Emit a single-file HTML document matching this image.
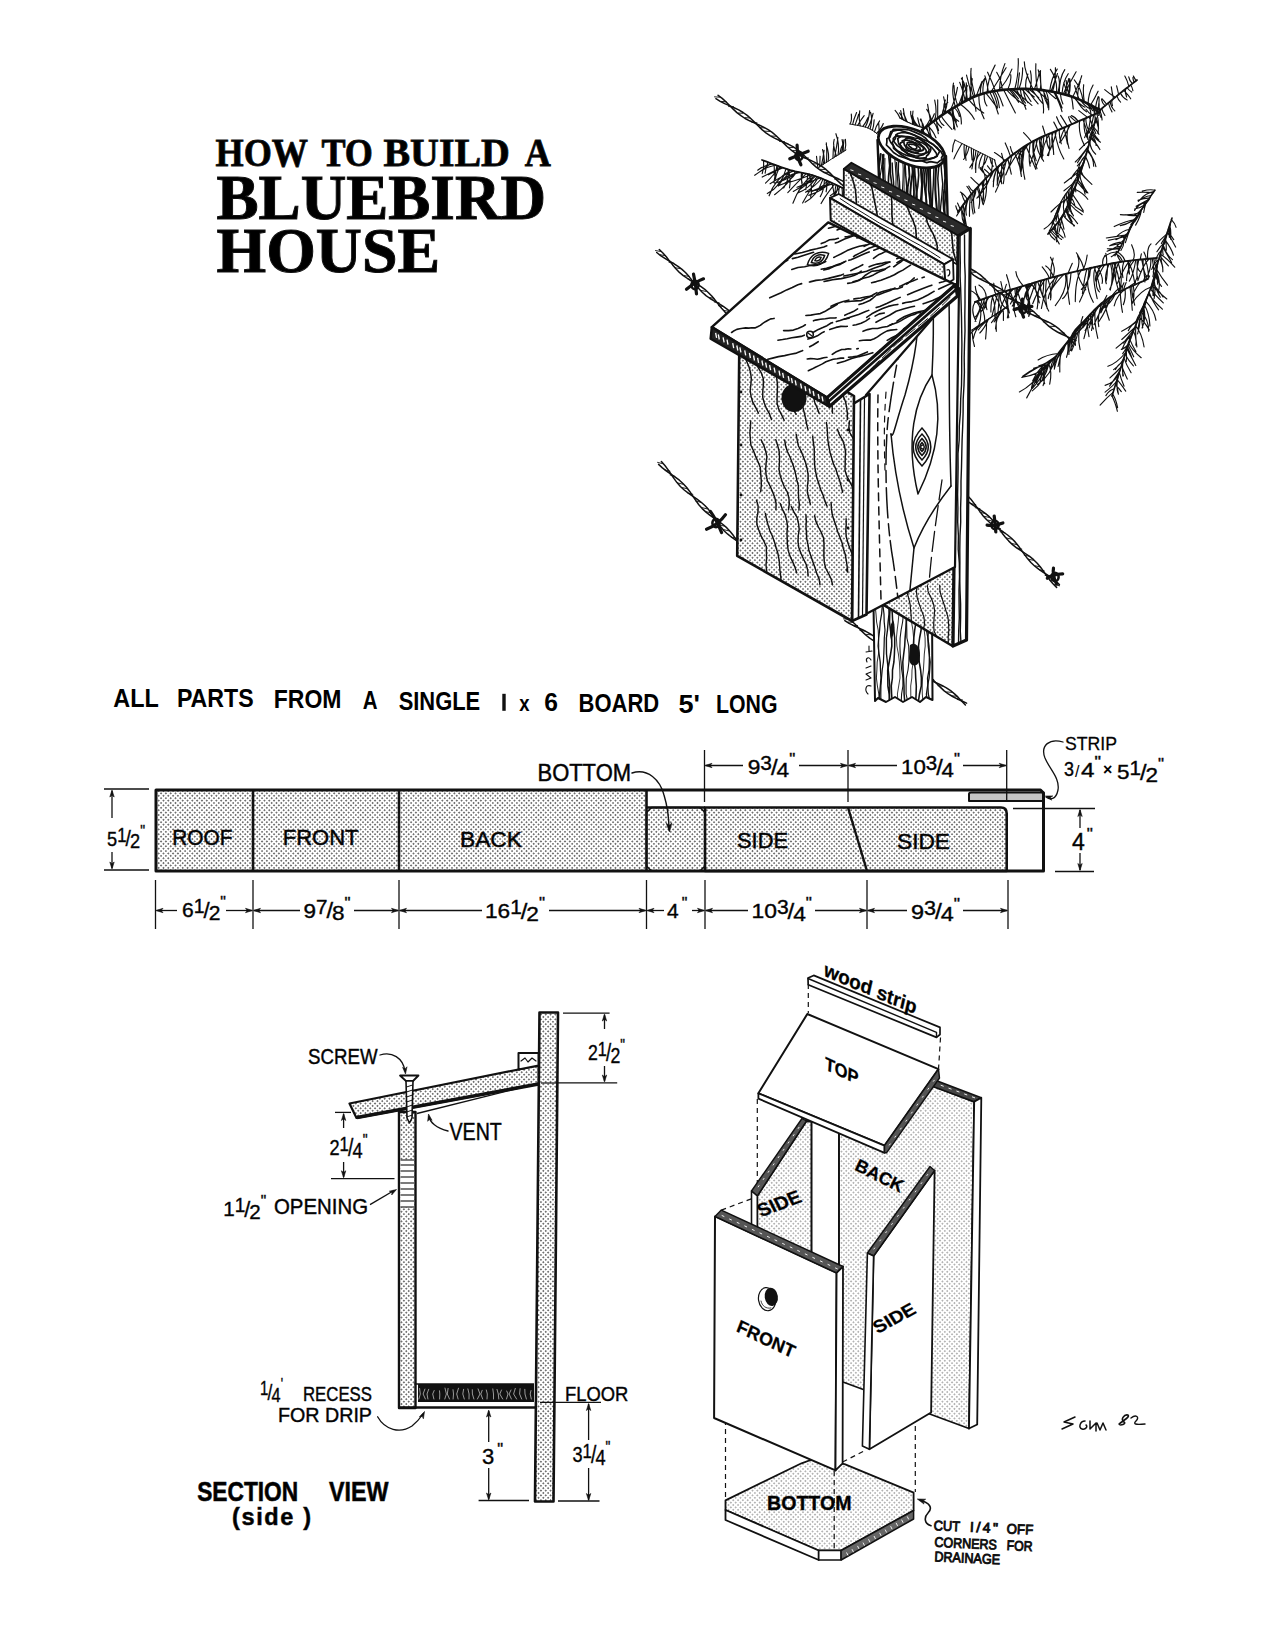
<!DOCTYPE html>
<html><head><meta charset="utf-8"><title>How to Build a Bluebird House</title>
<style>
html,body{margin:0;padding:0;background:#fff;}
body{width:1275px;height:1650px;overflow:hidden;font-family:"Liberation Sans",sans-serif;}
svg{position:absolute;left:0;top:0;display:block;}
</style></head><body>
<svg width="1275" height="1650" viewBox="0 0 1275 1650">
<defs>
<pattern id="dots" width="3.4" height="3.4" patternUnits="userSpaceOnUse" patternTransform="rotate(45)">
<rect width="3.4" height="3.4" fill="#fff"/><circle cx="1.7" cy="1.7" r="0.8" fill="#333"/></pattern>
<pattern id="dotsL" width="3.4" height="3.4" patternUnits="userSpaceOnUse" patternTransform="rotate(45)">
<rect width="3.4" height="3.4" fill="#fff"/><circle cx="1.7" cy="1.7" r="0.7" fill="#555"/></pattern>
<pattern id="grain" width="4" height="4" patternUnits="userSpaceOnUse">
<rect width="4" height="4" fill="#e4e4e4"/></pattern>
</defs>
<rect width="1275" height="1650" fill="#fff"/>
<polyline points="715.9,98.7 720.2,101.3 724.7,103.6 729.4,105.6 734.1,107.7 738.7,109.9 743.1,112.5 747.2,115.4 751.0,118.8 754.7,122.4 758.3,126.0 762.0,129.6 765.9,132.8 770.0,135.6 774.5,138.1 779.1,140.2 783.8,142.2 788.5,144.3 793.0,146.7 797.2,149.5 801.1,152.7 804.9,156.2 808.5,159.8 812.1,163.5 815.9,166.9 819.9,169.9 824.3,172.5 828.8,174.7 833.5,176.8 838.3,178.8 842.8,181.1 847.2,183.7 851.2,186.7 855.0,190.0 858.7,193.6 862.3,197.3 866.0,200.8 869.9,204.0 874.1,206.8 878.6,209.2 883.2,211.4 888.0,213.4 892.6,215.5 897.1,217.9 901.3,220.7 905.2,223.9 908.9,227.5 912.5,231.1 916.1,234.7 919.9,238.1 924.0,241.1 928.4,243.7 933.0,245.9 937.7,247.9 942.4,250.0 946.9,252.3 951.2,254.9 955.3,257.9 959.1,261.3 962.7,264.9 966.3,268.6 970.0,272.1 974.0,275.3 978.2,278.0 982.7,280.4 987.4,282.5 992.1,284.5 996.7,286.7 1001.2,289.1 1005.3,292.0 1009.2,295.2 1012.9,298.8 1016.5,302.4 1020.2,306.0 1024.0,309.4 1028.1,312.3 1032.5,314.8 1037.1,317.0 1041.8,319.1 1046.5,321.2 1051.0,323.4 1055.3,326.1 1059.3,329.2 1063.1,332.6 1066.7,336.2 1070.3,339.9 1074.1,343.4" fill="none" stroke="#111" stroke-width="1.5" stroke-linejoin="round" stroke-linecap="round" />
<polyline points="718.1,95.3 722.2,98.4 725.9,101.8 729.6,105.5 733.2,109.1 736.9,112.6 740.9,115.7 745.1,118.5 749.6,120.8 754.3,122.9 759.0,125.0 763.6,127.1 768.1,129.6 772.2,132.4 776.1,135.7 779.8,139.3 783.4,142.9 787.0,146.5 790.9,149.8 795.0,152.8 799.4,155.3 804.0,157.5 808.7,159.5 813.4,161.6 817.9,163.9 822.2,166.6 826.2,169.7 830.0,173.1 833.6,176.7 837.2,180.4 840.9,183.9 844.9,187.0 849.2,189.7 853.7,192.0 858.4,194.1 863.1,196.1 867.7,198.3 872.1,200.8 876.3,203.7 880.1,207.0 883.8,210.6 887.4,214.2 891.1,217.8 894.9,221.1 899.1,224.0 903.5,226.5 908.1,228.6 912.8,230.7 917.5,232.7 922.0,235.1 926.3,237.8 930.2,240.9 934.0,244.4 937.6,248.0 941.2,251.7 945.0,255.1 949.0,258.2 953.3,260.8 957.8,263.1 962.5,265.2 967.2,267.3 971.8,269.5 976.2,272.0 980.3,274.9 984.1,278.3 987.8,281.8 991.4,285.5 995.1,289.1 999.0,292.3 1003.1,295.2 1007.6,297.6 1012.2,299.8 1016.9,301.8 1021.6,303.9 1026.1,306.3 1030.3,309.0 1034.3,312.2 1038.0,315.7 1041.6,319.3 1045.2,323.0 1049.0,326.4 1053.1,329.4 1057.4,332.0 1061.9,334.3 1066.6,336.4 1071.3,338.4 1075.9,340.6" fill="none" stroke="#111" stroke-width="1.5" stroke-linejoin="round" stroke-linecap="round" />
<path d="M714.1,96.8L719.9,97.2M720.8,101.4L726.6,101.8M728.2,106.5L734.0,106.8M737.7,113.0L743.5,113.3M744.5,117.6L750.3,118.0M751.5,122.4L757.4,122.8M759.0,127.6L764.9,127.9M764.2,131.1L770.1,131.5M771.3,136.0L777.1,136.3M779.1,141.3L784.9,141.7M787.8,147.3L793.6,147.6M792.5,150.5L798.3,150.8M798.3,154.5L804.2,154.8M803.0,157.7L808.8,158.0M811.8,163.7L817.6,164.0M819.9,169.3L825.8,169.6M824.3,172.2L830.1,172.6M834.1,179.0L839.9,179.3M843.8,185.6L849.6,185.9M851.7,191.0L857.5,191.4M859.4,196.3L865.2,196.6M864.4,199.7L870.2,200.1M868.6,202.6L874.5,202.9M875.8,207.5L881.6,207.9M880.3,210.6L886.1,210.9M885.5,214.1L891.3,214.5M891.0,217.9L896.9,218.3M895.3,220.9L901.2,221.2M902.1,225.5L908.0,225.9M908.8,230.1L914.6,230.4M917.8,236.2L923.6,236.6M924.9,241.1L930.7,241.5M932.8,246.5L938.6,246.8M939.8,251.3L945.6,251.6M947.7,256.7L953.5,257.1M954.5,261.3L960.3,261.7M960.2,265.3L966.0,265.6M970.1,272.0L975.9,272.4M980.0,278.8L985.8,279.1M989.0,284.9L994.8,285.3M997.2,290.6L1003.0,290.9M1003.1,294.6L1009.0,295.0M1008.6,298.4L1014.4,298.7M1014.4,302.3L1020.2,302.7M1018.9,305.4L1024.7,305.8M1027.5,311.3L1033.3,311.6M1033.9,315.7L1039.7,316.0M1042.9,321.9L1048.7,322.2M1049.3,326.2L1055.1,326.6M1058.9,332.8L1064.8,333.2M1068.0,339.0L1073.8,339.3" stroke="#111" stroke-width="0.9" fill="none"/>
<polyline points="656.7,252.5 660.6,255.6 664.9,258.4 669.3,261.0 673.7,263.6 678.0,266.4 682.0,269.4 685.7,272.8 689.1,276.6 692.3,280.6 695.5,284.6 698.7,288.6 702.2,292.3 706.0,295.6 710.1,298.5 714.5,301.2 718.9,303.7 723.3,306.4 727.4,309.3 731.3,312.5" fill="none" stroke="#111" stroke-width="1.5" stroke-linejoin="round" stroke-linecap="round" />
<polyline points="659.3,249.5 662.9,253.0 666.3,256.8 669.4,260.9 672.6,264.9 675.9,268.8 679.4,272.4 683.3,275.6 687.5,278.5 691.9,281.1 696.3,283.7 700.7,286.4 704.8,289.3 708.5,292.7 712.0,296.3 715.2,300.3 718.4,304.4 721.6,308.3 725.0,312.1 728.7,315.5" fill="none" stroke="#111" stroke-width="1.5" stroke-linejoin="round" stroke-linecap="round" />
<path d="M655.1,250.5L660.9,251.5M660.0,254.7L665.7,255.8M668.6,262.2L674.3,263.3M674.8,267.7L680.5,268.7M683.7,275.5L689.5,276.5M689.6,280.6L695.3,281.7M693.7,284.3L699.5,285.3M700.8,290.4L706.5,291.5M708.7,297.3L714.4,298.4M713.9,301.9L719.6,302.9M718.1,305.6L723.8,306.6M723.6,310.4L729.3,311.4" stroke="#111" stroke-width="0.9" fill="none"/>
<polyline points="964.6,498.4 968.5,501.8 972.6,504.9 977.0,507.7 981.4,510.6 985.6,513.6 989.5,516.9 993.0,520.6 996.2,524.6 999.3,528.9 1002.2,533.2 1005.4,537.3 1008.8,541.1 1012.5,544.6 1016.6,547.8 1021.0,550.6 1025.3,553.5 1029.6,556.4 1033.6,559.7 1037.2,563.3 1040.6,567.2 1043.6,571.4 1046.6,575.7 1049.7,579.9 1053.0,583.8 1056.6,587.4" fill="none" stroke="#111" stroke-width="1.5" stroke-linejoin="round" stroke-linecap="round" />
<polyline points="967.4,495.6 970.9,499.3 974.1,503.4 977.1,507.6 980.1,511.9 983.2,516.0 986.7,519.8 990.5,523.2 994.6,526.3 999.0,529.2 1003.4,532.0 1007.6,535.0 1011.5,538.3 1015.1,541.9 1018.4,545.9 1021.4,550.2 1024.4,554.4 1027.5,558.6 1030.9,562.5 1034.6,566.0 1038.6,569.2 1042.9,572.1 1047.3,574.9 1051.6,577.9 1055.7,581.1 1059.4,584.6" fill="none" stroke="#111" stroke-width="1.5" stroke-linejoin="round" stroke-linecap="round" />
<path d="M963.2,496.3L968.8,497.7M970.6,503.5L976.2,504.8M974.8,507.6L980.4,508.9M979.6,512.2L985.3,513.6M983.7,516.2L989.4,517.5M987.6,520.0L993.3,521.3M995.2,527.3L1000.9,528.6M999.7,531.7L1005.4,533.0M1006.1,537.9L1011.8,539.2M1011.9,543.5L1017.6,544.8M1016.5,547.9L1022.2,549.2M1023.8,555.0L1029.4,556.3M1028.0,559.1L1033.7,560.4M1034.8,565.7L1040.5,567.0M1039.0,569.7L1044.7,571.0M1044.7,575.3L1050.4,576.6M1049.4,579.8L1055.1,581.1M1054.3,584.6L1060.0,585.9" stroke="#111" stroke-width="0.9" fill="none"/>
<polyline points="658.6,464.4 662.4,467.9 666.5,471.1 670.9,474.1 675.2,477.1 679.4,480.2 683.2,483.7 686.7,487.5 689.9,491.7 692.8,496.1 695.7,500.4 698.8,504.7 702.2,508.6 706.0,512.1 710.1,515.3 714.4,518.4 718.8,521.3 723.0,524.5 726.9,527.9 730.4,531.7 733.6,535.8 736.5,540.1 739.5,544.5" fill="none" stroke="#111" stroke-width="1.5" stroke-linejoin="round" stroke-linecap="round" />
<polyline points="661.4,461.6 664.9,465.5 668.0,469.6 670.9,474.0 673.9,478.4 677.0,482.6 680.4,486.5 684.2,490.0 688.3,493.2 692.6,496.2 697.0,499.2 701.2,502.3 705.1,505.8 708.6,509.6 711.7,513.7 714.7,518.1 717.6,522.5 720.7,526.7 724.0,530.7 727.8,534.2 731.9,537.5 736.2,540.5 740.5,543.5" fill="none" stroke="#111" stroke-width="1.5" stroke-linejoin="round" stroke-linecap="round" />
<path d="M657.2,462.3L662.8,463.7M664.6,469.8L670.3,471.3M669.7,474.9L675.3,476.4M677.5,482.9L683.2,484.3M682.1,487.5L687.7,488.9M687.5,493.0L693.2,494.4M695.2,500.8L700.9,502.3M701.9,507.6L707.6,509.0M705.9,511.6L711.6,513.1M714.3,520.1L719.9,521.6M718.9,524.7L724.5,526.2M723.6,529.6L729.3,531.0M731.0,537.0L736.6,538.4M736.1,542.2L741.7,543.6" stroke="#111" stroke-width="0.9" fill="none"/>
<polyline points="844.8,620.6 849.1,623.4 853.7,625.7 858.4,627.9 863.1,630.0 867.6,632.3 872.0,635.0 876.0,638.0 879.8,641.5 883.4,645.1 887.0,648.9 890.6,652.5 894.5,655.8 898.7,658.7 903.1,661.2 907.8,663.4 912.5,665.5 917.1,667.7 921.6,670.2 925.8,673.1 929.6,676.4 933.3,680.0 936.8,683.7 940.5,687.4 944.2,690.9 948.3,693.9 952.6,696.5 957.2,698.8 961.9,701.0 966.6,703.1" fill="none" stroke="#111" stroke-width="1.5" stroke-linejoin="round" stroke-linecap="round" />
<polyline points="847.2,617.4 851.1,620.5 854.9,624.0 858.5,627.7 862.0,631.4 865.7,635.0 869.7,638.2 873.9,641.0 878.4,643.4 883.1,645.6 887.8,647.7 892.4,650.0 896.8,652.6 900.9,655.5 904.7,658.9 908.4,662.6 911.9,666.3 915.5,670.0 919.4,673.3 923.5,676.3 927.9,678.9 932.5,681.1 937.2,683.2 941.9,685.4 946.4,687.8 950.6,690.7 954.5,693.9 958.2,697.4 961.8,701.2 965.4,704.9" fill="none" stroke="#111" stroke-width="1.5" stroke-linejoin="round" stroke-linecap="round" />
<path d="M843.1,618.8L848.9,619.2M847.6,622.0L853.4,622.4M852.2,625.2L858.0,625.7M859.6,630.5L865.4,630.9M865.1,634.3L870.9,634.8M872.6,639.7L878.4,640.1M878.8,644.1L884.6,644.5M885.5,648.8L891.3,649.2M895.0,655.6L900.8,656.0M901.9,660.4L907.7,660.8M909.2,665.6L915.0,666.1M918.2,672.0L924.1,672.5M923.4,675.6L929.2,676.1M928.3,679.2L934.1,679.6M937.6,685.7L943.4,686.2M946.4,691.9L952.2,692.4M951.9,695.8L957.7,696.3M957.0,699.5L962.8,699.9" stroke="#111" stroke-width="0.9" fill="none"/>
<path d="M797.1,145.2Q797.2,157.7 800.9,164.8M808.2,151.2Q799.6,154.5 789.8,158.8" stroke="#111" stroke-width="3.2" stroke-linecap="round" fill="none"/>
<ellipse cx="799" cy="156" rx="3.6" ry="4.2" fill="none" stroke="#111" stroke-width="2.6"/>
<path d="M1022.5,299.0Q1020.2,310.8 1023.5,317.0M1031.9,306.4Q1024.2,306.5 1014.1,309.6" stroke="#111" stroke-width="3.2" stroke-linecap="round" fill="none"/>
<ellipse cx="1023" cy="309" rx="3.6" ry="4.2" fill="none" stroke="#111" stroke-width="2.6"/>
<path d="M693.5,274.1Q695.6,282.8 696.5,293.9M703.5,278.8Q696.3,281.4 686.5,289.2" stroke="#111" stroke-width="3.2" stroke-linecap="round" fill="none"/>
<ellipse cx="695" cy="285" rx="3.6" ry="4.2" fill="none" stroke="#111" stroke-width="2.6"/>
<path d="M994.2,516.0Q995.4,526.1 995.8,532.0M1002.9,522.9Q993.7,526.5 987.1,525.1" stroke="#111" stroke-width="3.2" stroke-linecap="round" fill="none"/>
<ellipse cx="995" cy="525" rx="3.6" ry="4.2" fill="none" stroke="#111" stroke-width="2.6"/>
<path d="M1053.5,568.1Q1052.1,574.6 1056.5,583.9M1062.7,573.8Q1052.4,574.1 1047.3,578.2" stroke="#111" stroke-width="3.2" stroke-linecap="round" fill="none"/>
<ellipse cx="1055" cy="577" rx="3.6" ry="4.2" fill="none" stroke="#111" stroke-width="2.6"/>
<path d="M710.4,511.4Q716.4,519.8 721.6,532.6M725.5,514.7Q718.3,524.9 706.5,529.3" stroke="#111" stroke-width="3.2" stroke-linecap="round" fill="none"/>
<ellipse cx="716" cy="523" rx="3.6" ry="4.2" fill="none" stroke="#111" stroke-width="2.6"/>
<path d="M922.0,130.0Q922.5,132.8 926.5,139.1M923.1,129.2Q924.3,133.5 924.6,137.9M924.2,128.3Q927.5,124.6 930.3,119.0M925.4,127.5Q930.9,134.4 931.4,143.1M926.5,126.6Q929.4,134.6 929.5,139.2M927.6,125.8Q932.4,129.5 936.0,137.7M928.7,124.9Q929.9,134.1 932.4,140.6M929.8,124.1Q933.1,117.1 934.4,113.8M930.9,123.2Q929.2,114.6 927.6,104.3M932.0,122.4Q930.3,114.4 926.7,109.4M933.2,121.6Q937.6,126.8 938.3,133.7M934.3,120.7Q937.6,113.2 934.7,100.1M935.4,119.9Q938.5,125.1 941.6,127.8M936.5,119.1Q936.2,124.5 938.6,130.4M937.7,118.2Q937.7,107.8 937.7,99.9M938.8,117.4Q939.7,122.8 943.9,125.5M941.1,115.8Q943.5,120.3 951.9,129.4M942.2,115.0Q943.2,106.4 947.8,102.3M943.4,114.2Q947.7,107.8 947.6,94.8M944.6,113.4Q942.6,106.6 945.4,100.1M945.7,112.7Q945.8,104.9 943.6,96.9M946.9,111.9Q954.8,116.7 957.3,126.9M948.1,111.2Q954.1,118.4 958.7,121.3M949.3,110.4Q954.4,119.3 953.6,128.6M950.5,109.7Q955.2,100.4 957.5,87.3M951.7,109.0Q953.6,121.7 955.0,129.9M952.9,108.3Q952.5,114.8 956.4,121.9M954.1,107.6Q957.9,110.4 959.4,116.5M955.3,106.8Q951.3,91.9 953.5,83.1M956.5,106.1Q961.9,115.0 961.3,124.0M957.7,105.4Q954.3,97.2 954.0,85.6M958.9,104.7Q961.8,94.3 967.5,85.7M960.1,104.0Q970.8,111.8 974.3,119.3M961.3,103.3Q963.4,89.8 963.8,83.2M962.6,102.6Q963.0,89.9 962.3,77.4M963.8,101.9Q968.1,95.4 966.2,82.9M965.0,101.3Q964.6,94.7 959.7,82.4M966.2,100.6Q967.3,86.5 961.4,78.4M967.5,100.0Q966.9,90.9 964.0,83.9M968.7,99.3Q973.5,106.3 983.7,113.1M970.0,98.7Q970.3,88.1 972.3,78.7M971.3,98.1Q970.1,86.8 966.5,75.1M972.5,97.5Q975.5,106.0 976.0,111.3M973.8,96.9Q969.6,87.8 971.1,68.4M975.1,96.4Q970.8,80.1 970.8,71.2M976.4,95.9Q978.6,89.7 982.0,81.5M979.0,94.9Q978.2,106.9 984.1,118.8M980.3,94.4Q980.0,84.0 984.8,78.3M983.0,93.6Q982.4,83.9 985.5,77.7M984.3,93.2Q983.6,101.6 986.9,105.9M985.7,92.8Q991.3,99.5 996.7,107.1M987.1,92.5Q987.8,78.3 995.1,65.1M988.4,92.2Q986.8,81.2 984.9,75.9M989.8,91.9Q995.1,102.1 998.3,114.0M991.2,91.6Q996.2,83.9 1006.1,67.8M992.5,91.4Q997.5,102.1 997.4,108.1M993.9,91.1Q998.1,96.7 999.4,107.7M995.3,90.9Q992.5,82.5 987.6,72.2M996.7,90.7Q1000.9,98.8 1003.1,106.0M998.1,90.5Q1006.8,82.2 1011.9,69.1M999.5,90.3Q999.8,76.0 1004.9,63.6M1002.2,90.0Q1002.2,81.5 996.7,72.3M1003.6,89.8Q1010.8,104.3 1015.4,112.9M1006.4,89.6Q1012.9,97.4 1025.6,105.6M1007.8,89.5Q1011.7,81.6 1010.7,74.7M1009.2,89.4Q1014.8,96.2 1018.6,102.3M1010.6,89.3Q1013.3,92.0 1018.3,98.7M1012.0,89.2Q1021.2,95.3 1026.0,109.3M1013.4,89.1Q1022.0,97.0 1031.9,105.4M1014.8,89.1Q1019.0,73.4 1018.2,58.5M1016.2,89.0Q1019.7,94.9 1022.0,101.2M1017.6,89.0Q1018.2,81.9 1019.5,72.9M1019.0,88.9Q1022.9,78.6 1022.6,67.8M1020.4,88.9Q1020.9,98.2 1025.5,103.2M1021.8,88.9Q1027.5,95.6 1031.0,101.5M1023.2,88.9Q1024.2,98.2 1027.9,102.6M1024.6,88.9Q1028.4,92.6 1034.3,97.0M1026.0,88.9Q1024.7,82.4 1027.9,74.0M1027.4,88.9Q1030.8,95.4 1038.1,103.8M1028.8,89.0Q1035.3,94.0 1038.8,97.8M1030.2,89.0Q1032.3,79.1 1030.4,70.9M1031.6,89.1Q1039.1,99.5 1043.3,104.2M1033.0,89.2Q1024.3,71.1 1024.3,61.8M1034.4,89.2Q1038.7,77.4 1039.3,71.3M1035.8,89.4Q1042.9,95.6 1047.4,99.7M1037.2,89.5Q1035.3,73.0 1035.9,63.7M1038.6,89.6Q1044.5,100.8 1043.4,113.0M1040.0,89.8Q1042.2,82.6 1038.2,69.8M1041.4,89.9Q1040.2,79.5 1040.5,70.6M1042.8,90.1Q1047.6,99.3 1048.1,107.6M1044.1,90.3Q1043.3,97.6 1047.5,104.7M1045.5,90.5Q1049.3,97.1 1048.7,109.8M1046.9,90.7Q1052.5,96.4 1055.9,98.7M1049.7,91.2Q1051.3,77.8 1057.2,69.1M1051.0,91.4Q1053.2,85.6 1057.5,73.5M1052.4,91.7Q1055.7,83.3 1055.4,67.7M1053.8,91.9Q1060.3,104.3 1062.0,111.6M1055.2,92.2Q1059.9,101.9 1062.1,107.9M1056.5,92.5Q1057.7,79.8 1050.4,69.3M1057.9,92.8Q1060.9,81.8 1058.1,76.0M1059.3,93.1Q1059.3,77.6 1064.8,69.6M1060.6,93.5Q1060.2,97.5 1062.9,104.0M1062.0,93.8Q1063.0,81.4 1068.2,73.7M1063.3,94.1Q1066.4,88.2 1068.8,78.5M1064.7,94.5Q1069.0,83.6 1076.1,71.8M1066.0,94.9Q1066.9,90.1 1063.8,82.7M1067.4,95.2Q1070.9,88.4 1069.0,79.8M1068.7,95.6Q1071.0,88.5 1069.8,78.8M1070.1,96.0Q1066.7,90.4 1066.2,80.6M1071.4,96.5Q1072.5,101.1 1073.2,108.9M1072.7,96.9Q1079.9,82.8 1081.8,75.7M1074.1,97.4Q1079.3,104.7 1084.9,107.2M1075.4,97.9Q1080.4,107.5 1086.5,111.8M1078.0,98.9Q1076.9,92.3 1080.3,81.3M1079.2,99.5Q1076.7,93.7 1074.6,85.7M1080.5,100.1Q1085.1,106.6 1090.1,108.8M1081.8,100.7Q1087.7,103.4 1091.7,108.5M1083.1,101.2Q1081.2,88.2 1074.3,79.9M1084.3,101.8Q1082.8,92.3 1083.7,84.7M1085.6,102.5Q1090.0,105.9 1092.6,110.6M1086.8,103.1Q1090.3,107.0 1091.0,114.4M1088.1,103.7Q1088.3,93.7 1093.1,85.0M1089.3,104.4Q1092.0,106.6 1097.5,111.7M1090.6,105.0Q1094.4,99.0 1098.1,91.2M1091.8,105.7Q1094.9,108.5 1098.7,115.5M1093.0,106.3Q1095.3,115.2 1095.6,122.8M1095.5,107.7Q1096.3,102.1 1098.2,96.5M1096.7,108.3Q1099.9,114.5 1101.1,117.6M1098.0,109.0Q1099.4,105.1 1099.0,97.1M1099.2,109.6Q1102.3,115.3 1102.0,119.9" fill="none" stroke="#111" stroke-width="1.15" stroke-linecap="round"/>
<polyline points="922.0,130.0 923.6,128.8 925.7,127.2 928.1,125.4 930.8,123.3 933.8,121.1 937.0,118.7 940.2,116.4 943.5,114.1 946.8,112.0 950.0,110.0 953.2,108.1 956.4,106.2 959.7,104.3 963.0,102.4 966.4,100.5 969.9,98.7 973.5,97.0 977.2,95.5 981.1,94.2 985.0,93.0 989.1,92.0 993.4,91.2 997.9,90.5 1002.5,89.9 1007.2,89.5 1011.9,89.2 1016.6,89.0 1021.2,88.9 1025.7,88.9 1030.0,89.0 1034.2,89.2 1038.5,89.6 1042.7,90.1 1046.8,90.7 1050.9,91.4 1055.0,92.2 1058.9,93.0 1062.7,94.0 1066.4,95.0 1070.0,96.0 1073.5,97.2 1077.1,98.6 1080.7,100.1 1084.2,101.8 1087.5,103.4 1090.6,105.1 1093.5,106.6 1096.1,108.0 1098.3,109.1 1100.0,110.0" fill="none" stroke="#111" stroke-width="2.6" stroke-linecap="round" stroke-linejoin="round"/>
<path d="M900.0,118.0Q898.2,113.6 895.1,110.3M901.8,118.9Q901.7,115.0 899.4,112.9M903.5,119.9Q901.3,116.6 900.7,110.5M905.3,120.8Q905.2,116.4 903.3,113.3M907.1,121.7Q903.6,115.4 903.3,108.6M912.5,124.2Q911.9,118.4 913.0,111.0M914.4,124.9Q910.1,116.6 910.7,111.4M916.3,125.6Q912.4,120.4 911.2,115.0M918.2,126.2Q913.6,121.9 912.8,116.2M920.1,126.8Q918.6,122.7 917.7,117.8M922.0,127.4Q923.0,124.2 920.9,118.9M923.9,128.0Q923.5,123.9 920.3,119.7" fill="none" stroke="#111" stroke-width="1.15" stroke-linecap="round"/>
<polyline points="900.0,118.0 900.7,118.4 901.6,118.8 902.7,119.4 903.9,120.1 905.2,120.8 906.6,121.5 908.0,122.2 909.4,122.8 910.7,123.5 912.0,124.0 913.3,124.5 914.6,125.0 916.0,125.5 917.4,125.9 918.8,126.4 920.1,126.8 921.3,127.2 922.4,127.5 923.3,127.8 924.0,128.0" fill="none" stroke="#111" stroke-width="1.2" stroke-linecap="round" stroke-linejoin="round"/>
<path d="M1100.0,110.0Q1098.5,107.4 1098.9,103.9M1101.7,108.6Q1102.8,112.3 1104.9,115.5M1105.1,105.8Q1102.2,103.2 1101.5,99.6M1106.7,104.3Q1103.6,100.3 1101.9,98.6M1108.4,102.9Q1109.9,108.5 1112.0,111.9M1110.1,101.5Q1110.9,107.2 1114.8,110.8M1111.8,100.1Q1111.6,102.5 1112.5,105.7M1113.5,98.7Q1112.0,92.1 1111.3,86.8M1115.2,97.3Q1109.1,93.4 1104.7,89.6M1116.9,95.9Q1118.2,100.1 1120.6,102.1M1118.6,94.5Q1117.5,89.2 1116.6,85.9M1120.3,93.1Q1122.7,97.9 1127.2,100.0M1123.8,90.4Q1128.7,95.5 1130.7,98.8M1125.5,89.0Q1124.8,92.2 1126.6,97.0M1127.2,87.7Q1128.9,90.3 1131.7,92.1M1128.9,86.3Q1127.2,80.1 1124.8,76.0M1130.7,85.0Q1132.1,86.9 1132.9,90.7M1132.4,83.6Q1129.3,80.5 1128.7,76.9M1134.1,82.2Q1133.1,80.3 1132.9,77.6M1135.9,80.9Q1135.4,79.4 1133.4,76.1" fill="none" stroke="#111" stroke-width="1.15" stroke-linecap="round"/>
<polyline points="1100.0,110.0 1101.1,109.1 1102.4,108.0 1104.0,106.6 1105.9,105.1 1107.8,103.4 1109.9,101.7 1112.0,100.0 1114.0,98.2 1116.1,96.6 1118.0,95.0 1119.9,93.4 1122.0,91.8 1124.2,90.0 1126.4,88.3 1128.6,86.6 1130.7,84.9 1132.7,83.4 1134.4,82.0 1135.9,80.9 1137.0,80.0" fill="none" stroke="#111" stroke-width="1.8" stroke-linecap="round" stroke-linejoin="round"/>
<path d="M1098.4,112.7Q1094.9,107.1 1091.3,104.1M1096.9,113.3Q1099.4,123.5 1097.9,133.5M1095.3,114.0Q1094.7,109.1 1091.2,106.2M1093.8,114.7Q1092.0,123.3 1090.9,129.1M1092.2,115.4Q1088.2,112.6 1086.0,109.3M1090.6,116.0Q1089.3,129.1 1086.9,136.6M1089.1,116.7Q1092.0,124.7 1095.8,133.4M1087.5,117.4Q1083.4,114.1 1078.8,110.6M1085.9,118.0Q1085.4,124.5 1089.9,133.1M1084.4,118.7Q1082.9,130.5 1087.1,137.8M1082.8,119.4Q1087.8,131.6 1087.9,139.5M1079.7,120.7Q1077.9,133.0 1084.5,145.5M1078.1,121.4Q1075.6,117.0 1071.4,115.6M1076.6,122.1Q1072.7,119.0 1070.0,116.4M1071.9,124.1Q1069.5,120.7 1068.5,116.9M1070.3,124.8Q1064.8,136.0 1061.3,140.9M1068.8,125.5Q1065.2,135.6 1069.0,148.4M1067.2,126.1Q1063.8,120.3 1060.6,115.4M1065.7,126.8Q1061.8,132.8 1059.7,142.6M1064.1,127.5Q1065.6,134.7 1067.5,144.2M1062.6,128.2Q1058.2,122.0 1056.5,116.8M1059.4,129.5Q1058.7,135.5 1061.3,143.8M1057.9,130.2Q1055.4,125.0 1053.8,122.1M1056.3,130.9Q1055.7,138.6 1047.4,155.4M1054.7,131.5Q1057.5,148.1 1063.8,159.0M1053.2,132.2Q1050.2,139.1 1053.5,150.7M1051.6,132.8Q1053.0,140.8 1053.7,154.5M1050.0,133.5Q1042.8,143.1 1042.1,158.2M1048.4,134.1Q1051.3,142.7 1048.6,155.6M1046.9,134.8Q1045.7,143.3 1049.9,150.3M1045.3,135.4Q1044.6,132.2 1042.6,126.0M1043.8,136.1Q1044.0,148.4 1035.9,166.8M1042.2,136.8Q1038.5,146.9 1041.8,158.9M1040.7,137.5Q1041.2,146.4 1043.0,155.6M1039.1,138.2Q1039.6,146.2 1042.0,155.1M1037.6,139.0Q1035.9,146.8 1030.5,163.2M1036.1,139.7Q1036.2,150.4 1043.6,161.2M1034.5,140.5Q1031.9,149.4 1036.2,160.6M1033.0,141.3Q1031.9,154.6 1037.0,168.6M1031.6,142.1Q1029.5,138.6 1023.5,132.6M1030.1,143.0Q1028.2,157.4 1030.1,166.2M1028.6,143.8Q1022.6,151.2 1020.9,158.5M1027.2,144.7Q1020.2,150.8 1017.4,160.5M1025.7,145.6Q1029.8,155.0 1035.8,169.3M1024.3,146.5Q1023.1,163.3 1020.7,173.5M1022.9,147.5Q1021.7,165.9 1024.9,179.3M1021.5,148.4Q1009.8,163.0 1005.6,174.9M1020.1,149.4Q1022.4,160.2 1020.9,170.5M1018.7,150.4Q1019.6,157.3 1020.3,169.5M1014.5,153.3Q1020.4,164.7 1021.4,176.4M1013.2,154.4Q1011.0,150.5 1010.3,146.5M1011.8,155.4Q1010.4,163.9 1005.8,174.9M1010.5,156.4Q1008.2,149.3 1005.2,142.9M1009.1,157.5Q999.1,169.9 997.1,185.1M1007.8,158.5Q1010.1,168.9 1011.3,174.2M1006.5,159.6Q1004.5,169.9 1000.3,181.9M1005.2,160.7Q998.0,154.4 994.5,152.6M1003.9,161.8Q1002.2,156.1 1001.6,153.3M1002.5,162.8Q1005.2,175.8 1003.3,183.7M1001.3,163.9Q1003.3,176.9 995.5,192.1M1000.0,165.0Q994.5,170.8 993.3,181.7M998.7,166.2Q996.9,171.8 997.4,183.5M997.4,167.3Q993.4,176.9 993.3,186.7M996.1,168.4Q1001.2,174.9 1001.7,183.6M993.6,170.7Q991.1,178.3 983.7,186.1M992.4,171.9Q990.1,169.3 987.5,165.8M991.2,173.1Q989.2,185.0 976.9,198.2M990.0,174.3Q986.3,170.7 984.4,169.3M987.5,176.6Q982.0,171.5 980.2,168.7M986.3,177.9Q987.6,193.6 983.3,204.7M985.2,179.1Q985.0,171.6 980.5,167.6M984.0,180.3Q984.1,185.8 978.9,197.3M982.8,181.5Q984.1,193.4 983.2,200.9M981.6,182.8Q984.7,190.5 982.6,200.6M979.3,185.2Q975.3,182.0 970.9,177.3M978.2,186.5Q980.1,192.1 982.9,204.1M977.0,187.8Q981.3,195.9 978.8,208.4M975.9,189.0Q976.0,195.4 971.2,202.5M974.7,190.3Q972.2,199.7 974.8,212.9M973.6,191.6Q970.8,190.1 968.7,186.1M972.5,192.9Q970.7,204.3 973.2,214.0M971.4,194.2Q969.4,189.0 966.9,186.3M970.4,195.5Q969.3,205.0 969.5,216.3M969.3,196.8Q964.7,206.8 966.4,215.1M968.3,198.2Q963.2,209.6 964.0,221.5M967.2,199.5Q965.6,195.5 960.4,192.1M966.2,200.9Q959.7,210.7 956.6,216.0M965.2,202.2Q963.3,199.2 961.3,192.6M963.2,205.0Q964.5,216.2 966.6,226.8M962.2,206.3Q960.4,216.6 964.7,226.1M961.2,207.7Q965.8,220.7 964.8,229.4M960.2,209.1Q958.5,205.1 957.5,203.0M958.1,211.8Q956.2,208.5 955.8,205.8" fill="none" stroke="#111" stroke-width="1.15" stroke-linecap="round"/>
<polyline points="1100.0,112.0 1097.8,113.0 1094.9,114.2 1091.5,115.7 1087.7,117.3 1083.6,119.1 1079.3,120.9 1075.0,122.8 1070.7,124.6 1066.7,126.4 1063.0,128.0 1059.5,129.5 1056.1,131.0 1052.7,132.4 1049.4,133.7 1046.1,135.1 1042.8,136.5 1039.6,138.0 1036.3,139.6 1033.2,141.2 1030.0,143.0 1026.9,144.9 1023.7,146.9 1020.6,149.0 1017.5,151.2 1014.5,153.4 1011.5,155.6 1008.5,158.0 1005.6,160.3 1002.8,162.6 1000.0,165.0 997.3,167.4 994.6,169.9 991.9,172.4 989.3,174.9 986.7,177.5 984.2,180.1 981.8,182.6 979.4,185.1 977.2,187.6 975.0,190.0 972.9,192.4 970.8,194.9 968.8,197.5 966.8,200.1 964.9,202.6 963.2,204.9 961.6,207.1 960.2,209.1 959.0,210.7 958.0,212.0" fill="none" stroke="#111" stroke-width="2.0" stroke-linecap="round" stroke-linejoin="round"/>
<path d="M1096.0,118.0Q1098.2,121.0 1097.7,125.7M1095.5,119.8Q1097.6,123.8 1098.6,128.2M1094.5,123.5Q1091.3,130.0 1087.0,134.5M1094.1,125.3Q1087.2,129.3 1084.6,137.6M1093.6,127.2Q1097.8,131.4 1098.9,134.4M1093.1,129.0Q1088.8,136.8 1088.4,143.1M1092.6,130.9Q1095.8,137.3 1098.9,140.2M1092.1,132.7Q1095.4,139.1 1100.5,142.2M1091.6,134.5Q1095.7,139.5 1096.1,145.5M1091.2,136.4Q1093.2,139.3 1095.7,143.5M1090.7,138.2Q1096.2,142.5 1099.9,149.6M1090.2,140.0Q1084.3,144.1 1079.3,149.9M1089.7,141.9Q1090.7,150.0 1095.7,154.2M1088.7,145.5Q1080.8,156.8 1075.3,162.0M1088.2,147.4Q1081.9,154.9 1077.5,162.8M1087.7,149.2Q1095.1,161.3 1095.9,166.6M1087.2,151.0Q1093.4,156.1 1093.7,166.2M1086.6,152.9Q1084.8,157.7 1077.3,165.8M1086.1,154.7Q1077.9,162.8 1076.9,176.7M1085.5,156.5Q1088.9,163.3 1089.6,168.0M1085.0,158.3Q1083.7,166.5 1079.0,170.4M1084.4,160.1Q1080.9,167.2 1076.9,180.3M1083.9,162.0Q1080.6,166.7 1076.6,175.5M1082.8,165.6Q1076.4,169.3 1071.1,178.6M1082.2,167.4Q1079.4,173.4 1071.4,185.4M1081.6,169.2Q1072.2,177.0 1064.3,183.0M1081.0,171.0Q1082.5,176.3 1086.6,179.4M1080.4,172.8Q1083.4,176.3 1091.9,184.3M1079.8,174.6Q1080.5,183.2 1087.9,193.0M1078.5,178.2Q1071.2,185.6 1064.0,190.8M1077.9,180.0Q1083.8,186.5 1085.1,194.2M1077.2,181.8Q1081.5,187.1 1086.6,192.7M1076.6,183.5Q1075.2,187.9 1070.2,196.8M1075.9,185.3Q1069.9,192.6 1069.1,201.4M1075.2,187.1Q1071.9,195.0 1068.7,212.0M1074.5,188.9Q1083.9,193.3 1087.8,199.3M1073.8,190.6Q1071.0,200.2 1066.6,212.8M1073.1,192.4Q1066.3,196.6 1063.7,203.4M1072.4,194.2Q1077.2,200.9 1083.2,210.6M1071.7,195.9Q1059.8,202.3 1051.0,212.0M1071.0,197.7Q1074.0,200.7 1075.1,207.0M1070.3,199.5Q1069.1,210.2 1073.5,215.8M1069.6,201.2Q1076.0,207.8 1083.4,212.1M1068.8,203.0Q1075.2,210.5 1082.2,214.7M1068.1,204.7Q1064.1,212.5 1062.0,217.8M1066.5,208.2Q1067.3,212.9 1072.2,221.7M1065.7,209.9Q1068.0,217.5 1074.1,226.2M1064.8,211.6Q1071.0,214.6 1077.6,223.6M1064.0,213.3Q1056.6,224.7 1049.4,232.7M1063.0,214.9Q1066.9,220.7 1074.5,225.5M1062.1,216.5Q1061.0,224.5 1059.0,232.1M1061.0,218.1Q1062.8,223.6 1064.0,229.1M1060.0,219.7Q1054.5,226.3 1051.5,230.6M1058.8,221.2Q1056.8,233.1 1056.6,241.8M1057.7,222.7Q1063.8,229.7 1065.1,237.1M1056.5,224.2Q1052.0,230.0 1049.1,232.8M1054.0,227.1Q1055.1,233.3 1058.7,236.1M1052.8,228.6Q1056.5,231.8 1063.2,238.0M1051.5,230.0Q1057.0,236.7 1061.6,239.5M1050.2,231.4Q1056.0,236.5 1059.3,243.9M1049.0,232.8Q1050.4,236.5 1055.1,240.0" fill="none" stroke="#111" stroke-width="1.15" stroke-linecap="round"/>
<polyline points="1096.0,118.0 1095.4,120.2 1094.6,123.1 1093.7,126.6 1092.7,130.5 1091.6,134.6 1090.5,138.9 1089.3,143.2 1088.2,147.5 1087.0,151.4 1086.0,155.0 1085.0,158.3 1084.0,161.4 1083.1,164.5 1082.1,167.5 1081.2,170.4 1080.2,173.3 1079.2,176.2 1078.2,179.1 1077.1,182.0 1076.0,185.0 1074.8,188.0 1073.6,191.2 1072.4,194.3 1071.1,197.5 1069.8,200.7 1068.5,203.8 1067.1,206.8 1065.8,209.7 1064.4,212.4 1063.0,215.0 1061.5,217.4 1059.9,219.8 1058.2,222.1 1056.4,224.3 1054.7,226.4 1053.0,228.3 1051.5,230.0 1050.1,231.6 1048.9,232.9 1048.0,234.0" fill="none" stroke="#111" stroke-width="1.8" stroke-linecap="round" stroke-linejoin="round"/>
<path d="M1075.0,182.0Q1075.4,186.1 1075.8,191.8M1073.5,183.9Q1070.1,194.0 1070.6,199.9M1072.0,185.8Q1070.6,194.0 1068.8,200.5M1070.6,187.7Q1072.5,192.1 1071.3,197.5M1069.1,189.6Q1069.4,198.6 1067.4,203.2M1067.6,191.5Q1069.6,196.2 1067.4,204.5M1066.2,193.4Q1066.1,204.0 1071.9,213.7M1064.9,195.4Q1061.7,207.4 1065.4,216.8M1061.2,201.6Q1059.5,212.1 1053.2,222.3M1059.2,205.9Q1057.5,212.0 1056.0,221.5M1058.2,208.1Q1057.2,214.5 1056.2,220.4M1057.3,210.3Q1057.9,218.5 1060.3,224.5M1056.4,212.6Q1052.9,224.0 1044.1,228.9M1054.7,217.1Q1052.5,226.5 1049.2,231.2M1053.0,221.5Q1055.7,227.7 1056.0,230.7" fill="none" stroke="#111" stroke-width="1.15" stroke-linecap="round"/>
<polyline points="1075.0,182.0 1074.2,183.0 1073.2,184.4 1072.0,185.9 1070.6,187.6 1069.1,189.5 1067.6,191.5 1066.1,193.6 1064.6,195.7 1063.2,197.9 1062.0,200.0 1060.8,202.3 1059.6,204.8 1058.5,207.5 1057.3,210.3 1056.2,213.1 1055.1,215.8 1054.2,218.4 1053.3,220.6 1052.6,222.5 1052.0,224.0" fill="none" stroke="#111" stroke-width="1.2" stroke-linecap="round" stroke-linejoin="round"/>
<path d="M763.5,160.5Q764.1,168.5 762.2,173.6M768.0,162.2Q765.9,167.1 765.1,173.2M771.0,163.3Q761.6,170.6 754.7,175.3M772.5,163.9Q763.1,165.6 757.7,170.2M774.0,164.5Q774.6,168.8 774.0,174.9M775.5,165.0Q766.0,167.2 759.8,171.8M777.0,165.6Q775.7,171.4 773.9,182.6M778.5,166.1Q775.8,173.6 765.5,183.1M780.0,166.6Q776.0,174.3 775.5,179.1M781.5,167.2Q770.2,172.9 762.2,177.1M783.0,167.7Q775.7,170.6 768.4,174.8M786.1,168.7Q781.8,186.0 767.3,193.6M787.6,169.2Q791.5,176.5 789.5,187.9M789.1,169.7Q789.5,178.6 783.7,188.0M790.6,170.2Q774.7,179.2 769.1,195.8M792.2,170.6Q782.5,178.5 778.5,186.1M793.7,171.0Q786.2,173.4 770.1,183.8M795.3,171.4Q789.7,183.1 774.6,194.7M796.8,171.7Q790.1,182.6 778.4,185.6M798.4,172.1Q783.6,181.8 774.6,183.1M800.0,172.4Q784.9,175.3 777.9,184.4M801.5,172.7Q800.8,178.9 802.2,182.9M803.1,173.0Q800.5,178.4 802.3,185.5M806.3,173.6Q798.2,181.4 787.8,192.6M807.8,174.0Q807.0,181.6 805.8,189.6M809.4,174.4Q812.9,188.9 810.6,197.2M810.9,174.8Q797.4,180.3 789.3,182.1M812.5,175.2Q800.0,184.2 792.9,203.2M814.0,175.7Q807.6,183.7 793.3,191.5M815.5,176.2Q807.7,184.3 798.8,190.3M817.0,176.7Q808.7,189.1 797.8,192.9M818.5,177.3Q807.7,193.7 802.6,203.0M820.0,177.9Q807.8,183.1 797.0,187.3M821.5,178.5Q816.1,185.3 805.6,192.2M823.0,179.1Q817.2,195.8 805.1,202.3M824.4,179.7Q824.3,190.0 820.3,196.6M825.9,180.3Q827.7,184.1 826.1,191.8M827.4,181.0Q820.2,190.3 805.9,192.0M828.8,181.6Q824.8,188.2 815.1,190.4M830.3,182.3Q824.0,189.9 808.8,195.4M831.8,182.9Q834.6,193.2 834.2,199.9M833.2,183.6Q822.7,186.5 812.4,191.3M834.7,184.2Q825.6,195.2 821.1,203.6M836.1,184.9Q834.8,188.9 835.1,195.3M837.6,185.6Q837.6,192.2 834.3,195.6M839.0,186.2Q839.5,193.6 836.5,203.0M840.5,186.9Q837.1,191.4 830.3,195.7M842.0,187.5Q842.4,191.3 842.4,196.8" fill="none" stroke="#111" stroke-width="1.15" stroke-linecap="round"/>
<polyline points="762.0,160.0 763.7,160.6 765.9,161.4 768.4,162.4 771.3,163.5 774.4,164.6 777.7,165.8 780.9,167.0 784.1,168.1 787.2,169.1 790.0,170.0 792.6,170.7 795.1,171.4 797.6,171.9 800.1,172.4 802.5,172.9 804.9,173.4 807.4,173.9 809.9,174.5 812.4,175.2 815.0,176.0 817.8,177.0 820.9,178.2 824.1,179.5 827.3,180.9 830.6,182.4 833.7,183.8 836.6,185.1 839.1,186.3 841.3,187.3 843.0,188.0" fill="none" stroke="#111" stroke-width="1.8" stroke-linecap="round" stroke-linejoin="round"/>
<path d="M818.0,168.0Q817.3,164.1 816.5,156.3M819.7,166.9Q819.8,163.3 820.1,156.2M821.3,165.8Q823.0,158.8 824.1,150.2M823.0,164.6Q825.4,157.3 822.5,149.6M824.6,163.5Q824.1,156.6 823.1,151.6M826.3,162.4Q827.3,154.1 826.3,142.8M828.0,161.3Q829.9,155.2 826.2,144.4M833.0,158.1Q833.0,151.7 833.8,144.6M834.7,157.0Q837.1,144.0 837.9,137.5M836.4,156.0Q832.4,145.0 834.2,139.3M838.1,154.9Q839.7,144.2 835.9,133.7M839.8,153.8Q840.8,147.3 843.5,143.0M841.5,152.8Q843.6,145.0 842.1,139.5M843.2,151.7Q843.3,145.6 843.9,139.9M844.9,150.7Q846.3,144.8 845.4,139.4" fill="none" stroke="#111" stroke-width="1.15" stroke-linecap="round"/>
<polyline points="818.0,168.0 818.7,167.5 819.6,166.9 820.6,166.3 821.7,165.5 823.0,164.6 824.3,163.7 825.7,162.8 827.2,161.9 828.6,160.9 830.0,160.0 831.5,159.0 833.2,158.0 835.0,156.8 836.9,155.7 838.8,154.5 840.6,153.4 842.2,152.3 843.8,151.4 845.0,150.6 846.0,150.0" fill="none" stroke="#111" stroke-width="1.0" stroke-linecap="round" stroke-linejoin="round"/>
<path d="M850.0,124.0Q852.1,120.8 851.3,114.1M852.6,124.5Q853.6,119.5 856.6,112.5M855.1,124.9Q857.5,118.4 858.7,114.2M857.7,125.4Q861.8,118.5 864.2,115.7M860.2,125.9Q858.4,117.8 859.7,110.8M862.8,126.5Q865.7,123.2 868.0,117.5M865.3,127.1Q869.0,120.3 869.6,110.6M867.8,127.9Q870.7,123.4 873.1,113.3M870.1,129.0Q873.0,119.3 870.5,112.3M872.4,130.3Q873.7,126.6 874.2,119.8M874.5,131.8Q875.5,126.8 879.6,120.9M876.6,133.4Q881.9,127.8 883.3,123.5M878.6,135.0Q879.5,130.3 878.6,122.7" fill="none" stroke="#111" stroke-width="1.15" stroke-linecap="round"/>
<polyline points="850.0,124.0 851.1,124.2 852.5,124.5 854.3,124.8 856.2,125.1 858.2,125.5 860.4,125.9 862.5,126.4 864.5,126.9 866.4,127.4 868.0,128.0 869.5,128.7 871.0,129.5 872.4,130.4 873.8,131.3 875.1,132.2 876.4,133.2 877.5,134.1 878.5,134.8 879.3,135.5 880.0,136.0" fill="none" stroke="#111" stroke-width="1.0" stroke-linecap="round" stroke-linejoin="round"/>
<path d="M975.0,302.0Q970.0,310.2 976.0,321.3M976.4,301.5Q983.9,309.9 978.8,325.6M977.8,301.0Q984.7,308.7 985.0,322.9M979.2,300.5Q977.5,292.9 969.6,290.2M980.6,299.9Q975.5,292.9 975.3,286.3M982.0,299.4Q979.5,314.4 974.5,317.7M983.4,298.9Q985.9,304.3 980.7,312.4M984.9,298.4Q982.6,304.9 975.0,321.2M986.3,297.9Q985.9,289.1 978.9,285.1M987.7,297.4Q987.3,300.0 984.0,309.1M989.1,296.8Q984.5,302.1 986.9,309.6M990.5,296.3Q984.8,298.4 985.2,307.6M991.9,295.8Q995.8,304.1 994.8,316.9M993.3,295.3Q990.7,301.1 990.9,312.0M994.7,294.8Q998.7,300.1 1000.9,310.0M996.1,294.3Q993.7,291.4 993.8,283.2M997.6,293.8Q994.9,303.6 992.1,315.7M999.0,293.3Q998.8,307.0 997.8,313.7M1000.4,292.9Q998.8,303.8 1006.7,308.7M1001.8,292.4Q1009.9,308.1 1007.4,317.9M1003.3,291.9Q1002.4,289.2 1000.8,281.5M1004.7,291.5Q1004.4,290.0 1006.4,284.4M1006.1,291.1Q1007.7,312.4 1008.8,317.8M1009.0,290.2Q1013.1,295.1 1014.0,309.2M1010.4,289.8Q1009.3,283.0 1006.5,274.7M1011.9,289.4Q1001.9,299.6 1000.4,311.4M1013.3,289.0Q1004.3,296.9 1009.4,313.0M1014.8,288.5Q1016.4,308.6 1023.5,313.9M1016.2,288.1Q1017.7,299.6 1012.2,306.1M1017.6,287.7Q1016.6,295.7 1027.7,313.7M1020.5,286.8Q1012.6,299.3 1010.4,304.0M1022.0,286.4Q1010.4,302.8 1015.8,316.8M1023.4,286.0Q1016.6,278.7 1015.9,271.6M1024.8,285.5Q1030.1,292.9 1028.8,316.5M1026.3,285.1Q1031.6,308.7 1029.8,314.9M1027.7,284.6Q1028.0,291.2 1028.4,312.6M1029.1,284.2Q1023.8,296.6 1027.3,299.8M1030.6,283.8Q1040.3,291.3 1037.1,308.9M1032.0,283.3Q1023.6,290.6 1023.3,307.4M1033.4,282.9Q1027.1,289.7 1026.7,297.1M1034.9,282.4Q1034.1,288.5 1025.3,310.5M1036.3,282.0Q1033.7,293.4 1040.1,297.5M1037.7,281.6Q1045.1,304.2 1048.7,311.1M1040.6,280.7Q1039.3,290.8 1044.4,297.9M1042.0,280.3Q1035.9,292.5 1039.3,302.9M1043.5,279.9Q1044.1,285.0 1042.5,296.2M1044.9,279.4Q1037.1,292.2 1032.7,303.7M1046.4,279.0Q1044.5,297.5 1047.2,308.6M1047.8,278.6Q1052.4,292.9 1050.5,299.9M1049.3,278.2Q1048.5,274.7 1042.2,266.9M1050.7,277.8Q1050.2,269.2 1053.1,258.1M1052.1,277.4Q1057.4,271.4 1050.5,257.2M1053.6,277.0Q1050.2,268.5 1045.8,265.9M1055.0,276.6Q1050.5,288.5 1050.5,297.6M1056.5,276.3Q1043.9,289.5 1041.4,308.5M1057.9,275.9Q1054.5,283.0 1049.7,294.0M1063.8,274.4Q1048.5,290.2 1048.3,298.6M1065.2,274.0Q1068.9,288.2 1055.3,305.6M1066.7,273.6Q1067.5,292.4 1069.6,304.3M1068.1,273.3Q1071.0,266.1 1072.3,263.3M1071.0,272.6Q1069.7,293.3 1062.6,298.6M1076.9,271.2Q1080.6,262.2 1077.6,255.7M1078.3,270.8Q1076.3,276.2 1085.8,289.8M1081.3,270.2Q1075.3,278.6 1075.3,301.6M1082.7,269.8Q1085.7,265.8 1087.2,255.0M1084.2,269.5Q1081.8,260.8 1076.4,252.8M1087.1,268.8Q1084.9,274.6 1082.4,293.8M1088.6,268.5Q1090.1,280.8 1079.5,301.9M1090.0,268.2Q1091.5,278.6 1081.4,289.5M1091.5,267.8Q1083.0,283.0 1093.3,302.3M1094.4,267.2Q1098.8,282.1 1100.3,289.6M1095.9,266.8Q1091.1,273.4 1097.2,298.7M1097.3,266.5Q1103.8,277.6 1102.1,283.4M1100.3,265.8Q1092.8,285.7 1099.4,291.9M1101.7,265.5Q1094.1,274.9 1095.8,281.2M1103.2,265.2Q1101.4,260.9 1105.0,255.4M1104.7,264.9Q1101.9,268.3 1096.0,281.0M1106.1,264.6Q1107.5,261.7 1105.8,253.3M1107.6,264.3Q1107.3,277.2 1106.1,281.1M1109.1,264.0Q1103.8,276.7 1106.3,283.7M1110.5,263.7Q1114.0,276.3 1110.3,290.1M1112.0,263.4Q1115.3,279.7 1118.7,291.1M1113.5,263.1Q1118.9,271.3 1120.5,293.1M1115.0,262.9Q1114.1,282.2 1109.7,289.3M1116.4,262.6Q1113.1,270.7 1111.8,282.1M1117.9,262.3Q1123.7,279.2 1119.5,290.1M1119.4,262.1Q1115.5,266.5 1115.5,279.2M1120.9,261.9Q1116.1,254.5 1116.4,251.8M1122.4,261.6Q1120.9,256.4 1116.4,254.3M1123.9,261.4Q1121.3,268.8 1122.9,277.7M1125.3,261.2Q1123.2,254.8 1116.1,251.3M1126.8,261.0Q1132.4,265.7 1134.9,285.0M1128.3,260.8Q1128.3,266.2 1129.5,273.9M1129.8,260.7Q1124.7,266.2 1117.4,283.4M1131.3,260.5Q1126.9,266.6 1129.3,274.1M1132.8,260.3Q1136.4,255.0 1131.6,244.8M1134.3,260.2Q1125.9,270.9 1126.6,280.8M1135.8,260.0Q1133.5,274.4 1129.4,281.1M1137.3,259.9Q1136.3,269.2 1140.4,271.8M1138.8,259.7Q1135.6,272.9 1137.7,279.4M1140.2,259.6Q1141.0,255.3 1141.4,253.9M1141.7,259.4Q1144.6,272.9 1144.9,281.9M1143.2,259.3Q1142.4,270.1 1146.9,277.2M1144.7,259.1Q1147.7,262.8 1148.7,278.0M1146.2,259.0Q1146.5,257.6 1143.9,252.0M1147.7,258.9Q1146.7,247.9 1151.0,243.9M1149.2,258.7Q1143.1,264.2 1137.8,280.7M1150.7,258.6Q1151.8,268.5 1145.6,280.0M1152.2,258.5Q1154.6,269.8 1152.9,276.6M1153.7,258.3Q1154.4,263.2 1156.8,270.1" fill="none" stroke="#111" stroke-width="1.15" stroke-linecap="round"/>
<polyline points="975.0,302.0 976.5,301.5 978.5,300.7 980.8,299.9 983.4,298.9 986.2,297.9 989.2,296.8 992.1,295.8 994.9,294.8 997.6,293.8 1000.0,293.0 1002.2,292.3 1004.2,291.7 1006.1,291.1 1007.9,290.5 1009.7,290.0 1011.5,289.5 1013.4,288.9 1015.4,288.3 1017.6,287.7 1020.0,287.0 1022.6,286.2 1025.3,285.4 1028.2,284.5 1031.2,283.6 1034.2,282.6 1037.4,281.7 1040.5,280.7 1043.7,279.8 1046.9,278.9 1050.0,278.0 1053.1,277.2 1056.2,276.3 1059.3,275.5 1062.4,274.7 1065.5,273.9 1068.7,273.2 1071.9,272.4 1075.2,271.6 1078.5,270.8 1082.0,270.0 1085.6,269.2 1089.2,268.3 1093.0,267.5 1096.8,266.6 1100.7,265.8 1104.6,264.9 1108.5,264.1 1112.4,263.3 1116.2,262.6 1120.0,262.0 1123.9,261.4 1128.1,260.9 1132.3,260.4 1136.6,259.9 1140.9,259.5 1144.9,259.1 1148.7,258.8 1152.0,258.5 1154.8,258.2 1157.0,258.0" fill="none" stroke="#111" stroke-width="1.9" stroke-linecap="round" stroke-linejoin="round"/>
<path d="M1060.0,352.0Q1061.3,350.3 1063.3,348.9M1061.1,350.6Q1056.8,357.6 1054.3,369.2M1062.2,349.1Q1060.0,356.0 1055.8,360.2M1064.3,346.3Q1058.3,354.0 1055.0,362.4M1065.4,344.8Q1063.4,352.4 1058.5,356.0M1066.5,343.4Q1069.4,341.2 1070.5,340.2M1067.6,341.9Q1068.9,350.6 1066.5,357.3M1068.6,340.5Q1070.1,337.7 1073.7,336.0M1069.7,339.0Q1066.0,343.2 1058.2,352.9M1070.8,337.6Q1067.9,342.3 1069.3,351.4M1071.9,336.2Q1069.0,342.1 1068.9,354.4M1073.0,334.7Q1069.6,340.0 1068.9,350.6M1074.1,333.3Q1074.7,337.2 1075.5,345.3M1075.2,331.9Q1070.0,338.5 1071.3,350.6M1076.3,330.5Q1075.7,338.7 1072.0,346.8M1077.4,329.1Q1081.5,326.0 1084.4,323.2M1078.5,327.7Q1078.2,335.4 1071.7,350.9M1079.7,326.3Q1070.9,338.1 1070.6,350.5M1080.8,324.9Q1080.7,321.5 1082.8,316.5M1082.0,323.5Q1076.4,333.9 1080.1,349.6M1083.1,322.1Q1084.5,320.1 1088.1,316.9M1084.3,320.8Q1074.0,328.9 1070.8,337.3M1085.5,319.4Q1073.5,330.0 1069.0,341.7M1086.7,318.1Q1087.2,327.2 1089.0,336.7M1087.9,316.8Q1083.1,330.9 1070.0,338.4M1089.2,315.4Q1087.4,325.8 1083.9,338.7M1090.4,314.1Q1090.4,322.8 1093.5,329.0M1091.6,312.8Q1093.4,324.2 1091.5,330.5M1092.9,311.5Q1085.5,322.3 1073.5,333.6M1094.1,310.2Q1091.8,320.1 1089.2,327.8M1095.4,308.9Q1093.5,320.7 1097.8,338.3M1096.7,307.7Q1102.3,305.5 1105.3,300.7M1098.0,306.4Q1094.9,314.0 1085.1,330.6M1100.7,304.0Q1091.1,317.8 1082.7,327.8M1102.0,302.9Q1096.7,318.3 1098.8,326.7M1103.4,301.7Q1105.0,299.0 1106.8,295.4M1104.8,300.6Q1105.2,308.4 1109.3,320.2M1106.3,299.6Q1101.9,307.3 1094.0,324.8M1107.8,298.5Q1101.1,307.4 1096.9,319.0M1110.8,296.5Q1106.6,310.0 1099.1,321.3M1112.3,295.6Q1116.2,289.7 1120.4,287.7M1113.9,294.7Q1106.3,299.8 1100.9,312.9M1115.4,293.8Q1110.9,304.1 1100.8,310.0M1117.0,293.0Q1108.1,299.2 1105.7,307.8M1118.6,292.2Q1120.6,288.0 1121.5,285.9M1120.2,291.4Q1120.8,304.1 1122.5,312.3M1121.9,290.6Q1122.1,285.3 1123.9,282.8M1123.5,289.8Q1124.8,285.5 1126.1,282.5M1125.1,289.0Q1126.0,298.4 1123.3,304.7M1126.7,288.3Q1117.0,294.2 1114.2,305.8M1128.4,287.5Q1130.9,285.2 1135.5,282.5M1130.0,286.8Q1131.2,296.6 1132.3,310.3M1131.7,286.1Q1131.5,293.7 1134.7,305.2M1133.3,285.4Q1135.3,298.1 1131.7,304.2M1135.0,284.6Q1135.0,281.0 1137.5,276.8M1139.9,282.5Q1133.3,291.4 1132.5,297.0M1143.3,281.1Q1143.7,278.8 1146.4,275.6M1146.6,279.7Q1148.5,278.1 1149.6,275.9" fill="none" stroke="#111" stroke-width="1.15" stroke-linecap="round"/>
<polyline points="1060.0,352.0 1061.5,350.1 1063.4,347.5 1065.7,344.5 1068.2,341.1 1070.9,337.4 1073.8,333.7 1076.7,329.9 1079.6,326.3 1082.4,323.0 1085.0,320.0 1087.4,317.3 1089.8,314.7 1092.1,312.3 1094.4,309.9 1096.7,307.6 1099.1,305.4 1101.5,303.2 1104.2,301.1 1107.0,299.1 1110.0,297.0 1113.4,294.9 1117.4,292.8 1121.6,290.7 1126.1,288.6 1130.6,286.6 1134.9,284.7 1139.0,282.9 1142.6,281.4 1145.7,280.0 1148.0,279.0" fill="none" stroke="#111" stroke-width="1.7" stroke-linecap="round" stroke-linejoin="round"/>
<path d="M1062.0,350.0Q1060.2,356.9 1058.1,366.5M1061.3,350.7Q1059.5,358.9 1059.8,371.9M1059.9,352.1Q1052.2,358.1 1050.6,368.8M1058.5,353.5Q1046.2,354.6 1038.1,359.9M1057.8,354.2Q1047.7,365.7 1039.8,369.5M1057.1,354.9Q1053.5,362.0 1054.5,367.9M1056.3,355.7Q1049.0,363.1 1038.8,365.7M1055.6,356.4Q1051.6,375.5 1037.5,384.4M1054.9,357.1Q1038.7,366.4 1032.7,380.6M1053.5,358.5Q1045.7,367.7 1042.6,378.1M1052.8,359.2Q1042.3,369.8 1040.1,381.4M1052.1,359.9Q1042.0,366.2 1033.5,368.2M1050.7,361.3Q1038.6,366.1 1021.8,377.5M1050.0,362.0Q1038.0,373.9 1033.6,382.2M1049.3,362.7Q1044.9,381.3 1032.3,390.9M1048.6,363.4Q1052.4,371.6 1049.7,384.1M1047.2,364.8Q1034.7,366.8 1022.7,376.1M1046.4,365.6Q1040.8,379.8 1032.4,388.3M1045.7,366.3Q1039.7,370.2 1033.7,380.5M1045.0,367.0Q1037.4,375.1 1022.5,377.3M1044.3,367.7Q1041.9,377.3 1044.7,383.8M1043.6,368.4Q1045.6,379.9 1043.1,385.6M1042.9,369.1Q1040.1,373.5 1036.0,382.7M1042.2,369.8Q1041.3,374.4 1039.8,383.3M1041.5,370.5Q1033.1,385.1 1019.4,391.9M1040.8,371.2Q1034.5,383.6 1026.7,397.9M1040.1,371.9Q1033.0,379.4 1031.5,387.9" fill="none" stroke="#111" stroke-width="1.15" stroke-linecap="round"/>
<polyline points="1062.0,350.0 1061.3,350.7 1060.3,351.7 1059.2,352.8 1058.0,354.0 1056.6,355.4 1055.2,356.8 1053.8,358.2 1052.5,359.5 1051.2,360.8 1050.0,362.0 1048.9,363.1 1047.7,364.3 1046.5,365.5 1045.4,366.6 1044.2,367.8 1043.2,368.8 1042.2,369.8 1041.3,370.7 1040.6,371.4 1040.0,372.0" fill="none" stroke="#111" stroke-width="1.2" stroke-linecap="round" stroke-linejoin="round"/>
<path d="M1112.0,396.0Q1115.0,401.7 1117.4,411.3M1112.6,394.2Q1115.8,398.5 1117.6,407.6M1113.1,392.4Q1107.2,397.2 1100.1,405.1M1114.3,388.7Q1108.9,390.3 1105.9,395.6M1115.4,385.1Q1118.6,387.6 1121.3,391.6M1116.0,383.3Q1117.6,387.9 1118.4,394.1M1116.5,381.5Q1113.0,385.9 1105.1,392.1M1117.1,379.7Q1120.4,383.4 1125.7,391.1M1118.2,376.0Q1115.9,386.0 1117.9,392.9M1118.8,374.2Q1114.0,382.9 1105.1,385.4M1119.3,372.4Q1120.8,378.6 1124.0,386.1M1119.9,370.6Q1116.3,376.5 1109.6,386.1M1121.1,367.0Q1115.6,373.0 1109.9,377.9M1121.6,365.2Q1123.0,370.1 1127.3,379.1M1122.2,363.4Q1122.8,369.8 1122.8,376.0M1122.8,361.5Q1118.0,364.7 1115.4,369.6M1123.4,359.7Q1121.5,368.7 1123.4,375.9M1123.9,357.9Q1126.3,365.1 1131.1,372.7M1124.5,356.1Q1122.1,363.6 1113.6,369.6M1125.1,354.3Q1128.9,361.3 1133.4,365.9M1125.7,352.5Q1116.8,363.4 1107.9,366.3M1126.3,350.7Q1126.7,357.0 1126.3,361.5M1126.9,348.9Q1132.0,358.0 1135.8,365.4M1127.5,347.1Q1130.5,353.5 1132.0,358.1M1128.1,345.3Q1131.0,350.4 1133.7,356.8M1128.8,343.5Q1132.7,350.7 1141.2,357.7M1129.4,341.7Q1127.3,347.2 1121.3,349.4M1130.0,339.9Q1132.3,345.5 1135.9,351.5M1130.7,338.1Q1127.0,347.8 1122.7,353.7M1131.3,336.4Q1122.1,342.6 1116.1,348.2M1132.0,334.6Q1125.6,339.8 1122.0,349.5M1132.7,332.8Q1127.7,342.8 1125.9,351.2M1133.4,331.0Q1137.1,338.3 1135.8,345.1M1134.1,329.3Q1129.9,334.7 1123.3,343.1M1134.8,327.5Q1127.7,334.0 1121.8,339.5M1135.5,325.7Q1141.8,333.0 1144.1,347.0M1136.2,324.0Q1134.7,331.6 1136.9,347.0M1136.9,322.2Q1131.2,324.3 1128.3,330.7M1138.4,318.7Q1132.7,325.7 1121.7,331.3M1139.1,317.0Q1144.0,321.1 1149.2,329.9M1139.9,315.2Q1140.8,323.0 1137.6,333.9M1140.6,313.5Q1139.4,321.6 1138.2,327.9M1141.3,311.7Q1148.8,320.3 1148.7,331.3M1142.1,310.0Q1136.8,317.3 1135.8,323.0M1142.8,308.2Q1140.6,316.3 1142.8,327.8M1143.5,306.5Q1146.6,318.1 1142.1,327.9M1144.3,304.7Q1149.4,313.4 1149.9,326.0M1145.0,302.9Q1142.4,312.9 1144.1,322.0M1145.7,301.2Q1154.3,310.4 1156.0,320.3M1146.4,299.4Q1145.0,308.0 1142.0,312.4M1147.1,297.7Q1142.7,306.9 1139.6,312.8M1148.5,294.1Q1153.6,301.0 1162.4,309.2M1149.1,292.3Q1153.4,303.1 1158.6,309.8M1149.8,290.5Q1145.5,300.0 1143.5,304.4M1150.4,288.8Q1154.2,293.9 1163.3,302.9M1151.0,287.0Q1140.4,290.7 1132.2,303.1M1151.6,285.2Q1156.0,290.1 1166.8,299.0M1152.2,283.3Q1159.5,290.8 1163.0,297.0M1152.8,281.5Q1153.0,289.0 1153.0,295.5M1153.3,279.7Q1156.2,290.7 1160.3,297.2M1153.8,277.9Q1156.0,289.7 1154.1,298.6M1154.3,276.0Q1152.3,286.8 1153.9,296.0M1154.8,274.2Q1157.2,281.3 1161.5,286.4M1155.3,272.4Q1152.9,281.4 1151.3,288.8M1155.8,270.5Q1160.6,279.6 1158.9,289.3M1156.3,268.7Q1161.3,277.4 1167.5,285.2M1156.7,266.9Q1157.2,276.3 1157.8,281.2M1157.2,265.0Q1155.9,271.3 1157.7,284.2M1157.7,263.2Q1156.6,276.6 1152.7,284.9M1158.2,261.3Q1155.2,266.6 1153.2,271.9M1158.7,259.5Q1154.2,262.5 1151.7,269.4M1159.2,257.7Q1163.3,265.9 1162.8,271.8M1159.7,255.9Q1164.3,261.3 1168.4,265.8M1160.3,254.0Q1167.3,258.5 1174.7,267.2M1160.9,252.2Q1160.5,259.7 1162.8,267.5M1161.4,250.4Q1157.5,253.8 1155.7,260.4M1162.6,246.8Q1167.8,255.7 1171.6,262.5M1163.2,245.0Q1166.2,255.1 1172.5,259.6M1163.7,243.2Q1159.9,247.0 1156.9,251.7M1164.3,241.4Q1161.8,249.5 1163.2,254.7M1164.9,239.6Q1171.6,248.7 1173.4,255.1M1165.5,237.8Q1166.3,242.0 1166.3,250.2M1166.1,235.9Q1164.5,238.3 1161.4,243.4M1166.7,234.1Q1159.4,240.3 1155.9,244.7M1167.3,232.3Q1171.1,238.3 1175.6,247.1M1167.9,230.5Q1170.9,235.7 1173.7,239.6M1168.5,228.7Q1166.4,237.6 1164.4,244.2M1169.1,226.9Q1168.5,231.0 1169.4,237.4M1169.7,225.1Q1171.4,230.4 1170.5,239.1M1170.8,221.5Q1169.4,229.7 1170.0,235.1M1171.4,219.7Q1174.8,223.2 1176.1,227.3" fill="none" stroke="#111" stroke-width="1.15" stroke-linecap="round"/>
<polyline points="1112.0,396.0 1113.1,392.6 1114.4,388.3 1116.0,383.1 1117.8,377.3 1119.8,371.1 1121.8,364.7 1123.9,358.1 1126.0,351.7 1128.0,345.6 1130.0,340.0 1132.0,334.7 1134.0,329.4 1136.2,324.1 1138.3,318.8 1140.5,313.7 1142.6,308.6 1144.7,303.7 1146.6,298.9 1148.4,294.4 1150.0,290.0 1151.4,285.9 1152.6,282.1 1153.7,278.5 1154.6,275.0 1155.5,271.7 1156.3,268.4 1157.2,265.2 1158.0,261.9 1159.0,258.5 1160.0,255.0 1161.2,251.2 1162.5,247.1 1163.8,242.9 1165.2,238.6 1166.6,234.3 1168.0,230.2 1169.2,226.4 1170.3,223.1 1171.3,220.2 1172.0,218.0" fill="none" stroke="#111" stroke-width="1.6" stroke-linecap="round" stroke-linejoin="round"/>
<path d="M1118.0,252.0Q1110.0,252.0 1105.3,256.1M1118.7,250.6Q1115.8,254.1 1111.3,256.8M1119.5,249.2Q1114.1,248.1 1107.1,251.2M1120.2,247.7Q1112.8,249.5 1107.4,248.7M1120.9,246.3Q1115.4,246.3 1112.7,249.2M1121.7,244.9Q1118.5,251.2 1114.9,255.8M1122.4,243.5Q1116.8,243.9 1109.7,245.8M1123.1,242.0Q1116.7,241.7 1110.1,245.6M1123.8,240.6Q1124.2,246.0 1120.9,250.5M1124.6,239.2Q1120.5,243.4 1117.1,245.7M1126.0,236.3Q1119.5,238.4 1108.3,240.4M1126.8,234.9Q1117.4,236.4 1106.3,238.0M1127.5,233.5Q1123.1,236.7 1115.9,239.6M1129.0,230.7Q1127.8,233.4 1123.6,238.2M1129.8,229.3Q1121.7,231.0 1117.0,236.2M1131.3,226.5Q1127.9,234.3 1125.4,242.6M1132.1,225.1Q1129.8,230.7 1124.8,238.5M1133.7,222.3Q1131.9,225.0 1128.6,229.9M1134.5,220.9Q1131.5,225.2 1129.4,228.0M1135.3,219.5Q1125.8,220.9 1114.2,226.6M1137.0,216.8Q1134.8,219.0 1130.8,224.7M1137.8,215.4Q1130.2,216.1 1125.6,214.7M1138.7,214.1Q1133.1,223.1 1120.2,225.6M1139.5,212.8Q1132.3,215.5 1120.4,214.6M1140.4,211.4Q1138.2,217.9 1134.7,221.9M1141.3,210.1Q1140.6,216.7 1135.6,225.1M1143.1,207.4Q1139.4,212.7 1133.8,215.7M1144.0,206.1Q1141.1,209.7 1139.7,214.2M1144.9,204.8Q1140.9,207.9 1134.5,209.0M1145.8,203.4Q1144.6,207.3 1143.7,212.5M1146.7,202.1Q1138.3,203.8 1134.6,210.4M1147.6,200.8Q1145.9,203.9 1143.8,206.8M1148.5,199.5Q1141.6,203.3 1136.1,206.3M1149.4,198.2Q1144.7,198.0 1138.0,200.3M1150.3,196.8Q1148.5,202.2 1143.7,204.2M1151.2,195.5Q1142.9,196.8 1138.3,201.3M1153.0,192.9Q1145.4,191.7 1137.3,192.4M1153.9,191.6Q1145.8,192.8 1139.9,199.8M1154.8,190.3Q1150.7,188.8 1142.2,191.1" fill="none" stroke="#111" stroke-width="1.15" stroke-linecap="round"/>
<polyline points="1118.0,252.0 1119.0,250.1 1120.3,247.6 1121.8,244.7 1123.4,241.4 1125.2,237.9 1127.2,234.2 1129.1,230.5 1131.1,226.8 1133.1,223.3 1135.0,220.0 1137.0,216.8 1139.1,213.4 1141.4,209.9 1143.7,206.4 1146.1,203.0 1148.3,199.7 1150.4,196.7 1152.2,194.0 1153.8,191.8 1155.0,190.0" fill="none" stroke="#111" stroke-width="1.5" stroke-linecap="round" stroke-linejoin="round"/>
<path d="M972.0,330.0Q972.3,339.3 974.5,346.5M979.3,325.1Q971.6,332.1 968.4,336.0M981.2,323.9Q975.3,329.1 973.3,338.6M984.8,321.5Q981.5,323.9 975.9,329.7M986.6,320.2Q986.7,328.9 985.6,339.0M988.5,319.0Q984.8,327.9 979.8,333.0M992.1,316.6Q983.1,323.0 978.3,330.0M995.8,314.1Q996.3,321.0 996.3,331.3M997.6,312.9Q996.0,317.6 991.5,322.7M999.5,311.7Q998.5,315.6 994.1,321.8M1001.3,310.5Q996.2,317.5 995.5,328.9M1003.1,309.3Q1003.7,313.8 1003.4,320.4M1006.8,306.8Q1000.1,312.0 996.8,319.4" fill="none" stroke="#111" stroke-width="1.15" stroke-linecap="round"/>
<polyline points="972.0,330.0 973.1,329.3 974.4,328.4 976.1,327.3 977.9,326.1 979.9,324.8 981.9,323.4 984.0,322.0 986.1,320.6 988.1,319.3 990.0,318.0 991.9,316.7 993.9,315.4 996.0,314.0 998.1,312.6 1000.1,311.2 1002.1,309.9 1003.9,308.7 1005.6,307.6 1006.9,306.7 1008.0,306.0" fill="none" stroke="#111" stroke-width="1.2" stroke-linecap="round" stroke-linejoin="round"/>
<path d="M955.0,140.0Q952.5,144.7 952.4,151.8M962.0,143.5Q955.7,154.1 953.9,158.9M964.3,144.7Q963.7,148.9 964.7,157.1M966.6,145.8Q965.0,155.3 966.1,160.3M969.0,147.0Q967.5,154.6 963.6,159.5M971.3,148.1Q971.3,152.4 972.1,160.0M973.6,149.3Q973.5,162.0 971.9,168.9M975.9,150.5Q975.6,159.7 969.8,167.7M978.3,151.6Q975.5,159.7 975.7,172.5M980.6,152.8Q974.9,159.1 975.4,168.9M982.9,154.0Q978.9,161.9 979.0,167.9M985.2,155.1Q984.3,162.6 982.1,170.0M987.6,156.3Q986.1,162.6 981.8,167.4M989.9,157.4Q990.6,163.0 993.2,166.3M992.2,158.6Q992.9,166.5 991.1,173.5M994.5,159.8Q996.0,167.8 999.8,174.5" fill="none" stroke="#111" stroke-width="1.15" stroke-linecap="round"/>
<polyline points="955.0,140.0 956.2,140.6 957.7,141.4 959.5,142.3 961.6,143.3 963.8,144.4 966.0,145.5 968.4,146.7 970.7,147.8 972.9,149.0 975.0,150.0 977.1,151.0 979.3,152.2 981.6,153.3 984.0,154.5 986.2,155.6 988.4,156.7 990.5,157.7 992.3,158.6 993.8,159.4 995.0,160.0" fill="none" stroke="#111" stroke-width="1.0" stroke-linecap="round" stroke-linejoin="round"/>
<polygon points="877.5,140.0 880.0,205.0 948.0,232.0 946.0,156.0" fill="#fff" stroke="#111" stroke-width="2.4" stroke-linejoin="round" />
<clipPath id="stc"><polygon points="877.5,140.0 880.0,205.0 948.0,232.0 946.0,156.0"/></clipPath><g clip-path="url(#stc)">
<polyline points="880.7,154.1 879.2,164.8 878.0,175.6 878.4,186.3 879.7,197.1 879.8,207.8 878.6,218.5 878.0,229.3 878.9,240.0" fill="none" stroke="#111" stroke-width="2.0864829881771274" stroke-linejoin="round" stroke-linecap="round" />
<polyline points="882.6,154.5 881.9,165.2 880.2,175.9 880.0,186.6 880.5,197.3 881.1,208.0 881.5,218.6 879.6,229.3 878.8,240.0" fill="none" stroke="#111" stroke-width="1.1040149335841625" stroke-linejoin="round" stroke-linecap="round" />
<polyline points="883.5,154.8 882.8,165.5 883.3,176.1 883.5,186.8 883.9,197.4 884.2,208.1 884.8,218.7 884.8,229.4 884.9,240.0" fill="none" stroke="#111" stroke-width="2.128659753569443" stroke-linejoin="round" stroke-linecap="round" />
<polyline points="884.9,158.2 884.7,168.4 885.1,178.7 886.0,188.9 886.4,199.1 886.6,209.3 886.6,219.5 885.7,229.8 885.8,240.0" fill="none" stroke="#111" stroke-width="1.1095536906513352" stroke-linejoin="round" stroke-linecap="round" />
<polyline points="888.7,155.1 889.7,165.7 888.6,176.3 888.2,187.0 888.7,197.6 890.3,208.1 890.0,218.8 889.3,229.4 889.2,240.0" fill="none" stroke="#111" stroke-width="1.7182694392198918" stroke-linejoin="round" stroke-linecap="round" />
<polyline points="890.6,151.8 890.3,162.8 890.4,173.8 891.8,184.9 891.5,195.9 890.8,206.9 889.7,217.9 889.7,229.0 890.6,240.0" fill="none" stroke="#111" stroke-width="1.6241767120939632" stroke-linejoin="round" stroke-linecap="round" />
<polyline points="892.2,163.0 892.6,172.6 893.6,182.2 893.9,191.9 892.7,201.5 891.9,211.1 891.4,220.7 892.6,230.4 893.3,240.0" fill="none" stroke="#111" stroke-width="1.4200763151307574" stroke-linejoin="round" stroke-linecap="round" />
<polyline points="894.6,155.7 895.4,166.3 896.1,176.8 895.9,187.3 895.8,197.9 895.0,208.4 894.6,218.9 894.9,229.5 895.1,240.0" fill="none" stroke="#111" stroke-width="1.1011294071774602" stroke-linejoin="round" stroke-linecap="round" />
<polyline points="896.5,162.4 897.1,172.1 897.8,181.8 898.5,191.5 897.7,201.2 896.3,210.9 895.7,220.6 896.3,230.3 896.8,240.0" fill="none" stroke="#111" stroke-width="1.225351467793258" stroke-linejoin="round" stroke-linecap="round" />
<polyline points="898.5,162.2 898.3,171.9 899.5,181.7 899.9,191.4 898.3,201.1 897.3,210.8 897.3,220.5 898.6,230.3 898.6,240.0" fill="none" stroke="#111" stroke-width="1.3823591505835724" stroke-linejoin="round" stroke-linecap="round" />
<polyline points="902.7,158.9 903.2,169.0 903.0,179.2 902.5,189.3 901.0,199.4 901.1,209.6 902.1,219.7 902.7,229.9 902.3,240.0" fill="none" stroke="#111" stroke-width="1.0584351545941424" stroke-linejoin="round" stroke-linecap="round" />
<polyline points="904.9,160.4 904.4,170.3 904.0,180.3 904.1,190.2 904.5,200.2 905.5,210.1 906.3,220.1 905.9,230.0 905.8,240.0" fill="none" stroke="#111" stroke-width="1.027723884527381" stroke-linejoin="round" stroke-linecap="round" />
<polyline points="906.1,154.5 905.2,165.2 905.8,175.9 906.7,186.6 906.0,197.3 904.9,207.9 904.4,218.6 904.9,229.3 905.5,240.0" fill="none" stroke="#111" stroke-width="1.4811034199646997" stroke-linejoin="round" stroke-linecap="round" />
<polyline points="907.9,155.3 908.8,165.9 909.5,176.5 907.7,187.1 907.4,197.6 908.7,208.2 909.2,218.8 908.6,229.4 908.0,240.0" fill="none" stroke="#111" stroke-width="1.8937180858817764" stroke-linejoin="round" stroke-linecap="round" />
<polyline points="912.9,163.4 912.6,173.0 911.1,182.6 910.4,192.1 910.5,201.7 912.1,211.3 912.3,220.9 911.9,230.4 911.2,240.0" fill="none" stroke="#111" stroke-width="1.9485807011618752" stroke-linejoin="round" stroke-linecap="round" />
<polyline points="911.6,162.5 913.1,172.2 913.6,181.9 914.0,191.6 913.8,201.2 912.6,211.0 912.5,220.6 912.7,230.3 914.2,240.0" fill="none" stroke="#111" stroke-width="1.8556118795742886" stroke-linejoin="round" stroke-linecap="round" />
<polyline points="915.4,154.1 914.3,164.8 914.9,175.6 916.1,186.3 916.9,197.0 915.5,207.8 914.7,218.5 915.6,229.3 916.1,240.0" fill="none" stroke="#111" stroke-width="1.904957871891107" stroke-linejoin="round" stroke-linecap="round" />
<polyline points="916.9,153.4 918.0,164.2 918.7,175.1 917.8,185.9 916.0,196.7 916.2,207.5 917.3,218.4 917.3,229.2 916.1,240.0" fill="none" stroke="#111" stroke-width="1.644339277201317" stroke-linejoin="round" stroke-linecap="round" />
<polyline points="920.2,150.8 920.8,161.9 921.1,173.1 922.0,184.3 921.3,195.4 920.3,206.5 919.7,217.7 918.9,228.8 919.5,240.0" fill="none" stroke="#111" stroke-width="1.9528496545000158" stroke-linejoin="round" stroke-linecap="round" />
<polyline points="923.9,151.4 923.8,162.5 922.9,173.6 922.4,184.6 921.8,195.7 921.6,206.8 922.7,217.9 923.5,228.9 923.4,240.0" fill="none" stroke="#111" stroke-width="1.672808200551556" stroke-linejoin="round" stroke-linecap="round" />
<polyline points="926.1,162.3 925.0,172.1 924.1,181.8 925.1,191.5 926.5,201.2 926.5,210.9 925.7,220.6 925.5,230.3 926.2,240.0" fill="none" stroke="#111" stroke-width="1.7076227660307346" stroke-linejoin="round" stroke-linecap="round" />
<polyline points="927.6,158.8 927.2,169.0 926.6,179.1 925.8,189.3 926.2,199.4 926.3,209.6 927.4,219.7 927.9,229.9 928.1,240.0" fill="none" stroke="#111" stroke-width="1.7556785517162665" stroke-linejoin="round" stroke-linecap="round" />
<polyline points="928.7,160.2 928.5,170.2 928.6,180.2 928.7,190.1 929.9,200.1 930.3,210.1 930.3,220.1 929.5,230.0 929.0,240.0" fill="none" stroke="#111" stroke-width="1.7866420240863108" stroke-linejoin="round" stroke-linecap="round" />
<polyline points="931.0,154.1 930.1,164.8 930.1,175.5 930.5,186.3 930.9,197.0 931.8,207.8 931.7,218.5 931.8,229.3 930.7,240.0" fill="none" stroke="#111" stroke-width="1.8332102715564056" stroke-linejoin="round" stroke-linecap="round" />
<polyline points="933.6,151.6 934.1,162.7 933.7,173.7 933.3,184.8 932.6,195.8 932.3,206.9 931.6,217.9 930.9,228.9 932.0,240.0" fill="none" stroke="#111" stroke-width="1.4145932829287293" stroke-linejoin="round" stroke-linecap="round" />
<polyline points="936.6,159.1 936.0,169.2 935.4,179.3 935.3,189.5 936.0,199.6 936.9,209.7 938.0,219.8 938.6,229.9 938.3,240.0" fill="none" stroke="#111" stroke-width="2.1105448203062114" stroke-linejoin="round" stroke-linecap="round" />
<polyline points="940.2,158.0 938.6,168.2 937.8,178.5 938.5,188.7 939.0,199.0 939.0,209.3 938.7,219.5 936.7,229.7 936.8,240.0" fill="none" stroke="#111" stroke-width="1.5368951289476214" stroke-linejoin="round" stroke-linecap="round" />
<polyline points="940.4,150.2 940.8,161.4 941.6,172.6 942.7,183.9 941.9,195.1 940.7,206.3 939.9,217.5 940.5,228.8 941.2,240.0" fill="none" stroke="#111" stroke-width="1.364547531662092" stroke-linejoin="round" stroke-linecap="round" />
<polyline points="943.8,157.4 944.8,167.7 945.2,178.1 944.4,188.4 943.3,198.7 943.8,209.0 945.5,219.3 945.5,229.7 945.1,240.0" fill="none" stroke="#111" stroke-width="1.9819622351790698" stroke-linejoin="round" stroke-linecap="round" />
<polyline points="944.5,152.2 944.2,163.2 945.4,174.1 946.7,185.1 945.4,196.1 944.6,207.1 944.7,218.0 946.4,229.0 946.8,240.0" fill="none" stroke="#111" stroke-width="1.7476407732558028" stroke-linejoin="round" stroke-linecap="round" />
</g>
<ellipse cx="911.5" cy="147" rx="35" ry="17.5" fill="#fff" stroke="#111" stroke-width="2.8" transform="rotate(22 911.5 147)"/>
<polyline points="943.5,158.8 940.0,160.7 937.4,162.8 930.5,161.6 926.7,162.6 920.7,160.5 916.2,160.9 910.7,160.3 905.1,158.0 898.7,155.9 893.5,152.5 890.2,148.7 886.4,145.0 886.9,141.8 886.8,138.8 890.0,137.2 890.8,134.8 892.0,132.4 893.2,129.4 898.4,129.4 903.5,129.3 909.3,130.0 915.3,132.4 921.0,134.9 925.7,138.2 928.6,141.7 933.5,144.5 936.4,147.8 940.9,151.5 942.9,155.2 941.4,158.0" fill="none" stroke="#111" stroke-width="1.7" stroke-linejoin="round" stroke-linecap="round" />
<polyline points="937.1,156.3 934.4,157.7 931.3,158.8 928.3,159.7 924.6,160.1 920.9,160.8 916.3,161.2 910.8,159.9 905.5,157.3 900.9,154.5 897.2,151.4 893.6,148.4 893.2,145.4 890.8,142.5 889.4,139.6 889.1,136.8 889.9,134.4 890.8,131.6 894.7,130.7 898.9,130.0 904.8,131.7 910.0,133.3 914.9,135.2 919.4,137.2 923.5,139.6 928.7,141.7 933.0,144.6 937.3,147.8 939.6,151.3 938.3,153.9 937.0,156.2" fill="none" stroke="#111" stroke-width="1.7" stroke-linejoin="round" stroke-linecap="round" />
<polyline points="936.8,156.1 934.0,157.6 930.8,158.4 927.7,159.2 923.4,158.7 919.5,158.4 915.5,157.5 911.4,156.4 906.8,155.5 902.4,153.5 897.9,151.1 894.9,148.3 893.4,145.4 892.1,142.7 893.5,140.8 895.0,139.2 895.6,137.4 895.8,135.0 898.0,133.5 901.2,132.7 905.3,132.6 910.1,133.8 914.8,135.4 918.9,137.9 921.9,140.7 925.4,142.7 928.1,145.0 931.8,147.5 934.2,150.3 936.5,153.4 936.9,156.1" fill="none" stroke="#111" stroke-width="1.7" stroke-linejoin="round" stroke-linecap="round" />
<polyline points="929.2,153.0 928.3,154.5 926.7,155.7 926.0,157.7 922.8,158.0 919.5,158.3 915.5,157.6 911.5,155.7 907.7,154.1 904.9,151.8 901.8,149.9 900.5,147.7 897.3,145.6 895.3,143.3 893.4,140.8 893.2,138.5 894.8,136.9 897.0,135.8 901.0,136.1 904.5,136.5 907.5,136.5 910.9,137.2 914.4,138.0 918.6,138.4 922.1,140.5 925.5,142.7 928.6,145.0 930.6,147.5 930.8,149.7 930.2,151.5 929.2,153.0" fill="none" stroke="#111" stroke-width="1.7" stroke-linejoin="round" stroke-linecap="round" />
<polyline points="927.6,152.4 925.7,153.2 924.3,154.0 922.8,155.0 920.5,155.3 918.3,156.1 915.1,155.9 911.6,154.9 908.2,153.5 905.3,151.5 902.7,149.7 901.2,147.6 901.0,145.8 898.9,144.0 898.3,142.2 898.1,140.5 897.7,138.5 899.3,137.4 901.4,136.4 904.7,136.7 907.9,137.3 911.1,138.1 914.2,139.3 917.0,140.7 919.9,142.0 923.2,143.3 926.1,145.2 927.6,147.3 929.2,149.4 928.7,151.1 928.1,152.6" fill="none" stroke="#111" stroke-width="1.7" stroke-linejoin="round" stroke-linecap="round" />
<polyline points="926.1,151.8 925.3,153.0 923.8,153.7 921.8,154.1 919.4,154.0 916.8,153.4 914.4,152.9 912.0,152.4 909.5,151.5 906.8,150.6 904.0,149.3 902.4,147.5 900.6,145.8 900.1,144.2 900.6,142.9 902.4,142.2 902.2,140.8 903.8,140.3 905.0,139.5 906.2,138.5 908.6,138.5 911.3,139.0 914.1,139.7 916.7,141.2 918.8,142.7 920.4,144.2 922.0,145.6 923.7,147.1 925.1,148.7 926.2,150.4 926.7,152.0" fill="none" stroke="#111" stroke-width="1.7" stroke-linejoin="round" stroke-linecap="round" />
<polyline points="922.8,150.5 921.2,150.8 919.9,151.1 918.9,151.6 917.7,152.1 916.0,152.0 914.3,152.4 912.1,151.7 909.9,150.9 908.0,149.8 906.3,148.6 905.9,147.2 905.3,146.1 904.4,145.0 904.2,143.9 903.8,142.8 904.0,141.8 904.0,140.5 905.8,140.2 907.6,140.2 909.8,140.8 911.8,141.1 913.7,142.3 915.6,142.8 917.1,143.8 919.2,144.6 920.9,145.7 922.9,147.0 923.3,148.3 923.7,149.6 922.2,150.2" fill="none" stroke="#111" stroke-width="1.7" stroke-linejoin="round" stroke-linecap="round" />
<polyline points="920.7,149.6 919.8,150.1 918.6,150.2 917.5,150.4 916.2,150.3 915.0,150.2 913.8,150.0 912.5,149.7 911.0,149.4 909.5,148.8 908.2,148.0 907.1,147.1 906.5,146.1 906.4,145.3 906.5,144.6 907.0,144.1 907.4,143.6 907.3,142.7 908.4,142.5 909.2,142.1 910.5,142.0 912.1,142.4 913.6,143.0 915.0,143.6 916.0,144.5 917.0,145.3 918.0,146.0 918.7,146.8 919.8,147.7 920.1,148.6 920.4,149.5" fill="none" stroke="#111" stroke-width="1.7" stroke-linejoin="round" stroke-linecap="round" />
<polyline points="916.7,148.0 916.6,148.4 916.1,148.5 915.8,148.9 915.3,149.2 914.5,149.1 913.6,149.1 912.7,148.6 911.8,148.2 911.3,147.6 910.6,147.2 910.0,146.8 909.4,146.3 909.0,145.8 908.5,145.2 908.5,144.7 909.0,144.4 909.5,144.1 910.3,144.1 911.1,144.3 911.7,144.2 912.5,144.3 913.3,144.5 914.2,144.8 915.1,145.1 915.8,145.6 916.5,146.2 916.7,146.7 916.9,147.2 916.7,147.6 916.6,148.0" fill="none" stroke="#111" stroke-width="1.7" stroke-linejoin="round" stroke-linecap="round" />
<polygon points="843.8,169.0 851.4,162.7 970.3,228.5 958.2,235.8" fill="#2a2a2a" stroke="#111" stroke-width="1.8" stroke-linejoin="round" />
<line x1="850.4" y1="169.8" x2="853.5" y2="170.7" stroke="#eee" stroke-width="1" />
<line x1="858.1" y1="174.0" x2="861.2" y2="174.9" stroke="#eee" stroke-width="1" />
<line x1="865.8" y1="178.3" x2="868.9" y2="179.2" stroke="#eee" stroke-width="1" />
<line x1="873.5" y1="182.6" x2="876.6" y2="183.5" stroke="#eee" stroke-width="1" />
<line x1="881.2" y1="186.9" x2="884.3" y2="187.8" stroke="#eee" stroke-width="1" />
<line x1="889.0" y1="191.2" x2="892.1" y2="192.1" stroke="#eee" stroke-width="1" />
<line x1="896.7" y1="195.5" x2="899.8" y2="196.4" stroke="#eee" stroke-width="1" />
<line x1="904.4" y1="199.8" x2="907.5" y2="200.7" stroke="#eee" stroke-width="1" />
<line x1="912.1" y1="204.1" x2="915.2" y2="205.0" stroke="#eee" stroke-width="1" />
<line x1="919.8" y1="208.4" x2="922.9" y2="209.3" stroke="#eee" stroke-width="1" />
<line x1="927.6" y1="212.7" x2="930.7" y2="213.6" stroke="#eee" stroke-width="1" />
<line x1="935.3" y1="216.9" x2="938.4" y2="217.8" stroke="#eee" stroke-width="1" />
<line x1="943.0" y1="221.2" x2="946.1" y2="222.1" stroke="#eee" stroke-width="1" />
<line x1="950.7" y1="225.5" x2="953.8" y2="226.4" stroke="#eee" stroke-width="1" />
<polygon points="843.8,169.0 958.2,235.8 958.2,265.0 843.8,200.0" fill="url(#dots)" stroke="#111" stroke-width="1.8" stroke-linejoin="round" />
<clipPath id="bfc"><polygon points="843.8,169.0 958.2,235.8 958.2,265.0 843.8,200.0"/></clipPath><g clip-path="url(#bfc)">
<polyline points="849.1,170.1 852.8,179.8 855.4,189.6 856.3,199.8 856.1,210.1 856.2,220.3 857.9,230.3 860.9,240.1 863.9,249.8 866.5,259.7 866.9,269.9" fill="none" stroke="#111" stroke-width="1.6" stroke-linejoin="round" stroke-linecap="round" />
<polyline points="869.1,180.0 872.1,188.7 873.8,197.7 875.7,206.7 877.3,215.7 877.8,224.9 879.1,233.9 880.0,243.0 880.7,252.2 881.7,261.3 882.9,270.4" fill="none" stroke="#111" stroke-width="1.6" stroke-linejoin="round" stroke-linecap="round" />
<polyline points="889.7,189.7 891.5,197.6 891.9,205.9 891.9,214.2 892.6,222.4 893.9,230.4 896.6,238.2 899.0,246.0 902.1,253.7 904.2,261.6 905.6,269.7" fill="none" stroke="#111" stroke-width="1.6" stroke-linejoin="round" stroke-linecap="round" />
<polyline points="904.8,200.5 907.4,207.3 910.0,214.0 913.1,220.7 915.5,227.5 916.2,234.7 916.5,242.0 917.1,249.3 917.7,256.5 919.9,263.3 923.6,269.9" fill="none" stroke="#111" stroke-width="1.6" stroke-linejoin="round" stroke-linecap="round" />
<polyline points="925.5,210.1 926.0,216.4 927.3,222.5 930.0,228.2 933.1,233.8 935.5,239.6 937.2,245.6 937.4,251.9 937.7,258.3 938.2,264.6 940.4,270.4" fill="none" stroke="#111" stroke-width="1.6" stroke-linejoin="round" stroke-linecap="round" />
<polyline points="945.3,219.9 947.5,224.7 950.0,229.4 951.8,234.4 952.2,239.7 952.7,245.1 953.1,250.5 954.5,255.6 955.9,260.6 958.9,265.2 961.4,269.9" fill="none" stroke="#111" stroke-width="1.6" stroke-linejoin="round" stroke-linecap="round" />
</g>
<polygon points="958.2,235.8 970.3,228.5 966.5,640.0 953.0,646.0" fill="#fff" stroke="#111" stroke-width="3.2" stroke-linejoin="round" />
<clipPath id="rfc"><polygon points="958.2,235.8 970.3,228.5 966.5,640.0 953.0,646.0"/></clipPath><g clip-path="url(#rfc)">
<polyline points="960.1,235.0 960.0,248.7 960.3,262.3 960.1,276.0 960.7,289.7 961.1,303.3 961.5,317.0 961.7,330.7 961.9,344.3 961.7,358.0 961.7,371.7 961.5,385.3 960.7,399.0 960.4,412.7 959.3,426.3 959.2,440.0 958.0,453.7 958.1,467.3 957.9,481.0 957.6,494.7 957.9,508.3 957.7,522.0 958.4,535.7 958.2,549.3 959.3,563.0 959.5,576.7 959.0,590.3 959.1,604.0 959.3,617.7 958.7,631.3 958.5,645.0" fill="none" stroke="#111" stroke-width="1.4" stroke-linejoin="round" stroke-linecap="round" />
<polyline points="964.5,235.0 964.6,248.7 964.6,262.3 965.2,276.0 965.0,289.7 965.0,303.3 964.8,317.0 965.0,330.7 964.5,344.3 964.2,358.0 964.4,371.7 964.0,385.3 963.2,399.0 963.1,412.7 962.7,426.3 962.1,440.0 961.8,453.7 961.5,467.3 961.0,481.0 961.0,494.7 960.6,508.3 960.7,522.0 960.0,535.7 959.8,549.3 959.9,563.0 959.7,576.7 960.0,590.3 960.6,604.0 960.6,617.7 960.3,631.3 961.1,645.0" fill="none" stroke="#111" stroke-width="1.4" stroke-linejoin="round" stroke-linecap="round" />
</g>
<polygon points="873.5,605.0 932.0,606.0 932.5,700.0 926.0,697.0 920.0,702.0 912.0,697.0 903.0,702.0 895.0,697.0 886.0,702.0 878.0,698.0 875.0,701.0" fill="#fff" stroke="#111" stroke-width="2" stroke-linejoin="round" />
<clipPath id="trc"><polygon points="873.5,605.0 932.0,606.0 932.5,700.0 926.0,697.0 920.0,702.0 912.0,697.0 903.0,702.0 895.0,697.0 886.0,702.0 878.0,698.0 875.0,701.0"/></clipPath><g clip-path="url(#trc)">
<polyline points="875.2,606.0 876.0,614.0 876.6,622.0 878.2,630.0 878.5,638.0 878.8,646.0 878.5,654.0 877.2,662.0 876.9,670.0 876.4,678.0 877.4,686.0 878.8,694.0 880.3,702.0" fill="none" stroke="#111" stroke-width="0.9179519388903059" stroke-linejoin="round" stroke-linecap="round" />
<polyline points="882.3,606.0 881.6,614.0 880.2,622.0 879.6,630.0 878.7,638.0 878.1,646.0 879.1,654.0 880.2,662.0 880.5,670.0 881.0,678.0 880.3,686.0 879.6,694.0 878.1,702.0" fill="none" stroke="#111" stroke-width="1.3205480165327477" stroke-linejoin="round" stroke-linecap="round" />
<polyline points="883.0,606.0 884.0,614.0 884.2,622.0 885.0,630.0 884.3,638.0 884.1,646.0 883.8,654.0 883.4,662.0 882.2,670.0 881.5,678.0 880.9,686.0 880.8,694.0 880.8,702.0" fill="none" stroke="#111" stroke-width="1.23740984224296" stroke-linejoin="round" stroke-linecap="round" />
<polyline points="888.9,606.0 889.0,614.0 888.1,622.0 887.5,630.0 886.4,638.0 886.4,646.0 886.5,654.0 887.4,662.0 888.3,670.0 889.1,678.0 889.8,686.0 889.6,694.0 889.2,702.0" fill="none" stroke="#111" stroke-width="1.3974517618280218" stroke-linejoin="round" stroke-linecap="round" />
<polyline points="890.4,606.0 889.7,614.0 889.5,622.0 890.5,630.0 891.7,638.0 891.8,646.1 890.6,654.0 889.2,662.0 887.7,670.0 887.8,678.0 887.9,686.0 889.2,694.0 889.7,702.0" fill="none" stroke="#111" stroke-width="1.5880396512298163" stroke-linejoin="round" stroke-linecap="round" />
<polyline points="891.7,606.0 892.3,614.0 892.7,622.0 893.8,630.0 894.7,638.0 894.7,646.0 894.4,654.0 893.9,662.0 892.5,670.0 892.4,678.0 891.3,686.0 891.6,694.0 892.2,702.0" fill="none" stroke="#111" stroke-width="1.531332402566923" stroke-linejoin="round" stroke-linecap="round" />
<polyline points="898.9,606.0 898.9,614.0 898.2,622.0 897.2,630.0 896.4,638.0 896.9,646.0 898.4,654.0 899.4,662.0 899.8,670.0 900.0,678.0 898.7,686.0 897.4,694.0 898.0,702.0" fill="none" stroke="#111" stroke-width="0.8352330135275766" stroke-linejoin="round" stroke-linecap="round" />
<polyline points="903.5,606.0 903.5,614.0 902.6,622.0 901.1,630.0 900.1,638.0 899.9,646.0 900.2,654.0 901.0,662.0 901.7,670.0 902.9,678.0 902.9,686.0 901.6,694.0 901.2,702.0" fill="none" stroke="#111" stroke-width="1.0905417238175885" stroke-linejoin="round" stroke-linecap="round" />
<polyline points="906.3,606.0 906.3,614.0 906.2,622.0 905.8,630.0 905.1,638.0 904.7,646.0 903.7,654.0 902.8,662.0 903.1,670.0 903.5,678.0 904.0,686.0 904.1,694.0 904.8,702.0" fill="none" stroke="#111" stroke-width="1.5346452691410315" stroke-linejoin="round" stroke-linecap="round" />
<polyline points="908.9,606.0 907.7,614.0 906.6,622.0 906.8,630.0 906.9,638.0 908.7,646.0 909.0,654.0 908.9,662.0 908.0,670.0 906.3,678.0 906.1,686.0 906.1,694.0 907.8,702.0" fill="none" stroke="#111" stroke-width="1.0945060552238788" stroke-linejoin="round" stroke-linecap="round" />
<polyline points="910.6,606.0 911.0,614.0 911.5,622.0 912.9,630.0 913.6,638.0 913.8,646.0 913.7,654.0 913.2,662.0 912.0,670.0 911.8,678.0 910.7,686.0 910.8,694.0 910.8,702.0" fill="none" stroke="#111" stroke-width="0.837971084718042" stroke-linejoin="round" stroke-linecap="round" />
<polyline points="916.3,606.0 916.7,614.0 916.0,622.0 914.7,630.0 913.8,638.0 913.4,646.0 913.7,654.0 914.2,662.0 915.4,670.0 915.7,678.0 916.3,686.0 916.1,694.0 915.7,702.0" fill="none" stroke="#111" stroke-width="1.5512213925798566" stroke-linejoin="round" stroke-linecap="round" />
<polyline points="919.7,606.0 920.8,614.0 921.4,622.0 921.1,630.0 919.6,638.0 918.5,646.0 918.8,654.0 919.2,662.0 920.6,670.0 921.4,678.0 921.3,686.0 919.5,694.0 918.3,702.0" fill="none" stroke="#111" stroke-width="1.5608625017932338" stroke-linejoin="round" stroke-linecap="round" />
<polyline points="922.2,606.0 922.6,614.0 923.4,622.0 924.2,630.0 925.1,638.0 925.2,646.0 924.3,654.0 923.9,662.0 923.4,670.0 922.5,678.0 922.2,686.0 922.3,694.0 923.0,702.0" fill="none" stroke="#111" stroke-width="0.8662055214203124" stroke-linejoin="round" stroke-linecap="round" />
<polyline points="927.2,606.0 926.3,614.0 925.7,622.0 926.4,630.0 927.9,638.0 929.0,646.0 929.4,654.0 929.3,662.0 929.0,670.0 927.5,678.0 927.9,686.0 928.3,694.0 930.0,702.0" fill="none" stroke="#111" stroke-width="1.302614561019117" stroke-linejoin="round" stroke-linecap="round" />
<polyline points="931.0,606.0 931.0,614.0 929.9,622.0 928.5,630.0 927.9,638.0 928.2,646.0 929.2,654.0 930.2,662.0 929.7,670.0 929.1,678.0 927.6,686.0 926.4,694.0 927.0,702.0" fill="none" stroke="#111" stroke-width="1.2921284041878185" stroke-linejoin="round" stroke-linecap="round" />
<path d="M910,645 C918,640 922,652 919,662 C916,668 909,666 909,658 Z" fill="#111"/>
<path d="M893,620 C896,625 894,635 891,640 C889,632 890,625 893,620 Z" fill="#111"/>
</g>
<polygon points="883.0,604.6 953.5,567.0 952.5,646.0" fill="url(#dots)" stroke="#111" stroke-width="2.4" stroke-linejoin="round" />
<clipPath id="tric"><polygon points="883.0,604.6 953.5,567.0 952.5,646.0"/></clipPath><g clip-path="url(#tric)">
<polyline points="905.0,585.0 906.6,591.4 908.6,597.8 910.1,604.2 910.7,610.7 911.2,617.3 911.3,624.0 911.2,630.6 911.4,637.3 911.8,643.8 912.7,650.4" fill="none" stroke="#111" stroke-width="1.2" stroke-linejoin="round" stroke-linecap="round" />
<polyline points="917.3,584.9 916.4,591.7 917.3,598.3 919.4,604.6 921.7,610.9 924.0,617.2 924.6,623.8 923.2,630.6 923.4,637.2 924.7,643.7 926.9,650.0" fill="none" stroke="#111" stroke-width="1.2" stroke-linejoin="round" stroke-linecap="round" />
<polyline points="927.3,585.3 928.1,591.8 931.2,598.0 933.6,604.2 934.6,610.7 934.1,617.5 933.7,624.2 934.0,630.8 936.7,637.1 939.4,643.3 940.7,649.7" fill="none" stroke="#111" stroke-width="1.2" stroke-linejoin="round" stroke-linecap="round" />
<polyline points="939.7,585.2 940.0,591.8 942.0,598.2 944.1,604.5 946.0,610.9 948.0,617.2 948.6,623.8 948.8,630.4 948.2,637.1 948.4,643.7 949.1,650.3" fill="none" stroke="#111" stroke-width="1.2" stroke-linejoin="round" stroke-linecap="round" />
</g>
<polygon points="866.0,395.0 959.0,288.0 955.0,567.0 866.0,614.0" fill="#fff" stroke="#111" stroke-width="2.2" stroke-linejoin="round" />
<clipPath id="sdc"><polygon points="866.0,395.0 959.0,288.0 955.0,567.0 866.0,614.0"/></clipPath><g clip-path="url(#sdc)">
<path d="M933,300 C934,330 933,355 932,375" fill="none" stroke="#111" stroke-width="1.5" stroke-linecap="round" stroke-linejoin="round" />
<path d="M932,375 C915,400 905,440 918,494 C935,460 945,420 932,375 Z" fill="none" stroke="#111" stroke-width="1.5" stroke-linecap="round" stroke-linejoin="round" />
<path d="M918,300 C920,330 915,360 905,395 C895,425 893,440 891,434" fill="none" stroke="#111" stroke-width="1.5" stroke-linecap="round" stroke-linejoin="round" />
<path d="M891,434 C895,480 905,520 914,548 C925,520 940,500 951,486" fill="none" stroke="#111" stroke-width="1.5" stroke-linecap="round" stroke-linejoin="round" />
<path d="M914,548 C912,570 910,590 908,610" fill="none" stroke="#111" stroke-width="1.5" stroke-linecap="round" stroke-linejoin="round" />
<path d="M949,300 C950,340 948,400 951,486" fill="none" stroke="#111" stroke-width="1.5" stroke-linecap="round" stroke-linejoin="round" />
<path d="M903,330 C898,360 893,380 888,420 C884,460 886,520 893,560 C896,580 898,600 900,615" fill="none" stroke="#111" stroke-width="1.5" stroke-linecap="round" stroke-linejoin="round" stroke-dasharray="30 6 12 5"/>
<path d="M878,395 C877,450 879,520 881,600" fill="none" stroke="#111" stroke-width="1.5" stroke-linecap="round" stroke-linejoin="round" stroke-dasharray="8 6"/>
<path d="M886,392 C884,420 884,440 885,470" fill="none" stroke="#111" stroke-width="1.2" stroke-linecap="round" stroke-linejoin="round" stroke-dasharray="6 6"/>
<path d="M942,480 C936,520 930,560 928,600" fill="none" stroke="#111" stroke-width="1.3" stroke-linecap="round" stroke-linejoin="round" stroke-dasharray="20 6"/>
</g>
<path d="M922,428 C910.5,440.4 910.5,453.6 922,466 C933.5,453.6 933.5,440.4 922,428 Z" fill="none" stroke="#111" stroke-width="1.5"/>
<path d="M922,434 C913.9,442.4 913.9,451.6 922,460 C930.1,451.6 930.1,442.4 922,434 Z" fill="none" stroke="#111" stroke-width="1.5"/>
<path d="M922,438.5 C916.6,444.0 916.6,450.0 922,455.5 C927.4,450.0 927.4,444.0 922,438.5 Z" fill="none" stroke="#111" stroke-width="1.5"/>
<path d="M922,442.5 C919.0,445.4 919.0,448.6 922,451.5 C925.0,448.6 925.0,445.4 922,442.5 Z" fill="none" stroke="#111" stroke-width="1.5"/>
<path d="M923,445 C920,445 920,449 923,449" fill="none" stroke="#111" stroke-width="1.3" stroke-linecap="round" stroke-linejoin="round" />
<polygon points="853.0,404.0 869.5,394.0 866.5,614.5 852.0,621.0" fill="#fff" stroke="#111" stroke-width="2.6" stroke-linejoin="round" />
<line x1="860.5" y1="400.0" x2="858.5" y2="618.0" stroke="#111" stroke-width="1.6" />
<line x1="864.5" y1="398.0" x2="862.5" y2="616.0" stroke="#111" stroke-width="1.2" />
<polygon points="739.5,328.0 854.0,396.0 852.0,621.0 737.2,555.8" fill="url(#dots)" stroke="#111" stroke-width="2.6" stroke-linejoin="round" />
<clipPath id="ffc"><polygon points="739.5,328.0 854.0,396.0 852.0,621.0 737.2,555.8"/></clipPath><g clip-path="url(#ffc)">
<polyline points="740.8,343.9 741.8,349.8 743.7,355.4 746.5,361.0 748.9,366.5 750.5,372.3 751.3,378.2 750.9,384.4 750.2,390.6 751.1,396.4 752.7,402.2 755.8,407.6 758.5,413.2" fill="none" stroke="#111" stroke-width="1.45" stroke-linejoin="round" stroke-linecap="round" />
<polyline points="750.7,421.0 750.4,427.1 749.9,433.3 750.4,439.2 750.9,445.2 753.5,450.8 755.6,456.4 758.1,462.0 760.3,467.6 760.7,473.6 761.2,479.6 761.3,485.6 760.7,491.8" fill="none" stroke="#111" stroke-width="1.45" stroke-linejoin="round" stroke-linecap="round" />
<polyline points="756.5,500.2 758.1,505.9 758.0,512.0 756.8,518.3 756.9,524.4 758.8,530.1 760.9,535.7 763.9,541.2 766.4,546.7 766.4,552.8 766.6,558.8 766.0,565.0 766.7,570.9" fill="none" stroke="#111" stroke-width="1.45" stroke-linejoin="round" stroke-linecap="round" />
<polyline points="755.0,350.1 754.4,356.3 755.9,362.0 758.2,367.6 761.4,373.0 763.3,378.7 763.4,384.8 762.8,391.0 762.7,397.1 764.2,402.8 766.4,408.4 769.5,413.9 771.5,419.6" fill="none" stroke="#111" stroke-width="1.45" stroke-linejoin="round" stroke-linecap="round" />
<polyline points="761.1,439.8 763.8,445.4 765.7,451.0 766.9,456.9 766.1,463.1 765.7,469.2 766.1,475.2 767.5,481.0 770.3,486.5 772.7,492.1 774.8,497.7 776.1,503.5 775.9,509.7" fill="none" stroke="#111" stroke-width="1.45" stroke-linejoin="round" stroke-linecap="round" />
<polyline points="765.4,513.5 766.5,519.3 768.1,525.1 769.9,530.8 772.4,536.3 774.5,542.0 776.1,547.7 777.9,553.4 779.0,559.3 779.6,565.2 780.0,571.2 780.8,577.1 781.0,583.2" fill="none" stroke="#111" stroke-width="1.45" stroke-linejoin="round" stroke-linecap="round" />
<polyline points="766.9,350.8 767.6,356.7 769.7,362.4 772.7,367.9 775.6,373.3 776.9,379.2 777.5,385.1 777.3,391.2 777.1,397.3 777.1,403.4 778.7,409.1 781.5,414.6 784.2,420.2" fill="none" stroke="#111" stroke-width="1.45" stroke-linejoin="round" stroke-linecap="round" />
<polyline points="775.8,439.7 777.6,445.4 779.1,451.1 779.5,457.1 779.4,463.2 779.0,469.4 780.1,475.2 782.0,480.9 784.2,486.5 787.3,492.0 788.9,497.7 789.3,503.7 788.5,509.9" fill="none" stroke="#111" stroke-width="1.45" stroke-linejoin="round" stroke-linecap="round" />
<polyline points="780.2,503.4 782.3,509.1 785.1,514.6 786.7,520.3 787.5,526.2 787.0,532.4 787.2,538.4 787.4,544.5 788.2,550.4 790.0,556.1 792.6,561.6 795.0,567.2 796.8,572.9" fill="none" stroke="#111" stroke-width="1.45" stroke-linejoin="round" stroke-linecap="round" />
<polyline points="780.6,344.7 780.4,350.8 780.9,356.7 783.0,362.4 786.2,367.8 789.0,373.3 789.7,379.2 789.7,385.3 789.8,391.3 789.6,397.5 790.4,403.4 793.1,408.9 796.1,414.3" fill="none" stroke="#111" stroke-width="1.45" stroke-linejoin="round" stroke-linecap="round" />
<polyline points="784.7,440.1 785.6,446.0 787.5,451.7 790.1,457.3 792.3,462.9 794.2,468.6 795.7,474.3 796.9,480.2 798.4,485.9 798.4,492.0 798.6,498.0 799.3,504.0 798.9,510.1" fill="none" stroke="#111" stroke-width="1.45" stroke-linejoin="round" stroke-linecap="round" />
<polyline points="791.3,506.6 794.0,512.1 797.2,517.6 798.5,523.4 799.2,529.3 798.3,535.5 798.0,541.7 798.8,547.6 800.9,553.2 803.4,558.8 806.1,564.3 807.7,570.1 808.1,576.0" fill="none" stroke="#111" stroke-width="1.45" stroke-linejoin="round" stroke-linecap="round" />
<polyline points="791.1,360.2 791.3,366.2 792.4,372.1 793.6,377.9 795.2,383.6 796.8,389.4 798.6,395.1 800.7,400.7 802.7,406.4 804.1,412.2 805.5,418.0 806.6,423.8 808.0,429.6" fill="none" stroke="#111" stroke-width="1.45" stroke-linejoin="round" stroke-linecap="round" />
<polyline points="796.2,434.3 797.2,440.2 798.5,446.0 801.3,451.5 803.4,457.1 805.6,462.8 807.1,468.5 808.1,474.4 808.1,480.5 807.4,486.7 807.4,492.7 809.0,498.5 810.4,504.3" fill="none" stroke="#111" stroke-width="1.45" stroke-linejoin="round" stroke-linecap="round" />
<polyline points="805.9,514.8 806.3,520.8 806.0,526.9 806.5,532.9 806.7,538.9 808.0,544.7 808.9,550.6 811.0,556.2 812.9,561.9 814.9,567.6 816.7,573.3 819.1,578.9 820.0,584.8" fill="none" stroke="#111" stroke-width="1.45" stroke-linejoin="round" stroke-linecap="round" />
<polyline points="806.5,343.2 807.7,349.0 809.1,354.8 809.3,360.8 809.6,366.8 809.6,372.9 810.3,378.8 811.0,384.7 811.6,390.7 813.4,396.4 814.7,402.2 817.1,407.8 819.2,413.4" fill="none" stroke="#111" stroke-width="1.45" stroke-linejoin="round" stroke-linecap="round" />
<polyline points="812.7,436.3 813.3,442.2 814.2,448.1 814.3,454.2 814.4,460.2 814.7,466.3 815.7,472.1 816.9,477.9 818.8,483.6 820.5,489.3 823.0,494.9 824.7,500.6 827.1,506.2" fill="none" stroke="#111" stroke-width="1.45" stroke-linejoin="round" stroke-linecap="round" />
<polyline points="814.6,515.6 815.9,521.4 818.4,527.0 821.3,532.5 823.6,538.1 824.0,544.1 823.9,550.2 823.9,556.2 824.3,562.2 825.6,568.0 828.5,573.5 831.2,579.0 832.6,584.8" fill="none" stroke="#111" stroke-width="1.45" stroke-linejoin="round" stroke-linecap="round" />
<polyline points="820.8,342.6 820.9,348.7 821.0,354.7 822.0,360.6 823.6,366.3 825.8,371.9 828.5,377.5 830.6,383.1 832.1,388.9 832.7,394.8 832.0,401.0 832.2,407.1 832.5,413.1" fill="none" stroke="#111" stroke-width="1.45" stroke-linejoin="round" stroke-linecap="round" />
<polyline points="826.4,422.6 827.2,428.5 827.5,434.5 827.9,440.5 828.9,446.4 830.0,452.2 831.7,458.0 833.4,463.7 835.9,469.2 837.7,474.9 839.7,480.6 841.2,486.4 842.6,492.2" fill="none" stroke="#111" stroke-width="1.45" stroke-linejoin="round" stroke-linecap="round" />
<polyline points="831.1,502.4 831.4,508.4 832.2,514.3 833.9,520.1 836.0,525.7 837.6,531.4 839.8,537.1 842.0,542.7 843.3,548.5 845.2,554.2 846.2,560.1 847.1,565.9 847.4,572.0" fill="none" stroke="#111" stroke-width="1.45" stroke-linejoin="round" stroke-linecap="round" />
<polyline points="835.5,349.1 836.3,355.0 836.4,361.1 836.3,367.2 836.2,373.3 837.2,379.1 838.5,384.9 841.0,390.5 843.3,396.1 845.5,401.7 846.7,407.6 847.4,413.5 847.3,419.6" fill="none" stroke="#111" stroke-width="1.45" stroke-linejoin="round" stroke-linecap="round" />
<polyline points="837.4,429.3 839.5,434.9 842.7,440.3 844.5,446.0 845.6,451.9 845.2,458.0 845.2,464.1 845.0,470.2 846.7,475.9 849.6,481.4 852.4,486.9 853.9,492.7 854.6,498.6" fill="none" stroke="#111" stroke-width="1.45" stroke-linejoin="round" stroke-linecap="round" />
<polyline points="846.1,518.7 846.2,524.8 845.8,530.9 846.3,536.9 847.9,542.7 849.8,548.3 852.1,553.9 854.2,559.6 856.3,565.2 857.7,571.0 858.5,576.9 858.6,583.0 859.0,589.0" fill="none" stroke="#111" stroke-width="1.45" stroke-linejoin="round" stroke-linecap="round" />
<polyline points="846.3,353.4 846.4,359.4 846.0,365.6 845.8,371.7 846.2,377.7 848.5,383.3 851.3,388.8 854.0,394.3 855.4,400.1 855.3,406.2 855.3,412.3 854.6,418.5 855.6,424.3" fill="none" stroke="#111" stroke-width="1.45" stroke-linejoin="round" stroke-linecap="round" />
<polyline points="849.5,421.0 848.9,427.1 850.0,433.0 853.1,438.4 856.4,443.9 857.6,449.7 857.8,455.7 857.5,461.8 857.1,468.0 859.0,473.7 861.0,479.3 864.2,484.8 865.7,490.5" fill="none" stroke="#111" stroke-width="1.45" stroke-linejoin="round" stroke-linecap="round" />
<polyline points="854.2,514.1 856.0,519.8 858.4,525.4 860.6,531.0 862.7,536.7 864.2,542.5 865.0,548.3 865.5,554.3 865.6,560.4 865.3,566.5 866.2,572.4 866.9,578.3 867.6,584.2" fill="none" stroke="#111" stroke-width="1.45" stroke-linejoin="round" stroke-linecap="round" />
<circle cx="741" cy="392" r="1.4" fill="#111"/>
<circle cx="741" cy="445" r="1.4" fill="#111"/>
<circle cx="741" cy="495" r="1.4" fill="#111"/>
<circle cx="741" cy="540" r="1.4" fill="#111"/>
<circle cx="848" cy="430" r="1.4" fill="#111"/>
<circle cx="848" cy="480" r="1.4" fill="#111"/>
<circle cx="848" cy="528" r="1.4" fill="#111"/>
<circle cx="847" cy="570" r="1.4" fill="#111"/>
</g>
<ellipse cx="794" cy="398" rx="12.5" ry="14" fill="#111"/>
<polygon points="830.0,197.8 838.8,194.0 953.0,259.3 944.2,264.4" fill="#fff" stroke="#111" stroke-width="1.8" stroke-linejoin="round" />
<polyline points="840.2,198.6 849.9,205.0 859.9,211.0 869.8,217.1 879.6,223.2 889.9,228.6 900.2,234.1 910.2,240.0 920.4,245.5 930.3,251.5 940.1,257.8" fill="none" stroke="#111" stroke-width="1.0" stroke-linejoin="round" stroke-linecap="round" />
<polygon points="830.0,197.8 944.2,264.4 945.5,284.4 830.7,220.4" fill="url(#dots)" stroke="#111" stroke-width="2" stroke-linejoin="round" />
<polygon points="944.2,264.4 953.0,259.3 953.6,279.4 945.5,284.4" fill="#fff" stroke="#111" stroke-width="1.8" stroke-linejoin="round" />
<path d="M947,270 C950,268 951,274 948,276" fill="none" stroke="#111" stroke-width="1.2" stroke-linecap="round" stroke-linejoin="round" />
<polygon points="711.8,327.1 828.2,222.4 955.3,284.7 827.1,397.6" fill="#fff" stroke="#111" stroke-width="2.4" stroke-linejoin="round" />
<clipPath id="rtc"><polygon points="711.8,327.1 828.2,222.4 955.3,284.7 827.1,397.6"/></clipPath><g clip-path="url(#rtc)">
<polyline points="828.5,228.3 835.9,226.2 843.3,223.9 850.7,221.7 857.9,218.8 865.0,215.5 872.1,212.4 879.2,209.3 886.3,206.1 893.3,202.8 900.7,200.5 908.0,197.9 915.5,195.9 923.1,194.3 930.4,191.9 938.0,190.1 945.6,188.3" fill="none" stroke="#111" stroke-width="1.6" stroke-linejoin="round" stroke-linecap="round" stroke-dasharray="19 9"/>
<polyline points="841.6,221.8 845.7,219.6 849.8,217.3 854.3,216.3 859.1,216.0 863.7,215.3 868.4,214.6 872.9,213.5 876.9,211.0 880.9,208.5 884.8,205.8 888.8,203.3 893.3,202.3 897.7,201.0 902.3,200.2 907.1,199.9 911.7,198.8" fill="none" stroke="#111" stroke-width="1.6" stroke-linejoin="round" stroke-linecap="round" stroke-dasharray="21 9"/>
<polyline points="741.6,263.6 745.0,262.0 748.2,260.1 751.9,259.4 755.5,258.6 759.2,258.1 762.9,257.5 766.8,257.4 770.5,256.9 773.9,255.5 777.1,253.3 780.4,251.5 783.5,249.2 786.9,247.8 790.4,246.5 793.8,245.2 797.5,244.5" fill="none" stroke="#111" stroke-width="1.6" stroke-linejoin="round" stroke-linecap="round" stroke-dasharray="36 8"/>
<polyline points="837.1,229.9 843.3,227.3 849.5,224.7 855.6,221.7 862.2,220.2 868.8,218.7 875.5,217.6 882.2,216.5 888.8,214.9 895.2,213.0 901.5,210.6 907.7,207.9 913.9,205.1 919.9,201.9 926.2,199.6 932.5,197.1 939.0,195.3" fill="none" stroke="#111" stroke-width="1.6" stroke-linejoin="round" stroke-linecap="round" stroke-dasharray="27 4"/>
<polyline points="794.9,254.0 802.3,252.5 809.4,250.4 816.6,248.8 823.8,246.9 830.7,244.3 837.8,242.2 844.6,239.1 851.5,236.4 858.3,233.3 865.1,230.3 872.1,227.8 878.9,224.8 885.8,222.2 892.9,220.0 900.0,218.1 907.2,216.3" fill="none" stroke="#111" stroke-width="1.6" stroke-linejoin="round" stroke-linecap="round" stroke-dasharray="33 9"/>
<polyline points="821.3,243.6 825.5,241.9 829.6,239.8 834.3,239.4 838.6,238.2 843.0,237.1 847.6,236.6 852.1,235.7 856.7,235.1 861.0,233.6 865.2,232.0 869.6,230.9 873.6,228.6 877.7,226.5 881.9,224.8 885.9,222.4 890.2,220.8" fill="none" stroke="#111" stroke-width="1.6" stroke-linejoin="round" stroke-linecap="round" stroke-dasharray="18 7"/>
<polyline points="693.0,300.3 700.5,297.2 707.7,293.5 715.0,289.8 722.4,286.5 729.7,283.0 737.0,279.4 744.4,276.1 752.0,273.1 759.6,270.4 767.0,267.0 774.7,264.5 782.6,262.4 790.1,259.2 798.0,257.2 805.7,254.7 813.5,252.3" fill="none" stroke="#111" stroke-width="1.6" stroke-linejoin="round" stroke-linecap="round" stroke-dasharray="31 5"/>
<polyline points="856.8,237.9 862.4,236.3 867.7,234.0 873.4,232.4 878.9,230.6 884.5,228.9 890.2,227.5 895.6,225.3 901.1,223.6 906.5,221.4 912.0,219.4 917.4,217.3 922.6,214.5 927.9,212.0 933.1,209.3 938.5,207.2 943.4,204.0" fill="none" stroke="#111" stroke-width="1.6" stroke-linejoin="round" stroke-linecap="round" stroke-dasharray="31 4"/>
<polyline points="791.8,269.5 798.0,267.5 804.6,266.7 811.0,265.3 817.5,264.2 823.7,262.5 829.6,259.5 835.4,256.6 841.3,253.7 847.1,250.6 853.1,248.2 859.3,246.3 865.8,245.1 872.3,244.0 878.7,242.7 885.0,241.0 890.8,238.0" fill="none" stroke="#111" stroke-width="1.6" stroke-linejoin="round" stroke-linecap="round" stroke-dasharray="35 9"/>
<polyline points="864.2,246.3 871.5,243.0 878.7,239.1 885.9,235.5 893.1,231.5 900.6,228.7 908.1,225.6 915.8,223.1 923.8,221.2 931.5,218.6 939.2,216.2 946.9,213.6 954.3,210.3 961.6,206.7 968.7,202.8 976.0,199.2 983.1,195.2" fill="none" stroke="#111" stroke-width="1.6" stroke-linejoin="round" stroke-linecap="round" stroke-dasharray="25 5"/>
<polyline points="823.8,270.0 829.4,268.6 834.7,266.0 840.2,264.4 845.4,261.4 850.9,259.7 856.2,257.4 861.6,255.0 866.9,252.8 872.4,250.7 877.8,248.7 883.2,246.6 889.0,245.7 894.5,243.8 900.2,242.7 905.9,241.5 911.6,240.2" fill="none" stroke="#111" stroke-width="1.6" stroke-linejoin="round" stroke-linecap="round" stroke-dasharray="22 5"/>
<polyline points="821.2,269.2 826.4,268.2 831.5,266.9 836.3,265.0 841.3,263.2 846.0,261.1 850.7,258.7 855.0,255.5 859.7,253.1 864.4,250.7 869.0,248.3 873.9,246.4 879.1,245.4 884.3,244.3 889.4,243.1 894.5,241.8 899.3,239.5" fill="none" stroke="#111" stroke-width="1.6" stroke-linejoin="round" stroke-linecap="round" stroke-dasharray="26 9"/>
<polyline points="769.7,297.8 775.4,295.3 781.1,292.8 786.6,289.9 792.3,287.5 797.9,284.7 803.8,283.0 810.0,281.9 816.0,280.4 822.2,279.7 828.3,278.4 834.3,276.9 840.3,275.4 846.0,273.1 851.6,270.2 857.2,267.6 862.8,264.7" fill="none" stroke="#111" stroke-width="1.6" stroke-linejoin="round" stroke-linecap="round" stroke-dasharray="35 8"/>
<polyline points="873.5,258.4 876.2,256.3 879.1,254.4 882.1,253.2 885.1,251.6 888.4,251.0 891.9,250.8 895.3,250.4 898.8,250.3 902.0,249.2 904.9,247.5 907.7,245.6 910.4,243.5 913.0,241.0 916.0,239.6 919.2,238.7 922.3,237.4" fill="none" stroke="#111" stroke-width="1.6" stroke-linejoin="round" stroke-linecap="round" stroke-dasharray="37 9"/>
<polyline points="824.1,281.5 828.3,280.6 832.6,279.8 836.9,279.1 841.3,278.6 845.5,277.6 849.7,276.7 853.8,275.4 857.7,273.7 861.4,271.1 865.4,269.3 869.1,266.8 873.1,265.2 877.2,264.1 881.5,263.4 885.7,262.2 890.1,262.0" fill="none" stroke="#111" stroke-width="1.6" stroke-linejoin="round" stroke-linecap="round" stroke-dasharray="39 9"/>
<polyline points="843.8,276.0 851.4,274.5 859.1,273.0 866.6,271.2 873.8,268.3 881.1,265.7 888.3,262.6 895.3,259.3 902.5,256.3 909.8,253.6 917.3,251.5 924.9,250.2 932.5,248.3 940.3,247.4 947.7,244.9 955.2,243.1 962.5,240.4" fill="none" stroke="#111" stroke-width="1.6" stroke-linejoin="round" stroke-linecap="round" stroke-dasharray="48 8"/>
<polyline points="853.1,281.7 858.3,280.2 863.3,278.2 868.6,277.0 873.5,274.9 878.2,272.2 883.2,270.2 887.8,267.4 892.6,264.8 897.4,262.5 902.1,259.6 906.9,257.3 911.7,254.9 916.8,253.2 921.9,251.4 927.0,249.8 932.2,248.3" fill="none" stroke="#111" stroke-width="1.6" stroke-linejoin="round" stroke-linecap="round" stroke-dasharray="40 8"/>
<polyline points="847.7,283.4 851.5,282.7 855.2,281.8 858.8,280.5 862.0,278.3 865.0,275.5 868.3,273.4 871.6,271.3 875.5,270.9 879.3,270.2 883.1,269.4 887.1,269.3 890.6,267.9 894.2,266.5 897.4,264.2 900.6,262.1 903.7,259.5" fill="none" stroke="#111" stroke-width="1.6" stroke-linejoin="round" stroke-linecap="round" stroke-dasharray="41 9"/>
<polyline points="731.6,332.5 734.2,330.7 736.8,329.4 739.7,328.7 742.7,328.2 745.7,327.9 748.8,328.1 751.8,327.8 754.9,327.9 757.6,326.7 760.3,325.4 762.8,323.4 765.4,321.7 768.0,320.2 770.7,318.9 773.6,318.5 776.5,317.9" fill="none" stroke="#111" stroke-width="1.6" stroke-linejoin="round" stroke-linecap="round" stroke-dasharray="46 4"/>
<polyline points="871.6,282.8 876.3,281.6 881.0,280.2 885.5,278.6 890.0,276.8 894.4,274.7 898.5,272.2 902.9,270.1 907.0,267.4 911.1,264.8 915.5,262.7 919.9,260.8 924.1,258.4 928.7,256.8 933.2,255.1 937.6,253.3 942.5,252.4" fill="none" stroke="#111" stroke-width="1.6" stroke-linejoin="round" stroke-linecap="round" stroke-dasharray="43 5"/>
<polyline points="805.9,315.5 810.8,315.1 815.5,314.2 820.3,313.6 824.7,311.6 828.9,309.0 833.1,306.7 837.3,304.2 841.9,302.8 846.5,301.7 851.4,301.2 856.3,300.9 861.2,300.6 865.5,298.6 870.0,296.8 874.1,294.2 878.4,291.8" fill="none" stroke="#111" stroke-width="1.6" stroke-linejoin="round" stroke-linecap="round" stroke-dasharray="34 8"/>
<polyline points="831.0,306.3 836.6,303.8 842.4,301.8 848.3,300.2 854.3,298.9 860.4,298.0 866.4,296.8 872.6,296.0 878.6,294.7 884.3,292.5 890.1,290.5 895.6,287.8 901.4,285.8 907.0,283.0 912.7,281.0 918.4,278.7 924.3,277.1" fill="none" stroke="#111" stroke-width="1.6" stroke-linejoin="round" stroke-linecap="round" stroke-dasharray="19 5"/>
<polyline points="783.6,330.6 788.6,330.6 793.4,330.1 798.0,328.5 802.5,326.6 806.7,323.9 811.1,321.6 815.7,320.1 820.4,319.3 825.3,318.8 830.1,318.0 835.1,318.0 839.8,317.0 844.4,315.5 848.8,313.4 853.3,311.6 857.6,308.9" fill="none" stroke="#111" stroke-width="1.6" stroke-linejoin="round" stroke-linecap="round" stroke-dasharray="23 9"/>
<polyline points="859.0,304.6 862.7,303.4 866.3,302.0 869.8,300.5 872.9,298.1 876.0,295.5 879.0,292.8 882.6,291.4 886.3,290.4 890.1,289.4 894.1,289.0 898.1,288.6 901.7,287.3 904.9,285.2 908.2,283.1 911.3,280.5 914.3,277.9" fill="none" stroke="#111" stroke-width="1.6" stroke-linejoin="round" stroke-linecap="round" stroke-dasharray="48 5"/>
<polyline points="777.9,340.2 782.6,339.5 787.2,338.7 791.8,337.7 796.4,337.1 801.1,336.4 805.5,334.7 810.0,333.5 814.3,331.7 818.4,329.4 822.8,327.6 827.0,325.7 831.1,323.0 835.5,321.8 840.1,320.6 844.4,319.0 849.0,318.1" fill="none" stroke="#111" stroke-width="1.6" stroke-linejoin="round" stroke-linecap="round" stroke-dasharray="27 4"/>
<polyline points="844.3,319.3 851.5,316.8 858.6,314.5 865.6,311.6 872.7,308.8 879.8,306.4 886.7,303.4 893.6,300.2 900.5,297.2 907.6,294.7 914.6,291.8 921.6,288.9 928.7,286.3 935.8,283.7 943.1,281.8 950.2,279.3 957.5,277.4" fill="none" stroke="#111" stroke-width="1.6" stroke-linejoin="round" stroke-linecap="round" stroke-dasharray="26 8"/>
<polyline points="807.9,339.1 812.8,337.7 817.4,335.8 821.8,332.9 826.4,330.5 831.2,328.9 836.0,327.4 840.9,326.4 846.2,326.5 851.2,325.6 856.2,324.8 861.1,323.3 865.6,321.1 870.0,318.1 874.7,316.3 879.3,313.9 884.3,313.0" fill="none" stroke="#111" stroke-width="1.6" stroke-linejoin="round" stroke-linecap="round" stroke-dasharray="18 6"/>
<polyline points="866.7,317.3 871.8,313.8 877.2,311.0 882.6,308.6 888.2,306.4 894.0,305.0 900.0,304.1 905.8,302.5 911.8,301.6 917.5,300.0 923.0,297.5 928.3,294.7 933.5,291.6 938.9,289.0 944.4,286.5 949.8,284.0 955.5,282.3" fill="none" stroke="#111" stroke-width="1.6" stroke-linejoin="round" stroke-linecap="round" stroke-dasharray="34 5"/>
<polyline points="727.3,375.6 733.3,374.5 739.2,372.8 744.9,370.7 750.3,367.8 755.7,364.8 761.3,362.4 766.6,359.5 772.6,358.1 778.5,356.6 784.6,355.6 790.5,354.2 796.5,353.1 802.2,350.8 807.6,347.9 813.0,345.0 818.2,341.7" fill="none" stroke="#111" stroke-width="1.6" stroke-linejoin="round" stroke-linecap="round" stroke-dasharray="36 8"/>
<polyline points="876.0,322.3 882.7,318.6 889.5,315.2 896.1,311.3 903.3,309.0 910.7,307.0 918.2,305.4 925.5,303.1 932.6,300.4 939.5,297.2 946.3,293.9 952.8,289.8 959.5,286.2 966.5,283.3 973.3,280.0 980.6,277.8 988.2,276.3" fill="none" stroke="#111" stroke-width="1.6" stroke-linejoin="round" stroke-linecap="round" stroke-dasharray="42 9"/>
<polyline points="863.0,331.3 867.6,329.6 872.4,328.5 877.6,328.5 882.4,327.2 887.4,326.5 891.8,324.3 896.1,321.9 900.3,319.0 904.6,316.5 909.2,314.7 913.8,313.1 918.5,311.7 923.4,310.7 928.3,310.0 933.2,309.1 938.0,307.9" fill="none" stroke="#111" stroke-width="1.6" stroke-linejoin="round" stroke-linecap="round" stroke-dasharray="31 5"/>
<polyline points="890.2,324.9 893.8,323.8 897.3,322.6 900.7,320.9 904.0,318.9 907.3,317.0 910.7,315.5 914.3,314.5 917.6,312.8 921.4,312.6 925.1,311.8 928.7,310.8 932.4,310.3 936.3,310.5 939.9,309.3 943.7,309.1 947.2,307.9" fill="none" stroke="#111" stroke-width="1.6" stroke-linejoin="round" stroke-linecap="round" stroke-dasharray="33 8"/>
<polyline points="807.2,359.0 810.4,358.6 813.9,358.8 817.3,359.2 820.5,358.6 823.7,357.8 826.9,357.3 829.9,355.8 832.8,354.0 835.7,352.1 838.7,350.8 841.7,349.5 845.1,349.4 848.2,348.8 851.7,349.1 855.1,349.3 858.3,348.5" fill="none" stroke="#111" stroke-width="1.6" stroke-linejoin="round" stroke-linecap="round" stroke-dasharray="20 6"/>
<polyline points="859.4,340.8 863.1,340.3 866.9,340.0 870.8,340.1 874.2,338.7 877.5,336.9 880.6,334.6 883.9,332.6 887.2,330.9 890.8,330.1 894.5,329.7 898.3,329.4 902.2,329.3 905.6,327.9 909.0,326.6 912.0,323.9 915.3,322.3" fill="none" stroke="#111" stroke-width="1.6" stroke-linejoin="round" stroke-linecap="round" stroke-dasharray="40 7"/>
<polyline points="808.3,370.7 811.9,369.1 815.4,367.3 818.9,365.6 822.4,363.9 825.9,361.8 829.5,360.4 833.2,359.3 837.1,358.8 840.9,358.1 845.0,358.2 848.8,357.2 852.7,356.9 856.6,356.4 860.2,354.9 863.8,353.4 867.4,351.9" fill="none" stroke="#111" stroke-width="1.6" stroke-linejoin="round" stroke-linecap="round" stroke-dasharray="38 5"/>
<polyline points="887.2,340.4 891.7,337.7 896.4,335.5 901.1,333.4 905.8,331.1 910.9,329.9 915.8,328.2 920.7,326.7 925.8,325.5 930.9,324.2 935.8,322.6 940.8,321.2 945.6,319.2 950.3,317.1 954.7,314.1 959.2,311.4 964.0,309.5" fill="none" stroke="#111" stroke-width="1.6" stroke-linejoin="round" stroke-linecap="round" stroke-dasharray="37 5"/>
<polyline points="837.4,363.3 844.6,361.2 851.7,358.6 858.9,356.6 866.3,354.8 873.4,352.5 880.5,349.9 887.4,347.0 894.4,344.3 901.3,341.4 908.4,339.0 914.9,335.1 921.7,331.9 928.6,328.9 935.3,325.6 942.2,322.6 948.9,319.3" fill="none" stroke="#111" stroke-width="1.6" stroke-linejoin="round" stroke-linecap="round" stroke-dasharray="37 8"/>
<polyline points="895.6,342.5 901.4,341.0 907.1,339.3 913.0,338.4 918.6,336.6 924.4,335.3 930.1,333.5 935.7,331.7 941.4,330.0 947.1,328.5 952.6,326.2 958.0,323.7 963.4,321.4 968.7,318.6 974.1,316.2 979.6,313.9 985.0,311.6" fill="none" stroke="#111" stroke-width="1.6" stroke-linejoin="round" stroke-linecap="round" stroke-dasharray="21 9"/>
<polyline points="884.5,355.2 888.3,354.9 892.0,354.4 895.5,353.3 898.9,352.0 902.2,350.5 905.3,348.3 908.4,346.3 911.7,344.6 914.8,342.6 918.2,341.2 921.5,339.5 925.1,338.7 928.7,338.0 932.5,337.7 936.0,336.8 939.7,336.4" fill="none" stroke="#111" stroke-width="1.6" stroke-linejoin="round" stroke-linecap="round" stroke-dasharray="26 4"/>
<polyline points="901.3,347.7 908.2,346.0 915.3,345.1 922.2,343.6 928.9,341.4 935.6,339.2 942.0,336.3 948.2,333.0 954.4,329.5 960.8,326.3 967.4,324.1 974.5,323.0 981.4,321.5 988.2,319.7 995.1,318.1 1001.7,315.8 1008.0,312.5" fill="none" stroke="#111" stroke-width="1.6" stroke-linejoin="round" stroke-linecap="round" stroke-dasharray="19 4"/>
<polyline points="848.1,378.2 854.2,376.8 860.0,374.6 865.7,372.2 871.3,369.3 876.7,365.7 882.5,363.8 888.4,361.9 894.6,360.7 900.8,359.9 906.9,358.4 913.1,357.6 918.9,355.4 924.7,353.0 930.2,350.1 935.8,347.1 941.5,344.6" fill="none" stroke="#111" stroke-width="1.6" stroke-linejoin="round" stroke-linecap="round" stroke-dasharray="49 7"/>
<polyline points="907.4,354.5 914.0,352.9 920.6,351.6 927.0,349.7 933.7,348.5 940.1,346.4 946.6,344.7 953.0,342.7 959.3,340.3 965.8,338.7 971.9,335.6 978.3,333.7 984.5,330.9 990.8,328.6 997.0,325.8 1003.2,323.4 1009.5,321.1" fill="none" stroke="#111" stroke-width="1.6" stroke-linejoin="round" stroke-linecap="round" stroke-dasharray="32 8"/>
<polyline points="776.0,414.1 779.9,413.4 783.5,411.6 787.0,409.4 790.5,407.3 794.2,405.7 797.7,403.6 801.6,402.7 805.6,402.2 809.9,402.6 813.9,402.2 818.0,401.9 821.7,400.3 825.4,398.8 828.8,396.4 832.5,394.8 836.0,392.6" fill="none" stroke="#111" stroke-width="1.6" stroke-linejoin="round" stroke-linecap="round" stroke-dasharray="20 8"/>
<polyline points="908.9,363.7 915.7,361.5 922.6,359.2 929.4,357.0 936.2,354.7 942.9,352.0 949.9,350.1 956.5,347.3 963.0,344.1 969.6,341.4 976.1,338.1 982.6,335.0 989.1,332.1 995.5,328.6 1001.9,325.3 1008.6,322.7 1015.2,319.7" fill="none" stroke="#111" stroke-width="1.6" stroke-linejoin="round" stroke-linecap="round" stroke-dasharray="26 8"/>
<path d="M806,259 C813.2,251.3 822.8,251.3 830,259 C822.8,266.7 813.2,266.7 806,259 Z" fill="none" stroke="#111" stroke-width="1.5" transform="rotate(-28 818 259)"/>
<path d="M810.5,259 C815.0,254.2 821.0,254.2 825.5,259 C821.0,263.8 815.0,263.8 810.5,259 Z" fill="none" stroke="#111" stroke-width="1.5" transform="rotate(-28 818 259)"/>
<path d="M814.5,259 C816.6,256.8 819.4,256.8 821.5,259 C819.4,261.2 816.6,261.2 814.5,259 Z" fill="none" stroke="#111" stroke-width="1.5" transform="rotate(-28 818 259)"/>
<circle cx="810" cy="334.5" r="3.3" fill="#fff" stroke="#111" stroke-width="1.6"/>
<line x1="808.0" y1="333.0" x2="812.0" y2="336.0" stroke="#111" stroke-width="1.2" />
</g>
<polygon points="711.8,327.1 827.1,397.6 828.2,405.9 710.6,338.8" fill="#222" stroke="#111" stroke-width="2.4" stroke-linejoin="round" />
<line x1="715.6" y1="332.9" x2="716.6" y2="337.9" stroke="#fff" stroke-width="1.3" />
<line x1="718.3" y1="334.5" x2="719.3" y2="339.5" stroke="#fff" stroke-width="1.3" />
<line x1="723.1" y1="337.3" x2="724.1" y2="342.3" stroke="#fff" stroke-width="1.3" />
<line x1="727.0" y1="339.7" x2="728.0" y2="344.7" stroke="#fff" stroke-width="1.3" />
<line x1="732.7" y1="343.1" x2="733.7" y2="348.1" stroke="#fff" stroke-width="1.3" />
<line x1="736.8" y1="345.5" x2="737.8" y2="350.5" stroke="#fff" stroke-width="1.3" />
<line x1="739.9" y1="347.4" x2="740.9" y2="352.4" stroke="#fff" stroke-width="1.3" />
<line x1="744.7" y1="350.3" x2="745.7" y2="355.3" stroke="#fff" stroke-width="1.3" />
<line x1="749.4" y1="353.0" x2="750.4" y2="358.0" stroke="#fff" stroke-width="1.3" />
<line x1="753.5" y1="355.5" x2="754.5" y2="360.5" stroke="#fff" stroke-width="1.3" />
<line x1="757.6" y1="357.9" x2="758.6" y2="362.9" stroke="#fff" stroke-width="1.3" />
<line x1="761.9" y1="360.5" x2="762.9" y2="365.5" stroke="#fff" stroke-width="1.3" />
<line x1="765.6" y1="362.7" x2="766.6" y2="367.7" stroke="#fff" stroke-width="1.3" />
<line x1="769.6" y1="365.1" x2="770.6" y2="370.1" stroke="#fff" stroke-width="1.3" />
<line x1="774.1" y1="367.7" x2="775.1" y2="372.7" stroke="#fff" stroke-width="1.3" />
<line x1="779.0" y1="370.7" x2="780.0" y2="375.7" stroke="#fff" stroke-width="1.3" />
<line x1="782.6" y1="372.8" x2="783.6" y2="377.8" stroke="#fff" stroke-width="1.3" />
<line x1="788.2" y1="376.2" x2="789.2" y2="381.2" stroke="#fff" stroke-width="1.3" />
<line x1="791.4" y1="378.1" x2="792.4" y2="383.1" stroke="#fff" stroke-width="1.3" />
<line x1="795.2" y1="380.3" x2="796.2" y2="385.3" stroke="#fff" stroke-width="1.3" />
<line x1="800.6" y1="383.5" x2="801.6" y2="388.5" stroke="#fff" stroke-width="1.3" />
<line x1="804.9" y1="386.1" x2="805.9" y2="391.1" stroke="#fff" stroke-width="1.3" />
<line x1="809.3" y1="388.7" x2="810.3" y2="393.7" stroke="#fff" stroke-width="1.3" />
<line x1="813.1" y1="391.0" x2="814.1" y2="396.0" stroke="#fff" stroke-width="1.3" />
<line x1="818.2" y1="394.0" x2="819.2" y2="399.0" stroke="#fff" stroke-width="1.3" />
<line x1="822.0" y1="396.3" x2="823.0" y2="401.3" stroke="#fff" stroke-width="1.3" />
<polygon points="827.1,397.6 955.3,284.7 957.5,296.0 829.4,406.5" fill="#fff" stroke="#111" stroke-width="3.2" stroke-linejoin="round" />
<line x1="828.5" y1="401.5" x2="956.0" y2="289.5" stroke="#111" stroke-width="2.6" />
<polyline points="834.7,400.6 840.7,395.8 846.6,390.7 852.8,386.0 858.5,380.7 864.2,375.5 869.8,370.1 875.2,364.5 880.9,359.3 886.5,353.9 891.9,348.3 897.5,343.0 903.6,338.2 909.6,333.2 915.6,328.3 921.7,323.5 927.7,318.6 933.4,313.3 939.0,308.0 944.8,302.8 950.1,297.1" fill="none" stroke="#111" stroke-width="1.0" stroke-linejoin="round" stroke-linecap="round" stroke-dasharray="12 4"/>
<path d="M868,694 C864,690 866,684 871,686 M866,680 L871,678 L866,674 L871,672 M866,668 L871,666 M867,662 C865,658 869,656 871,660 M866,652 L872,651 M869,651 L869,646" fill="none" stroke="#111" stroke-width="1.1" stroke-linecap="round" stroke-linejoin="round" />
<text x="215.5" y="165.8" font-size="39" font-weight="bold" font-family="'Liberation Serif', serif" textLength="92.5" lengthAdjust="spacingAndGlyphs" stroke="#111" stroke-width="0.8">HOW</text>
<text x="321.4" y="165.8" font-size="39" font-weight="bold" font-family="'Liberation Serif', serif" textLength="51.5" lengthAdjust="spacingAndGlyphs" stroke="#111" stroke-width="0.8">TO</text>
<text x="383.5" y="165.8" font-size="39" font-weight="bold" font-family="'Liberation Serif', serif" textLength="126.4" lengthAdjust="spacingAndGlyphs" stroke="#111" stroke-width="0.8">BUILD</text>
<text x="524.7" y="165.8" font-size="39" font-weight="bold" font-family="'Liberation Serif', serif" textLength="26.1" lengthAdjust="spacingAndGlyphs" stroke="#111" stroke-width="0.8">A</text>
<text x="216.5" y="218.6" font-size="63.5" font-weight="bold" font-family="'Liberation Serif', serif" textLength="329.5" lengthAdjust="spacingAndGlyphs" stroke="#111" stroke-width="1">BLUEBIRD</text>
<text x="216.5" y="271.5" font-size="64" font-weight="bold" font-family="'Liberation Serif', serif" textLength="223.5" lengthAdjust="spacingAndGlyphs" stroke="#111" stroke-width="1">HOUSE</text>
<text x="113.3" y="706.7031626506025" font-size="25" font-weight="bold" font-family="'Liberation Sans', sans-serif" textLength="45.5" lengthAdjust="spacingAndGlyphs" >ALL</text>
<text x="176.9" y="707.3736445783132" font-size="25" font-weight="bold" font-family="'Liberation Sans', sans-serif" textLength="76.8" lengthAdjust="spacingAndGlyphs" >PARTS</text>
<text x="273.8" y="708.3951807228916" font-size="25" font-weight="bold" font-family="'Liberation Sans', sans-serif" textLength="67.7" lengthAdjust="spacingAndGlyphs" >FROM</text>
<text x="362.7" y="709.3323795180723" font-size="25" font-weight="bold" font-family="'Liberation Sans', sans-serif" textLength="14.8" lengthAdjust="spacingAndGlyphs" >A</text>
<text x="398.7" y="709.7118975903614" font-size="25" font-weight="bold" font-family="'Liberation Sans', sans-serif" textLength="81.5" lengthAdjust="spacingAndGlyphs" >SINGLE</text>
<rect x="502.3" y="693.8040662650603" width="3.3999999999999773" height="17" fill="#111"/>
<text x="519.3" y="710.9832831325301" font-size="22" font-weight="bold" font-family="'Liberation Sans', sans-serif" textLength="10.3" lengthAdjust="spacingAndGlyphs" >x</text>
<text x="544.3" y="711.2468373493977" font-size="25" font-weight="bold" font-family="'Liberation Sans', sans-serif" textLength="13.7" lengthAdjust="spacingAndGlyphs" >6</text>
<text x="578.5" y="711.6073795180723" font-size="25" font-weight="bold" font-family="'Liberation Sans', sans-serif" textLength="80.7" lengthAdjust="spacingAndGlyphs" >BOARD</text>
<text x="678.5" y="712.6615963855422" font-size="25" font-weight="bold" font-family="'Liberation Sans', sans-serif" textLength="21.5" lengthAdjust="spacingAndGlyphs" >5'</text>
<text x="716" y="713.0569277108434" font-size="25" font-weight="bold" font-family="'Liberation Sans', sans-serif" textLength="61.5" lengthAdjust="spacingAndGlyphs" >LONG</text>
<rect x="156" y="790" width="490.5" height="81" fill="url(#dots)"/>
<polygon points="646.5,812.5 651.5,807.5 700.0,807.5 705.0,812.5 705.0,866.0 700.0,871.0 651.5,871.0 646.5,866.0" fill="url(#dots)" stroke="#111" stroke-width="1.6" stroke-linejoin="round" />
<path d="M705,807.5 L1001,807.5 Q1006.7,807.5 1006.7,813.5 L1006.7,871 L705,871 Z" fill="url(#dots)" stroke="#111" stroke-width="2.6" stroke-linecap="round" stroke-linejoin="round" />
<line x1="848.0" y1="807.5" x2="867.0" y2="871.0" stroke="#111" stroke-width="2.4" />
<path d="M969,801 L969,794 Q969,792.5 971,792.5 L1043.5,792.5 L1043.5,801 Z" fill="#c4c4c4" stroke="#111" stroke-width="2" stroke-linecap="round" stroke-linejoin="round" />
<polyline points="156.0,790.0 1040.5,790.0 1043.5,793.0 1043.5,871.0 156.0,871.0 156.0,790.0" fill="none" stroke="#111" stroke-width="3" stroke-linejoin="round" stroke-linecap="round" />
<line x1="253.0" y1="790.0" x2="253.0" y2="871.0" stroke="#111" stroke-width="2.6" />
<line x1="399.0" y1="790.0" x2="399.0" y2="871.0" stroke="#111" stroke-width="2.6" />
<line x1="646.5" y1="790.0" x2="646.5" y2="871.0" stroke="#111" stroke-width="2.6" />
<line x1="646.5" y1="807.5" x2="705.0" y2="807.5" stroke="#111" stroke-width="2.4" />
<text x="172.3" y="845" font-size="22" font-weight="normal" font-family="'Liberation Sans', sans-serif" textLength="60.2" lengthAdjust="spacingAndGlyphs" stroke="#111" stroke-width="0.5">ROOF</text>
<text x="282.7" y="845" font-size="22" font-weight="normal" font-family="'Liberation Sans', sans-serif" textLength="75.8" lengthAdjust="spacingAndGlyphs" stroke="#111" stroke-width="0.5">FRONT</text>
<text x="460" y="847" font-size="22" font-weight="normal" font-family="'Liberation Sans', sans-serif" textLength="62" lengthAdjust="spacingAndGlyphs" stroke="#111" stroke-width="0.5">BACK</text>
<text x="737" y="848" font-size="22" font-weight="normal" font-family="'Liberation Sans', sans-serif" textLength="51" lengthAdjust="spacingAndGlyphs" stroke="#111" stroke-width="0.5">SIDE</text>
<text x="897" y="848.5" font-size="22" font-weight="normal" font-family="'Liberation Sans', sans-serif" textLength="53" lengthAdjust="spacingAndGlyphs" stroke="#111" stroke-width="0.5">SIDE</text>
<line x1="104.0" y1="789.0" x2="149.0" y2="789.0" stroke="#111" stroke-width="1.3" />
<line x1="104.0" y1="870.0" x2="149.0" y2="870.0" stroke="#111" stroke-width="1.3" />
<line x1="112.0" y1="791.0" x2="112.0" y2="818.0" stroke="#111" stroke-width="1.3" />
<line x1="112.0" y1="852.0" x2="112.0" y2="868.0" stroke="#111" stroke-width="1.3" />
<polygon points="114.2,797.0 112.0,790.0 109.8,797.0 112.0,795.2" fill="#111" stroke="#111" stroke-width="0.6" stroke-linejoin="round" />
<polygon points="109.8,862.0 112.0,869.0 114.2,862.0 112.0,863.8" fill="#111" stroke="#111" stroke-width="0.6" stroke-linejoin="round" />
<text x="107" y="845.5" font-size="21" font-family="'Liberation Sans', sans-serif" font-weight="normal" stroke="#111" stroke-width="0.4" textLength="38" lengthAdjust="spacingAndGlyphs">5<tspan font-size="19.3" dy="-3.6">1</tspan><tspan font-size="22.1" dy="4.3" dx="-1">/</tspan><tspan font-size="21.0" dy="1.8" dx="-1">2</tspan><tspan font-size="15.8" dx="0" dy="-11.3">"</tspan></text>
<line x1="155.5" y1="880.0" x2="155.5" y2="929.0" stroke="#111" stroke-width="1.3" />
<line x1="253.0" y1="880.0" x2="253.0" y2="929.0" stroke="#111" stroke-width="1.3" />
<line x1="399.0" y1="880.0" x2="399.0" y2="929.0" stroke="#111" stroke-width="1.3" />
<line x1="646.5" y1="880.0" x2="646.5" y2="929.0" stroke="#111" stroke-width="1.3" />
<line x1="705.0" y1="880.0" x2="705.0" y2="929.0" stroke="#111" stroke-width="1.3" />
<line x1="867.0" y1="880.0" x2="867.0" y2="929.0" stroke="#111" stroke-width="1.3" />
<line x1="1008.0" y1="880.0" x2="1008.0" y2="929.0" stroke="#111" stroke-width="1.3" />
<line x1="156.5" y1="910.5" x2="177.0" y2="910.5" stroke="#111" stroke-width="1.3" />
<line x1="226.0" y1="910.5" x2="252.0" y2="910.5" stroke="#111" stroke-width="1.3" />
<polygon points="163.0,908.3 156.0,910.5 163.0,912.7 161.2,910.5" fill="#111" stroke="#111" stroke-width="0.6" stroke-linejoin="round" />
<polygon points="245.5,912.7 252.5,910.5 245.5,908.3 247.2,910.5" fill="#111" stroke="#111" stroke-width="0.6" stroke-linejoin="round" />
<line x1="254.0" y1="910.5" x2="300.0" y2="910.5" stroke="#111" stroke-width="1.3" />
<line x1="354.0" y1="910.5" x2="398.0" y2="910.5" stroke="#111" stroke-width="1.3" />
<polygon points="260.5,908.3 253.5,910.5 260.5,912.7 258.8,910.5" fill="#111" stroke="#111" stroke-width="0.6" stroke-linejoin="round" />
<polygon points="391.5,912.7 398.5,910.5 391.5,908.3 393.2,910.5" fill="#111" stroke="#111" stroke-width="0.6" stroke-linejoin="round" />
<line x1="400.0" y1="910.5" x2="482.0" y2="910.5" stroke="#111" stroke-width="1.3" />
<line x1="549.0" y1="910.5" x2="645.5" y2="910.5" stroke="#111" stroke-width="1.3" />
<polygon points="406.5,908.3 399.5,910.5 406.5,912.7 404.8,910.5" fill="#111" stroke="#111" stroke-width="0.6" stroke-linejoin="round" />
<polygon points="639.0,912.7 646.0,910.5 639.0,908.3 640.8,910.5" fill="#111" stroke="#111" stroke-width="0.6" stroke-linejoin="round" />
<line x1="647.5" y1="910.5" x2="664.0" y2="910.5" stroke="#111" stroke-width="1.3" />
<line x1="692.0" y1="910.5" x2="704.0" y2="910.5" stroke="#111" stroke-width="1.3" />
<polygon points="654.0,908.3 647.0,910.5 654.0,912.7 652.2,910.5" fill="#111" stroke="#111" stroke-width="0.6" stroke-linejoin="round" />
<polygon points="697.5,912.7 704.5,910.5 697.5,908.3 699.2,910.5" fill="#111" stroke="#111" stroke-width="0.6" stroke-linejoin="round" />
<line x1="706.0" y1="910.5" x2="748.0" y2="910.5" stroke="#111" stroke-width="1.3" />
<line x1="815.0" y1="910.5" x2="866.0" y2="910.5" stroke="#111" stroke-width="1.3" />
<polygon points="712.5,908.3 705.5,910.5 712.5,912.7 710.8,910.5" fill="#111" stroke="#111" stroke-width="0.6" stroke-linejoin="round" />
<polygon points="859.5,912.7 866.5,910.5 859.5,908.3 861.2,910.5" fill="#111" stroke="#111" stroke-width="0.6" stroke-linejoin="round" />
<line x1="868.0" y1="910.5" x2="907.0" y2="910.5" stroke="#111" stroke-width="1.3" />
<line x1="963.0" y1="910.5" x2="1007.0" y2="910.5" stroke="#111" stroke-width="1.3" />
<polygon points="874.5,908.3 867.5,910.5 874.5,912.7 872.8,910.5" fill="#111" stroke="#111" stroke-width="0.6" stroke-linejoin="round" />
<polygon points="1000.5,912.7 1007.5,910.5 1000.5,908.3 1002.2,910.5" fill="#111" stroke="#111" stroke-width="0.6" stroke-linejoin="round" />
<text x="182" y="917" font-size="21" font-family="'Liberation Sans', sans-serif" font-weight="normal" stroke="#111" stroke-width="0.4" textLength="44" lengthAdjust="spacingAndGlyphs">6<tspan font-size="19.3" dy="-3.6">1</tspan><tspan font-size="22.1" dy="4.3" dx="-1">/</tspan><tspan font-size="21.0" dy="1.8" dx="-1">2</tspan><tspan font-size="15.8" dx="0" dy="-11.3">"</tspan></text>
<text x="303.5" y="917.5" font-size="21" font-family="'Liberation Sans', sans-serif" font-weight="normal" stroke="#111" stroke-width="0.4" textLength="47" lengthAdjust="spacingAndGlyphs">9<tspan dx="4"></tspan><tspan font-size="19.3" dy="-3.6">7</tspan><tspan font-size="22.1" dy="4.3" dx="-1">/</tspan><tspan font-size="21.0" dy="1.8" dx="-1">8</tspan><tspan font-size="15.8" dx="0" dy="-11.3">"</tspan></text>
<text x="485" y="918" font-size="21" font-family="'Liberation Sans', sans-serif" font-weight="normal" stroke="#111" stroke-width="0.4" textLength="60" lengthAdjust="spacingAndGlyphs">16<tspan dx="5"></tspan><tspan font-size="19.3" dy="-3.6">1</tspan><tspan font-size="22.1" dy="4.3" dx="-1">/</tspan><tspan font-size="21.0" dy="1.8" dx="-1">2</tspan><tspan font-size="15.8" dx="0" dy="-11.3">"</tspan></text>
<text x="667" y="918" font-size="21" font-family="'Liberation Sans', sans-serif" font-weight="normal" stroke="#111" stroke-width="0.4">4<tspan font-size="15.8" dx="3" dy="-8.8">"</tspan></text>
<text x="751.5" y="918" font-size="21" font-family="'Liberation Sans', sans-serif" font-weight="normal" stroke="#111" stroke-width="0.4" textLength="60.5" lengthAdjust="spacingAndGlyphs">10<tspan dx="2"></tspan><tspan font-size="19.3" dy="-3.6">3</tspan><tspan font-size="22.1" dy="4.3" dx="-1">/</tspan><tspan font-size="21.0" dy="1.8" dx="-1">4</tspan><tspan font-size="15.8" dx="0" dy="-11.3">"</tspan></text>
<text x="911" y="918.5" font-size="21" font-family="'Liberation Sans', sans-serif" font-weight="normal" stroke="#111" stroke-width="0.4" textLength="49" lengthAdjust="spacingAndGlyphs">9<tspan dx="4"></tspan><tspan font-size="19.3" dy="-3.6">3</tspan><tspan font-size="22.1" dy="4.3" dx="-1">/</tspan><tspan font-size="21.0" dy="1.8" dx="-1">4</tspan><tspan font-size="15.8" dx="0" dy="-11.3">"</tspan></text>
<line x1="704.5" y1="750.0" x2="704.5" y2="802.0" stroke="#111" stroke-width="1.3" />
<line x1="848.0" y1="750.0" x2="848.0" y2="802.0" stroke="#111" stroke-width="1.3" />
<line x1="1006.7" y1="750.0" x2="1006.7" y2="802.0" stroke="#111" stroke-width="1.3" />
<line x1="705.5" y1="765.5" x2="743.0" y2="765.5" stroke="#111" stroke-width="1.3" />
<line x1="799.0" y1="765.5" x2="847.0" y2="765.5" stroke="#111" stroke-width="1.3" />
<polygon points="712.0,763.3 705.0,765.5 712.0,767.7 710.2,765.5" fill="#111" stroke="#111" stroke-width="0.6" stroke-linejoin="round" />
<polygon points="840.5,767.7 847.5,765.5 840.5,763.3 842.2,765.5" fill="#111" stroke="#111" stroke-width="0.6" stroke-linejoin="round" />
<line x1="849.0" y1="765.5" x2="897.0" y2="765.5" stroke="#111" stroke-width="1.3" />
<line x1="963.0" y1="765.5" x2="1005.7" y2="765.5" stroke="#111" stroke-width="1.3" />
<polygon points="855.5,763.3 848.5,765.5 855.5,767.7 853.8,765.5" fill="#111" stroke="#111" stroke-width="0.6" stroke-linejoin="round" />
<polygon points="999.2,767.7 1006.2,765.5 999.2,763.3 1001.0,765.5" fill="#111" stroke="#111" stroke-width="0.6" stroke-linejoin="round" />
<text x="747.7" y="774" font-size="21" font-family="'Liberation Sans', sans-serif" font-weight="normal" stroke="#111" stroke-width="0.4" textLength="47.5" lengthAdjust="spacingAndGlyphs">9<tspan dx="4"></tspan><tspan font-size="19.3" dy="-3.6">3</tspan><tspan font-size="22.1" dy="4.3" dx="-1">/</tspan><tspan font-size="21.0" dy="1.8" dx="-1">4</tspan><tspan font-size="15.8" dx="0" dy="-11.3">"</tspan></text>
<text x="901" y="774" font-size="21" font-family="'Liberation Sans', sans-serif" font-weight="normal" stroke="#111" stroke-width="0.4" textLength="59" lengthAdjust="spacingAndGlyphs">10<tspan dx="2"></tspan><tspan font-size="19.3" dy="-3.6">3</tspan><tspan font-size="22.1" dy="4.3" dx="-1">/</tspan><tspan font-size="21.0" dy="1.8" dx="-1">4</tspan><tspan font-size="15.8" dx="0" dy="-11.3">"</tspan></text>
<line x1="1013.0" y1="808.5" x2="1095.0" y2="808.5" stroke="#111" stroke-width="1.3" />
<line x1="1055.0" y1="871.5" x2="1094.0" y2="871.5" stroke="#111" stroke-width="1.3" />
<line x1="1080.0" y1="810.0" x2="1080.0" y2="828.0" stroke="#111" stroke-width="1.3" />
<line x1="1080.0" y1="853.0" x2="1080.0" y2="870.0" stroke="#111" stroke-width="1.3" />
<polygon points="1082.2,816.5 1080.0,809.5 1077.8,816.5 1080.0,814.8" fill="#111" stroke="#111" stroke-width="0.6" stroke-linejoin="round" />
<polygon points="1077.8,863.5 1080.0,870.5 1082.2,863.5 1080.0,865.2" fill="#111" stroke="#111" stroke-width="0.6" stroke-linejoin="round" />
<text x="1072" y="850" font-size="23" font-family="'Liberation Sans', sans-serif" font-weight="normal" stroke="#111" stroke-width="0.4">4<tspan font-size="17.2" dx="2" dy="-9.7">"</tspan></text>
<text x="1065" y="750" font-size="19" font-weight="normal" font-family="'Liberation Sans', sans-serif" textLength="52" lengthAdjust="spacingAndGlyphs" stroke="#111" stroke-width="0.3">STRIP</text>
<text x="1064" y="776" font-size="21" font-family="'Liberation Sans', sans-serif" font-weight="normal" stroke="#111" stroke-width="0.4" textLength="10" lengthAdjust="spacingAndGlyphs">3</text>
<text x="1075" y="777" font-size="16" font-weight="normal" font-family="'Liberation Sans', sans-serif" >/</text>
<text x="1081" y="777" font-size="21" font-family="'Liberation Sans', sans-serif" font-weight="normal" stroke="#111" stroke-width="0.4" textLength="20" lengthAdjust="spacingAndGlyphs">4<tspan font-size="15.8" dx="0" dy="-8.8">"</tspan></text>
<text x="1103" y="775" font-size="16" font-weight="bold" font-family="'Liberation Sans', sans-serif" >×</text>
<text x="1117" y="779" font-size="21" font-family="'Liberation Sans', sans-serif" font-weight="normal" stroke="#111" stroke-width="0.4" textLength="47" lengthAdjust="spacingAndGlyphs">5<tspan font-size="19.3" dy="-3.6">1</tspan><tspan font-size="22.1" dy="4.3" dx="-1">/</tspan><tspan font-size="21.0" dy="1.8" dx="-1">2</tspan><tspan font-size="15.8" dx="0" dy="-11.3">"</tspan></text>
<path d="M1063,742 C1050,738 1040,745 1045,758 C1050,770 1060,778 1058,790 C1056,800 1050,800 1046,797" fill="none" stroke="#111" stroke-width="1.3" stroke-linecap="round" stroke-linejoin="round" />
<polygon points="1052.8,795.9 1045.5,796.0 1051.6,800.2 1050.5,797.5" fill="#111" stroke="#111" stroke-width="0.6" stroke-linejoin="round" />
<text x="537.5" y="781.2" font-size="24" font-weight="normal" font-family="'Liberation Sans', sans-serif" textLength="93.5" lengthAdjust="spacingAndGlyphs" stroke="#111" stroke-width="0.5">BOTTOM</text>
<path d="M632,773 C648,768 660,780 664,795 C668,808 669,818 669,830" fill="none" stroke="#111" stroke-width="1.4" stroke-linecap="round" stroke-linejoin="round" />
<polygon points="666.2,823.2 669.5,832.0 671.9,822.9 669.2,825.3" fill="#111" stroke="#111" stroke-width="0.6" stroke-linejoin="round" />
<polygon points="539.5,1012.5 558.0,1012.5 553.5,1501.5 535.0,1501.5" fill="url(#dots)" stroke="#111" stroke-width="2.6" stroke-linejoin="round" />
<line x1="541.0" y1="1083.0" x2="557.0" y2="1083.0" stroke="#111" stroke-width="1.2" />
<polygon points="349.5,1103.5 538.5,1065.5 538.5,1084.0 356.5,1118.0" fill="url(#dots)" stroke="#111" stroke-width="2.2" stroke-linejoin="round" />
<line x1="357.0" y1="1117.5" x2="538.5" y2="1084.0" stroke="#111" stroke-width="3.5" />
<polygon points="518.5,1053.0 538.5,1053.0 538.5,1065.5 518.5,1069.5" fill="#fff" stroke="#111" stroke-width="2" stroke-linejoin="round" />
<polyline points="521.0,1061.0 525.0,1058.0 528.0,1062.0 532.0,1058.0 536.0,1061.0" fill="none" stroke="#111" stroke-width="1.2" stroke-linejoin="round" stroke-linecap="round" />
<polygon points="399.0,1112.0 415.5,1112.0 415.5,1408.0 399.0,1408.0" fill="url(#dots)" stroke="#111" stroke-width="2.4" stroke-linejoin="round" />
<rect x="400.5" y="1159.5" width="13.5" height="48" fill="#fff"/>
<line x1="400.5" y1="1160.0" x2="414.0" y2="1160.0" stroke="#111" stroke-width="1.1" />
<line x1="400.5" y1="1165.0" x2="414.0" y2="1165.0" stroke="#111" stroke-width="1.1" />
<line x1="400.5" y1="1171.0" x2="414.0" y2="1171.0" stroke="#111" stroke-width="1.1" />
<line x1="400.5" y1="1177.0" x2="414.0" y2="1177.0" stroke="#111" stroke-width="1.1" />
<line x1="400.5" y1="1183.0" x2="414.0" y2="1183.0" stroke="#111" stroke-width="1.1" />
<line x1="400.5" y1="1189.0" x2="414.0" y2="1189.0" stroke="#111" stroke-width="1.1" />
<line x1="400.5" y1="1195.0" x2="414.0" y2="1195.0" stroke="#111" stroke-width="1.1" />
<line x1="400.5" y1="1201.0" x2="414.0" y2="1201.0" stroke="#111" stroke-width="1.1" />
<line x1="400.5" y1="1207.0" x2="414.0" y2="1207.0" stroke="#111" stroke-width="1.1" />
<line x1="417.0" y1="1113.5" x2="538.0" y2="1083.5" stroke="#111" stroke-width="1.3" />
<polygon points="400.0,1075.5 418.5,1075.5 413.0,1081.0 406.0,1081.0" fill="#fff" stroke="#111" stroke-width="1.8" stroke-linejoin="round" />
<polygon points="406.0,1081.0 413.0,1081.0 412.0,1118.0 409.5,1123.0 407.0,1118.0" fill="#fff" stroke="#111" stroke-width="1.6" stroke-linejoin="round" />
<line x1="406.5" y1="1087.0" x2="412.5" y2="1085.0" stroke="#111" stroke-width="1" />
<line x1="406.5" y1="1092.0" x2="412.5" y2="1090.0" stroke="#111" stroke-width="1" />
<line x1="406.5" y1="1097.0" x2="412.5" y2="1095.0" stroke="#111" stroke-width="1" />
<line x1="406.5" y1="1102.0" x2="412.5" y2="1100.0" stroke="#111" stroke-width="1" />
<line x1="406.5" y1="1107.0" x2="412.5" y2="1105.0" stroke="#111" stroke-width="1" />
<line x1="406.5" y1="1112.0" x2="412.5" y2="1110.0" stroke="#111" stroke-width="1" />
<line x1="406.5" y1="1117.0" x2="412.5" y2="1115.0" stroke="#111" stroke-width="1" />
<rect x="418" y="1384" width="116" height="18" fill="#111"/>
<polyline points="419.6,1388.5 420.3,1394.0 418.9,1399.0" fill="none" stroke="#bbb" stroke-width="0.8" stroke-linejoin="round" stroke-linecap="round" />
<polyline points="424.9,1389.1 423.1,1394.0 425.4,1399.0" fill="none" stroke="#bbb" stroke-width="0.8" stroke-linejoin="round" stroke-linecap="round" />
<polyline points="428.7,1389.3 427.0,1394.0 427.9,1399.0" fill="none" stroke="#bbb" stroke-width="0.8" stroke-linejoin="round" stroke-linecap="round" />
<polyline points="434.2,1390.5 432.7,1394.0 433.9,1399.0" fill="none" stroke="#bbb" stroke-width="0.8" stroke-linejoin="round" stroke-linecap="round" />
<polyline points="439.5,1390.8 439.8,1394.0 439.6,1399.0" fill="none" stroke="#bbb" stroke-width="0.8" stroke-linejoin="round" stroke-linecap="round" />
<polyline points="445.0,1388.1 446.4,1394.0 444.8,1399.0" fill="none" stroke="#bbb" stroke-width="0.8" stroke-linejoin="round" stroke-linecap="round" />
<polyline points="448.1,1388.4 447.3,1394.0 449.5,1399.0" fill="none" stroke="#bbb" stroke-width="0.8" stroke-linejoin="round" stroke-linecap="round" />
<polyline points="453.0,1389.7 453.5,1394.0 453.1,1399.0" fill="none" stroke="#bbb" stroke-width="0.8" stroke-linejoin="round" stroke-linecap="round" />
<polyline points="458.5,1388.2 456.7,1394.0 458.1,1399.0" fill="none" stroke="#bbb" stroke-width="0.8" stroke-linejoin="round" stroke-linecap="round" />
<polyline points="463.6,1389.3 462.8,1394.0 464.3,1399.0" fill="none" stroke="#bbb" stroke-width="0.8" stroke-linejoin="round" stroke-linecap="round" />
<polyline points="467.9,1388.9 469.1,1394.0 469.0,1399.0" fill="none" stroke="#bbb" stroke-width="0.8" stroke-linejoin="round" stroke-linecap="round" />
<polyline points="472.3,1389.7 472.4,1394.0 473.9,1399.0" fill="none" stroke="#bbb" stroke-width="0.8" stroke-linejoin="round" stroke-linecap="round" />
<polyline points="478.1,1388.9 480.0,1394.0 477.4,1399.0" fill="none" stroke="#bbb" stroke-width="0.8" stroke-linejoin="round" stroke-linecap="round" />
<polyline points="482.2,1390.3 480.8,1394.0 482.7,1399.0" fill="none" stroke="#bbb" stroke-width="0.8" stroke-linejoin="round" stroke-linecap="round" />
<polyline points="486.3,1390.0 487.3,1394.0 487.0,1399.0" fill="none" stroke="#bbb" stroke-width="0.8" stroke-linejoin="round" stroke-linecap="round" />
<polyline points="492.8,1388.9 493.5,1394.0 493.5,1399.0" fill="none" stroke="#bbb" stroke-width="0.8" stroke-linejoin="round" stroke-linecap="round" />
<polyline points="497.0,1389.4 498.3,1394.0 498.8,1399.0" fill="none" stroke="#bbb" stroke-width="0.8" stroke-linejoin="round" stroke-linecap="round" />
<polyline points="501.5,1390.0 499.8,1394.0 502.7,1399.0" fill="none" stroke="#bbb" stroke-width="0.8" stroke-linejoin="round" stroke-linecap="round" />
<polyline points="506.7,1391.0 508.0,1394.0 506.5,1399.0" fill="none" stroke="#bbb" stroke-width="0.8" stroke-linejoin="round" stroke-linecap="round" />
<polyline points="511.0,1390.0 509.1,1394.0 511.4,1399.0" fill="none" stroke="#bbb" stroke-width="0.8" stroke-linejoin="round" stroke-linecap="round" />
<polyline points="515.3,1388.4 513.6,1394.0 516.6,1399.0" fill="none" stroke="#bbb" stroke-width="0.8" stroke-linejoin="round" stroke-linecap="round" />
<polyline points="520.1,1388.7 519.6,1394.0 521.7,1399.0" fill="none" stroke="#bbb" stroke-width="0.8" stroke-linejoin="round" stroke-linecap="round" />
<polyline points="524.8,1389.3 525.0,1394.0 526.4,1399.0" fill="none" stroke="#bbb" stroke-width="0.8" stroke-linejoin="round" stroke-linecap="round" />
<polyline points="531.0,1390.6 530.2,1394.0 531.3,1399.0" fill="none" stroke="#bbb" stroke-width="0.8" stroke-linejoin="round" stroke-linecap="round" />
<line x1="414.5" y1="1384.0" x2="534.0" y2="1384.0" stroke="#111" stroke-width="1.5" />
<line x1="399.0" y1="1407.5" x2="535.0" y2="1407.5" stroke="#111" stroke-width="2.6" />
<text x="308" y="1063.5" font-size="22.5" font-weight="normal" font-family="'Liberation Sans', sans-serif" textLength="69.5" lengthAdjust="spacingAndGlyphs" stroke="#111" stroke-width="0.45">SCREW</text>
<path d="M380,1055 C392,1051 403,1058 405,1071" fill="none" stroke="#111" stroke-width="1.3" stroke-linecap="round" stroke-linejoin="round" />
<polygon points="402.6,1067.3 405.5,1074.0 407.0,1066.8 405.0,1068.8" fill="#111" stroke="#111" stroke-width="0.6" stroke-linejoin="round" />
<text x="449.5" y="1139.8" font-size="23" font-weight="normal" font-family="'Liberation Sans', sans-serif" textLength="52.3" lengthAdjust="spacingAndGlyphs" stroke="#111" stroke-width="0.45">VENT</text>
<path d="M448,1131 C436,1128 430,1122 429,1117" fill="none" stroke="#111" stroke-width="1.3" stroke-linecap="round" stroke-linejoin="round" />
<polygon points="432.1,1120.4 428.5,1114.0 427.7,1121.3 429.5,1119.1" fill="#111" stroke="#111" stroke-width="0.6" stroke-linejoin="round" />
<text x="223.3" y="1216" font-size="21" font-family="'Liberation Sans', sans-serif" font-weight="normal" stroke="#111" stroke-width="0.4" textLength="43" lengthAdjust="spacingAndGlyphs">1<tspan font-size="19.3" dy="-3.6">1</tspan><tspan font-size="22.1" dy="4.3" dx="-1">/</tspan><tspan font-size="21.0" dy="1.8" dx="-1">2</tspan><tspan font-size="15.8" dx="0" dy="-11.3">"</tspan></text>
<text x="274" y="1214" font-size="22" font-weight="normal" font-family="'Liberation Sans', sans-serif" textLength="94" lengthAdjust="spacingAndGlyphs" stroke="#111" stroke-width="0.45">OPENING</text>
<line x1="370.0" y1="1204.6" x2="394.0" y2="1190.5" stroke="#111" stroke-width="1.3" />
<polygon points="391.7,1195.0 396.5,1189.5 389.3,1191.2 392.0,1192.2" fill="#111" stroke="#111" stroke-width="0.6" stroke-linejoin="round" />
<line x1="563.0" y1="1013.2" x2="609.6" y2="1013.2" stroke="#111" stroke-width="1.3" />
<line x1="556.5" y1="1082.8" x2="617.2" y2="1082.8" stroke="#111" stroke-width="1.3" />
<line x1="604.5" y1="1015.0" x2="604.5" y2="1029.0" stroke="#111" stroke-width="1.3" />
<line x1="604.5" y1="1066.0" x2="604.5" y2="1081.0" stroke="#111" stroke-width="1.3" />
<polygon points="606.7,1021.0 604.5,1014.0 602.3,1021.0 604.5,1019.2" fill="#111" stroke="#111" stroke-width="0.6" stroke-linejoin="round" />
<polygon points="602.3,1075.0 604.5,1082.0 606.7,1075.0 604.5,1076.8" fill="#111" stroke="#111" stroke-width="0.6" stroke-linejoin="round" />
<text x="588" y="1060" font-size="22" font-family="'Liberation Sans', sans-serif" font-weight="normal" stroke="#111" stroke-width="0.4" textLength="37" lengthAdjust="spacingAndGlyphs">2<tspan font-size="20.2" dy="-3.7">1</tspan><tspan font-size="23.1" dy="4.5" dx="-1">/</tspan><tspan font-size="22.0" dy="1.8" dx="-1">2</tspan><tspan font-size="16.5" dx="0" dy="-11.9">"</tspan></text>
<line x1="335.0" y1="1112.4" x2="351.0" y2="1112.4" stroke="#111" stroke-width="1.3" />
<line x1="331.0" y1="1178.7" x2="394.5" y2="1178.7" stroke="#111" stroke-width="1.3" />
<line x1="343.6" y1="1114.0" x2="343.6" y2="1128.0" stroke="#111" stroke-width="1.3" />
<line x1="343.6" y1="1162.0" x2="343.6" y2="1177.0" stroke="#111" stroke-width="1.3" />
<polygon points="345.8,1120.5 343.6,1113.5 341.4,1120.5 343.6,1118.8" fill="#111" stroke="#111" stroke-width="0.6" stroke-linejoin="round" />
<polygon points="341.4,1170.8 343.6,1177.8 345.8,1170.8 343.6,1172.5" fill="#111" stroke="#111" stroke-width="0.6" stroke-linejoin="round" />
<text x="329.5" y="1155" font-size="22" font-family="'Liberation Sans', sans-serif" font-weight="normal" stroke="#111" stroke-width="0.4" textLength="38" lengthAdjust="spacingAndGlyphs">2<tspan font-size="20.2" dy="-3.7">1</tspan><tspan font-size="23.1" dy="4.5" dx="-1">/</tspan><tspan font-size="22.0" dy="1.8" dx="-1">4</tspan><tspan font-size="16.5" dx="0" dy="-11.9">"</tspan></text>
<text x="260" y="1399" font-size="21" font-family="'Liberation Sans', sans-serif" font-weight="normal" stroke="#111" stroke-width="0.4" textLength="23" lengthAdjust="spacingAndGlyphs"><tspan font-size="19.3" dy="-3.6">1</tspan><tspan font-size="22.1" dy="4.3" dx="-1">/</tspan><tspan font-size="21.0" dy="1.8" dx="-1">4</tspan><tspan font-size="15.8" dx="0" dy="-11.3">'</tspan></text>
<text x="303" y="1400.5" font-size="21" font-weight="normal" font-family="'Liberation Sans', sans-serif" textLength="69" lengthAdjust="spacingAndGlyphs" stroke="#111" stroke-width="0.45">RECESS</text>
<text x="278" y="1422" font-size="21" font-weight="normal" font-family="'Liberation Sans', sans-serif" textLength="94" lengthAdjust="spacingAndGlyphs" stroke="#111" stroke-width="0.45">FOR  DRIP</text>
<path d="M377.6,1416.8 C385,1430 400,1434 412,1426 C418,1421 421,1417 423,1414" fill="none" stroke="#111" stroke-width="1.3" stroke-linecap="round" stroke-linejoin="round" />
<polygon points="423.4,1418.8 424.5,1411.5 419.4,1416.8 422.2,1416.2" fill="#111" stroke="#111" stroke-width="0.6" stroke-linejoin="round" />
<text x="565" y="1400.5" font-size="21" font-weight="normal" font-family="'Liberation Sans', sans-serif" textLength="63.3" lengthAdjust="spacingAndGlyphs" stroke="#111" stroke-width="0.45">FLOOR</text>
<line x1="478.6" y1="1500.5" x2="529.0" y2="1500.5" stroke="#111" stroke-width="1.3" />
<line x1="488.7" y1="1411.0" x2="488.7" y2="1442.0" stroke="#111" stroke-width="1.3" />
<line x1="488.7" y1="1468.0" x2="488.7" y2="1499.0" stroke="#111" stroke-width="1.3" />
<polygon points="490.9,1417.0 488.7,1410.0 486.5,1417.0 488.7,1415.2" fill="#111" stroke="#111" stroke-width="0.6" stroke-linejoin="round" />
<polygon points="486.5,1493.0 488.7,1500.0 490.9,1493.0 488.7,1494.8" fill="#111" stroke="#111" stroke-width="0.6" stroke-linejoin="round" />
<text x="482" y="1463.7" font-size="22" font-family="'Liberation Sans', sans-serif" font-weight="normal" stroke="#111" stroke-width="0.4">3<tspan font-size="16.5" dx="3" dy="-9.2">"</tspan></text>
<line x1="540.0" y1="1402.3" x2="601.0" y2="1402.3" stroke="#111" stroke-width="1.3" />
<line x1="558.0" y1="1501.0" x2="599.5" y2="1501.0" stroke="#111" stroke-width="1.3" />
<line x1="588.6" y1="1404.0" x2="588.6" y2="1440.0" stroke="#111" stroke-width="1.3" />
<line x1="588.6" y1="1468.0" x2="588.6" y2="1500.0" stroke="#111" stroke-width="1.3" />
<polygon points="590.8,1410.5 588.6,1403.5 586.4,1410.5 588.6,1408.8" fill="#111" stroke="#111" stroke-width="0.6" stroke-linejoin="round" />
<polygon points="586.4,1493.5 588.6,1500.5 590.8,1493.5 588.6,1495.2" fill="#111" stroke="#111" stroke-width="0.6" stroke-linejoin="round" />
<text x="572.4" y="1462" font-size="22" font-family="'Liberation Sans', sans-serif" font-weight="normal" stroke="#111" stroke-width="0.4" textLength="38" lengthAdjust="spacingAndGlyphs">3<tspan font-size="20.2" dy="-3.7">1</tspan><tspan font-size="23.1" dy="4.5" dx="-1">/</tspan><tspan font-size="22.0" dy="1.8" dx="-1">4</tspan><tspan font-size="16.5" dx="0" dy="-11.9">"</tspan></text>
<text x="197.2" y="1500.5" font-size="27.5" font-weight="bold" font-family="'Liberation Sans', sans-serif" textLength="101.0" lengthAdjust="spacingAndGlyphs" stroke="#111" stroke-width="0.6">SECTION</text>
<text x="328.9" y="1501" font-size="27.5" font-weight="bold" font-family="'Liberation Sans', sans-serif" textLength="59.5" lengthAdjust="spacingAndGlyphs" stroke="#111" stroke-width="0.6">VIEW</text>
<text x="232" y="1524.5" font-size="23.5" font-weight="bold" font-family="'Liberation Sans', sans-serif" textLength="79" lengthAdjust="spacing" stroke="#111" stroke-width="0.5">(side )</text>
<line x1="808.3" y1="984.0" x2="808.3" y2="1013.0" stroke="#111" stroke-width="1.2" stroke-dasharray="5 4"/>
<line x1="940.5" y1="1037.5" x2="938.6" y2="1068.0" stroke="#111" stroke-width="1.2" stroke-dasharray="5 4"/>
<line x1="757.3" y1="1099.0" x2="757.3" y2="1190.0" stroke="#111" stroke-width="1.2" stroke-dasharray="5 4"/>
<line x1="885.8" y1="1153.5" x2="875.6" y2="1250.0" stroke="#111" stroke-width="1.2" stroke-dasharray="5 4"/>
<line x1="937.5" y1="1087.0" x2="934.4" y2="1168.0" stroke="#111" stroke-width="1.2" stroke-dasharray="5 4"/>
<line x1="721.3" y1="1210.1" x2="751.4" y2="1198.8" stroke="#111" stroke-width="1.2" stroke-dasharray="5 4"/>
<line x1="843.0" y1="1270.5" x2="867.5" y2="1256.0" stroke="#111" stroke-width="1.2" stroke-dasharray="5 4"/>
<line x1="934.0" y1="1168.0" x2="972.5" y2="1140.0" stroke="#111" stroke-width="1.2" stroke-dasharray="5 4"/>
<line x1="933.0" y1="1407.0" x2="968.0" y2="1390.0" stroke="#111" stroke-width="1.2" stroke-dasharray="5 4"/>
<line x1="842.6" y1="1462.0" x2="866.0" y2="1450.0" stroke="#111" stroke-width="1.2" stroke-dasharray="5 4"/>
<line x1="725.5" y1="1420.0" x2="725.5" y2="1499.0" stroke="#111" stroke-width="1.2" stroke-dasharray="5 4"/>
<line x1="915.3" y1="1426.0" x2="915.3" y2="1492.0" stroke="#111" stroke-width="1.2" stroke-dasharray="5 4"/>
<polygon points="838.9,1050.0 974.2,1101.8 969.0,1428.5 838.9,1380.5" fill="url(#dotsL)" stroke="#111" stroke-width="1.8" stroke-linejoin="round" />
<polygon points="838.9,1045.0 936.0,1080.4 981.3,1097.7 974.2,1101.8 838.9,1052.0" fill="#444" stroke="#111" stroke-width="1.6" stroke-linejoin="round" />
<line x1="917.2" y1="1076.5" x2="920.2" y2="1077.6" stroke="#fff" stroke-width="0.9" />
<line x1="925.1" y1="1079.4" x2="928.1" y2="1080.5" stroke="#fff" stroke-width="0.9" />
<line x1="932.9" y1="1082.3" x2="935.9" y2="1083.4" stroke="#fff" stroke-width="0.9" />
<line x1="940.7" y1="1085.2" x2="943.7" y2="1086.3" stroke="#fff" stroke-width="0.9" />
<line x1="948.5" y1="1088.1" x2="951.5" y2="1089.2" stroke="#fff" stroke-width="0.9" />
<line x1="956.4" y1="1091.0" x2="959.4" y2="1092.1" stroke="#fff" stroke-width="0.9" />
<line x1="964.2" y1="1093.9" x2="967.2" y2="1095.0" stroke="#fff" stroke-width="0.9" />
<line x1="972.0" y1="1096.8" x2="975.0" y2="1097.9" stroke="#fff" stroke-width="0.9" />
<polygon points="974.2,1101.8 981.3,1097.7 977.2,1424.5 969.0,1428.5" fill="#fff" stroke="#111" stroke-width="1.8" stroke-linejoin="round" />
<polygon points="811.4,1100.0 838.9,1100.0 838.9,1300.0 811.4,1300.0" fill="#fff" stroke="#111" stroke-width="1.8" stroke-linejoin="round" />
<polygon points="757.3,1196.0 806.5,1121.0 811.4,1121.8 811.4,1300.0 757.3,1300.0" fill="url(#dotsL)" stroke="#111" stroke-width="1.8" stroke-linejoin="round" />
<polygon points="751.5,1191.0 802.0,1118.5 806.5,1121.0 757.3,1196.0" fill="#555" stroke="#111" stroke-width="1.4" stroke-linejoin="round" />
<line x1="758.0" y1="1187.2" x2="759.2" y2="1185.4" stroke="#fff" stroke-width="0.9" />
<line x1="763.0" y1="1179.9" x2="764.2" y2="1178.1" stroke="#fff" stroke-width="0.9" />
<line x1="768.0" y1="1172.6" x2="769.2" y2="1170.8" stroke="#fff" stroke-width="0.9" />
<line x1="773.0" y1="1165.3" x2="774.2" y2="1163.5" stroke="#fff" stroke-width="0.9" />
<line x1="778.0" y1="1158.0" x2="779.2" y2="1156.2" stroke="#fff" stroke-width="0.9" />
<line x1="783.0" y1="1150.7" x2="784.2" y2="1148.9" stroke="#fff" stroke-width="0.9" />
<line x1="788.0" y1="1143.4" x2="789.2" y2="1141.6" stroke="#fff" stroke-width="0.9" />
<line x1="793.0" y1="1136.1" x2="794.2" y2="1134.3" stroke="#fff" stroke-width="0.9" />
<line x1="798.0" y1="1128.8" x2="799.2" y2="1127.0" stroke="#fff" stroke-width="0.9" />
<polygon points="751.5,1191.0 757.3,1196.0 757.3,1300.0 751.5,1300.0" fill="#fff" stroke="#111" stroke-width="1.6" stroke-linejoin="round" />
<polygon points="873.6,1256.0 934.6,1170.5 931.1,1412.5 869.4,1449.2" fill="#fff" stroke="#111" stroke-width="1.8" stroke-linejoin="round" />
<polygon points="867.4,1253.0 930.0,1166.5 934.6,1170.5 873.6,1256.0" fill="#555" stroke="#111" stroke-width="1.4" stroke-linejoin="round" />
<line x1="873.7" y1="1249.3" x2="874.9" y2="1247.7" stroke="#fff" stroke-width="0.9" />
<line x1="879.6" y1="1241.2" x2="880.8" y2="1239.6" stroke="#fff" stroke-width="0.9" />
<line x1="885.5" y1="1233.0" x2="886.7" y2="1231.4" stroke="#fff" stroke-width="0.9" />
<line x1="891.4" y1="1224.8" x2="892.6" y2="1223.2" stroke="#fff" stroke-width="0.9" />
<line x1="897.3" y1="1216.7" x2="898.5" y2="1215.1" stroke="#fff" stroke-width="0.9" />
<line x1="903.2" y1="1208.5" x2="904.4" y2="1206.9" stroke="#fff" stroke-width="0.9" />
<line x1="909.1" y1="1200.3" x2="910.3" y2="1198.7" stroke="#fff" stroke-width="0.9" />
<line x1="915.0" y1="1192.2" x2="916.2" y2="1190.6" stroke="#fff" stroke-width="0.9" />
<line x1="920.8" y1="1184.0" x2="922.0" y2="1182.4" stroke="#fff" stroke-width="0.9" />
<line x1="926.7" y1="1175.8" x2="927.9" y2="1174.2" stroke="#fff" stroke-width="0.9" />
<polygon points="867.4,1253.0 873.6,1256.0 869.4,1449.2 862.4,1446.0" fill="#fff" stroke="#111" stroke-width="1.6" stroke-linejoin="round" />
<polygon points="807.3,1014.0 938.5,1069.1 884.5,1145.6 758.4,1093.3" fill="#fff" stroke="#111" stroke-width="2" stroke-linejoin="round" />
<polygon points="758.4,1093.3 884.5,1145.6 884.5,1152.8 758.4,1098.6" fill="#fff" stroke="#111" stroke-width="1.8" stroke-linejoin="round" />
<polygon points="884.5,1145.6 938.5,1069.1 939.5,1078.0 886.5,1152.8 884.5,1152.8" fill="#555" stroke="#111" stroke-width="1.4" stroke-linejoin="round" />
<line x1="889.1" y1="1145.4" x2="890.4" y2="1143.7" stroke="#fff" stroke-width="0.9" />
<line x1="894.7" y1="1137.5" x2="895.9" y2="1135.8" stroke="#fff" stroke-width="0.9" />
<line x1="900.2" y1="1129.5" x2="901.4" y2="1127.8" stroke="#fff" stroke-width="0.9" />
<line x1="905.7" y1="1121.5" x2="906.9" y2="1119.8" stroke="#fff" stroke-width="0.9" />
<line x1="911.2" y1="1113.5" x2="912.4" y2="1111.8" stroke="#fff" stroke-width="0.9" />
<line x1="916.7" y1="1105.5" x2="917.9" y2="1103.8" stroke="#fff" stroke-width="0.9" />
<line x1="922.2" y1="1097.6" x2="923.4" y2="1095.9" stroke="#fff" stroke-width="0.9" />
<line x1="927.7" y1="1089.6" x2="928.9" y2="1087.9" stroke="#fff" stroke-width="0.9" />
<line x1="933.2" y1="1081.6" x2="934.5" y2="1079.9" stroke="#fff" stroke-width="0.9" />
<polygon points="808.0,978.0 813.7,975.4 940.0,1027.4 940.0,1034.5 936.5,1037.4 808.2,984.7" fill="#fff" stroke="#111" stroke-width="1.7" stroke-linejoin="round" />
<polyline points="808.0,978.5 936.5,1032.3 936.5,1037.4" fill="none" stroke="#111" stroke-width="1.4" stroke-linejoin="round" stroke-linecap="round" />
<polygon points="725.5,1500.4 801.5,1463.3 812.0,1459.5 844.6,1464.2 913.6,1492.7 913.6,1510.5 841.1,1550.5 818.7,1550.5 725.5,1510.0" fill="url(#dotsL)" stroke="#111" stroke-width="1.8" stroke-linejoin="round" />
<polygon points="725.5,1510.0 818.7,1550.5 818.7,1560.0 725.5,1520.0" fill="#fff" stroke="#111" stroke-width="1.8" stroke-linejoin="round" />
<polygon points="818.7,1550.5 841.1,1550.5 841.1,1560.0 818.7,1560.0" fill="#fff" stroke="#111" stroke-width="1.6" stroke-linejoin="round" />
<polygon points="841.1,1550.5 913.6,1510.5 913.6,1519.0 841.1,1560.0" fill="#666" stroke="#111" stroke-width="1.5" stroke-linejoin="round" />
<line x1="846.5" y1="1552.5" x2="848.0" y2="1555.5" stroke="#fff" stroke-width="0.9" />
<line x1="852.0" y1="1549.2" x2="853.5" y2="1552.2" stroke="#fff" stroke-width="0.9" />
<line x1="857.5" y1="1545.9" x2="859.0" y2="1548.9" stroke="#fff" stroke-width="0.9" />
<line x1="863.0" y1="1542.6" x2="864.5" y2="1545.6" stroke="#fff" stroke-width="0.9" />
<line x1="868.5" y1="1539.3" x2="870.0" y2="1542.3" stroke="#fff" stroke-width="0.9" />
<line x1="874.0" y1="1536.0" x2="875.5" y2="1539.0" stroke="#fff" stroke-width="0.9" />
<line x1="879.6" y1="1532.8" x2="881.1" y2="1535.8" stroke="#fff" stroke-width="0.9" />
<line x1="885.1" y1="1529.5" x2="886.6" y2="1532.5" stroke="#fff" stroke-width="0.9" />
<line x1="890.6" y1="1526.2" x2="892.1" y2="1529.2" stroke="#fff" stroke-width="0.9" />
<line x1="896.1" y1="1522.9" x2="897.6" y2="1525.9" stroke="#fff" stroke-width="0.9" />
<line x1="901.6" y1="1519.7" x2="903.1" y2="1522.7" stroke="#fff" stroke-width="0.9" />
<line x1="907.2" y1="1516.4" x2="908.7" y2="1519.4" stroke="#fff" stroke-width="0.9" />
<line x1="834.2" y1="1471.0" x2="834.2" y2="1550.0" stroke="#111" stroke-width="1.2" stroke-dasharray="5 4"/>
<polygon points="715.0,1216.4 836.6,1272.9 835.5,1470.4 714.1,1418.0" fill="#fff" stroke="#111" stroke-width="2" stroke-linejoin="round" />
<polygon points="715.0,1216.4 721.3,1210.1 843.0,1266.5 836.6,1272.9" fill="#555" stroke="#111" stroke-width="1.4" stroke-linejoin="round" />
<line x1="721.7" y1="1215.4" x2="724.3" y2="1216.6" stroke="#fff" stroke-width="0.9" />
<line x1="729.2" y1="1218.9" x2="731.8" y2="1220.1" stroke="#fff" stroke-width="0.9" />
<line x1="736.8" y1="1222.3" x2="739.4" y2="1223.5" stroke="#fff" stroke-width="0.9" />
<line x1="744.4" y1="1225.8" x2="747.0" y2="1227.0" stroke="#fff" stroke-width="0.9" />
<line x1="751.9" y1="1229.3" x2="754.5" y2="1230.5" stroke="#fff" stroke-width="0.9" />
<line x1="759.5" y1="1232.8" x2="762.1" y2="1234.0" stroke="#fff" stroke-width="0.9" />
<line x1="767.1" y1="1236.3" x2="769.7" y2="1237.5" stroke="#fff" stroke-width="0.9" />
<line x1="774.6" y1="1239.8" x2="777.2" y2="1241.0" stroke="#fff" stroke-width="0.9" />
<line x1="782.2" y1="1243.3" x2="784.8" y2="1244.5" stroke="#fff" stroke-width="0.9" />
<line x1="789.8" y1="1246.8" x2="792.4" y2="1248.0" stroke="#fff" stroke-width="0.9" />
<line x1="797.3" y1="1250.3" x2="799.9" y2="1251.5" stroke="#fff" stroke-width="0.9" />
<line x1="804.9" y1="1253.8" x2="807.5" y2="1255.0" stroke="#fff" stroke-width="0.9" />
<line x1="812.4" y1="1257.3" x2="815.0" y2="1258.5" stroke="#fff" stroke-width="0.9" />
<line x1="820.0" y1="1260.8" x2="822.6" y2="1262.0" stroke="#fff" stroke-width="0.9" />
<line x1="827.6" y1="1264.3" x2="830.2" y2="1265.5" stroke="#fff" stroke-width="0.9" />
<line x1="835.1" y1="1267.8" x2="837.7" y2="1269.0" stroke="#fff" stroke-width="0.9" />
<polygon points="836.6,1272.9 843.0,1266.5 842.6,1463.3 835.5,1470.4" fill="#fff" stroke="#111" stroke-width="1.8" stroke-linejoin="round" />
<ellipse cx="767.1" cy="1299.2" rx="8.6" ry="11.6" fill="#fff" stroke="#111" stroke-width="1.2" transform="rotate(-8 767.1 1299.2)"/>
<ellipse cx="771.3" cy="1296.8" rx="6.6" ry="9.2" fill="#111" transform="rotate(-8 771.3 1296.8)"/>
<path d="M761,1301 C762,1306 766,1309 771,1308" fill="none" stroke="#111" stroke-width="0.8" stroke-linecap="round" stroke-linejoin="round" />
<text x="0" y="0" font-size="19.5" font-weight="bold" font-family="'Liberation Sans', sans-serif" stroke="#111" stroke-width="0.3" textLength="100" lengthAdjust="spacingAndGlyphs" transform="matrix(0.9219 0.3875 -0.2215 0.9751 823 975.5)">wood strip</text>
<text x="0" y="0" font-size="18.5" font-weight="bold" font-family="'Liberation Sans', sans-serif" stroke="#111" stroke-width="0.3" textLength="37" lengthAdjust="spacingAndGlyphs" transform="matrix(0.9063 0.4226 -0.0698 0.9976 824.4 1069.3)">TOP</text>
<text x="0" y="0" font-size="17.8" font-weight="bold" font-family="'Liberation Sans', sans-serif" stroke="#111" stroke-width="0.3" textLength="52" lengthAdjust="spacingAndGlyphs" transform="matrix(0.8957 0.4446 -0.4210 0.9070 853.7 1169.6)">BACK</text>
<text x="0" y="0" font-size="19" font-weight="bold" font-family="'Liberation Sans', sans-serif" stroke="#111" stroke-width="0.3" textLength="45" lengthAdjust="spacingAndGlyphs" transform="matrix(0.9373 -0.3486 0.4478 0.8942 761 1217.3)">SIDE</text>
<text x="0" y="0" font-size="18" font-weight="bold" font-family="'Liberation Sans', sans-serif" stroke="#111" stroke-width="0.3" textLength="45" lengthAdjust="spacingAndGlyphs" transform="matrix(0.8829 -0.4695 0.5344 0.8453 877.6 1333.9)">SIDE</text>
<text x="0" y="0" font-size="18" font-weight="bold" font-family="'Liberation Sans', sans-serif" stroke="#111" stroke-width="0.3" textLength="63" lengthAdjust="spacingAndGlyphs" transform="matrix(0.9018 0.4321 -0.3567 0.9342 735.5 1331.1)">FRONT</text>
<text x="767" y="1510" font-size="21" font-weight="bold" font-family="'Liberation Sans', sans-serif" textLength="84.5" lengthAdjust="spacingAndGlyphs" stroke="#111" stroke-width="0.4">BOTTOM</text>
<text x="933.6" y="1530.2" font-size="14" font-family="'Liberation Sans', sans-serif" textLength="26.4" lengthAdjust="spacingAndGlyphs" transform="rotate(2.6 933.6 1530.2)" stroke="#111" stroke-width="0.9">CUT</text>
<text x="969.8" y="1531.8" font-size="14" font-family="'Liberation Sans', sans-serif" textLength="28.0" lengthAdjust="spacing" transform="rotate(2.6 969.8 1531.8)" stroke="#111" stroke-width="0.9">I/4"</text>
<text x="1006.6" y="1533.5" font-size="14" font-family="'Liberation Sans', sans-serif" textLength="26.4" lengthAdjust="spacingAndGlyphs" transform="rotate(2.6 1006.6 1533.5)" stroke="#111" stroke-width="0.9">OFF</text>
<text x="934.2" y="1546.8" font-size="14" font-family="'Liberation Sans', sans-serif" textLength="62.5" lengthAdjust="spacingAndGlyphs" transform="rotate(2.6 934.2 1546.8)" stroke="#111" stroke-width="0.9">CORNERS</text>
<text x="1006.6" y="1550.1" font-size="14" font-family="'Liberation Sans', sans-serif" textLength="25.8" lengthAdjust="spacingAndGlyphs" transform="rotate(2.6 1006.6 1550.1)" stroke="#111" stroke-width="0.9">FOR</text>
<text x="934.2" y="1561.3" font-size="14" font-family="'Liberation Sans', sans-serif" textLength="65.8" lengthAdjust="spacingAndGlyphs" transform="rotate(2.6 934.2 1561.3)" stroke="#111" stroke-width="0.9">DRAINAGE</text>
<path d="M931,1525.7 C924,1524 924,1517 928,1513 C933,1508 930,1503 920,1500" fill="none" stroke="#111" stroke-width="1.6" stroke-linecap="round" stroke-linejoin="round" />
<polygon points="925.7,1499.2 917.3,1499.0 924.0,1504.1 923.0,1501.0" fill="#111" stroke="#111" stroke-width="0.6" stroke-linejoin="round" />
<path d="M1075,1417 L1064,1422 L1073,1424 L1062,1429" fill="none" stroke="#111" stroke-width="1.5" stroke-linecap="round" stroke-linejoin="round" />
<path d="M1085,1421 C1080,1421 1078,1428 1082,1429 C1086,1430 1088,1426 1086,1425" fill="none" stroke="#111" stroke-width="1.5" stroke-linecap="round" stroke-linejoin="round" />
<path d="M1090,1421 L1090,1429 L1096,1423 L1096,1431 M1097,1423 L1100,1430 L1103,1423 L1106,1430" fill="none" stroke="#111" stroke-width="1.5" stroke-linecap="round" stroke-linejoin="round" />
<path d="M1119,1424 C1124,1420 1130,1417 1128,1415 C1124,1414 1120,1420 1124,1422 C1127,1424 1120,1426 1119,1424 Z" fill="none" stroke="#111" stroke-width="1.6" stroke-linecap="round" stroke-linejoin="round" />
<path d="M1131,1418 C1136,1414 1140,1417 1136,1421 C1133,1424 1135,1425 1145,1424" fill="none" stroke="#111" stroke-width="1.4" stroke-linecap="round" stroke-linejoin="round" />
</svg>
</body></html>
